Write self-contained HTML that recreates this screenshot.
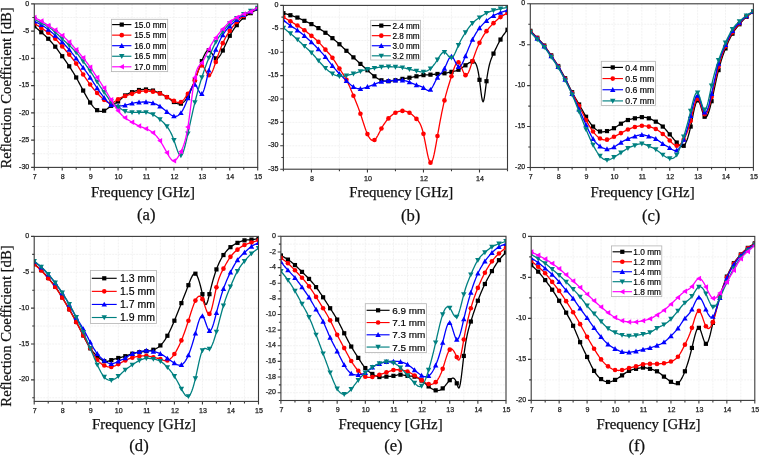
<!DOCTYPE html>
<html><head><meta charset="utf-8"><style>html,body{margin:0;padding:0;background:#fff;overflow:hidden;}svg{display:block;will-change:transform;}</style></head>
<body>
<svg width="760" height="456" viewBox="0 0 760 456">
<rect width="760" height="456" fill="#fff"/>
<path d="M48.26 3.90V167.40 M62.22 3.90V167.40 M76.19 3.90V167.40 M90.15 3.90V167.40 M104.11 3.90V167.40 M118.07 3.90V167.40 M132.04 3.90V167.40 M146.00 3.90V167.40 M159.96 3.90V167.40 M173.93 3.90V167.40 M187.89 3.90V167.40 M201.85 3.90V167.40 M215.81 3.90V167.40 M229.77 3.90V167.40 M243.74 3.90V167.40 M34.30 17.52H257.70 M34.30 31.15H257.70 M34.30 44.77H257.70 M34.30 58.40H257.70 M34.30 72.03H257.70 M34.30 85.65H257.70 M34.30 99.28H257.70 M34.30 112.90H257.70 M34.30 126.53H257.70 M34.30 140.15H257.70 M34.30 153.78H257.70" stroke="#f1f1f1" stroke-width="0.9" stroke-dasharray="2 1" fill="none"/>
<clipPath id="cpa"><rect x="34.30" y="3.90" width="223.40" height="163.50"/></clipPath><g clip-path="url(#cpa)">
<polyline points="34.30,26.24 35.00,26.84 35.70,27.43 36.39,28.02 37.09,28.62 37.79,29.21 38.49,29.81 39.19,30.41 39.89,31.02 40.58,31.63 41.28,32.24 41.98,32.86 42.68,33.48 43.38,34.11 44.07,34.75 44.77,35.39 45.47,36.05 46.17,36.71 46.87,37.39 47.56,38.08 48.26,38.78 48.96,39.50 49.66,40.23 50.36,40.97 51.05,41.73 51.75,42.51 52.45,43.31 53.15,44.12 53.85,44.96 54.55,45.81 55.24,46.68 55.94,47.58 56.64,48.49 57.34,49.42 58.04,50.36 58.73,51.32 59.43,52.28 60.13,53.26 60.83,54.24 61.53,55.23 62.22,56.22 62.92,57.21 63.62,58.20 64.32,59.20 65.02,60.20 65.72,61.20 66.41,62.21 67.11,63.22 67.81,64.24 68.51,65.27 69.21,66.30 69.90,67.35 70.60,68.40 71.30,69.47 72.00,70.55 72.70,71.65 73.40,72.77 74.09,73.91 74.79,75.07 75.49,76.26 76.19,77.48 76.89,78.72 77.58,79.99 78.28,81.28 78.98,82.59 79.68,83.91 80.38,85.24 81.07,86.57 81.77,87.91 82.47,89.24 83.17,90.56 83.87,91.86 84.57,93.15 85.26,94.42 85.96,95.67 86.66,96.90 87.36,98.10 88.06,99.26 88.75,100.39 89.45,101.49 90.15,102.55 90.85,103.56 91.55,104.52 92.24,105.44 92.94,106.31 93.64,107.11 94.34,107.86 95.04,108.54 95.73,109.16 96.43,109.70 97.13,110.18 97.83,110.57 98.53,110.89 99.23,111.13 99.92,111.29 100.62,111.38 101.32,111.40 102.02,111.34 102.72,111.20 103.41,111.00 104.11,110.72 104.81,110.37 105.51,109.96 106.21,109.50 106.90,109.01 107.60,108.48 108.30,107.94 109.00,107.39 109.70,106.84 110.40,106.32 111.09,105.81 111.79,105.35 112.49,104.91 113.19,104.50 113.89,104.09 114.58,103.69 115.28,103.29 115.98,102.87 116.68,102.43 117.38,101.96 118.07,101.45 118.77,100.90 119.47,100.31 120.17,99.70 120.87,99.06 121.57,98.42 122.26,97.78 122.96,97.16 123.66,96.55 124.36,95.99 125.06,95.46 125.75,94.98 126.45,94.56 127.15,94.17 127.85,93.82 128.55,93.51 129.25,93.21 129.94,92.94 130.64,92.68 131.34,92.44 132.04,92.19 132.74,91.94 133.43,91.70 134.13,91.45 134.83,91.21 135.53,90.98 136.23,90.76 136.92,90.55 137.62,90.35 138.32,90.17 139.02,90.01 139.72,89.87 140.42,89.75 141.11,89.65 141.81,89.57 142.51,89.51 143.21,89.47 143.91,89.45 144.60,89.44 145.30,89.44 146.00,89.47 146.70,89.50 147.40,89.55 148.09,89.62 148.79,89.70 149.49,89.80 150.19,89.91 150.89,90.05 151.58,90.20 152.28,90.37 152.98,90.56 153.68,90.76 154.38,90.99 155.08,91.23 155.77,91.49 156.47,91.76 157.17,92.04 157.87,92.34 158.57,92.64 159.26,92.96 159.96,93.28 160.66,93.61 161.36,93.94 162.06,94.29 162.75,94.64 163.45,95.01 164.15,95.39 164.85,95.79 165.55,96.20 166.25,96.64 166.94,97.10 167.64,97.57 168.34,98.07 169.04,98.57 169.74,99.08 170.43,99.60 171.13,100.11 171.83,100.61 172.53,101.09 173.23,101.56 173.93,102.00 174.62,102.41 175.32,102.78 176.02,103.11 176.72,103.39 177.42,103.61 178.11,103.77 178.81,103.85 179.51,103.87 180.21,103.80 180.91,103.64 181.60,103.38 182.30,103.03 183.00,102.58 183.70,102.03 184.40,101.37 185.09,100.62 185.79,99.76 186.49,98.80 187.19,97.73 187.89,96.55 188.59,95.26 189.28,93.88 189.98,92.40 190.68,90.84 191.38,89.20 192.08,87.50 192.77,85.74 193.47,83.93 194.17,82.08 194.87,80.20 195.57,78.29 196.26,76.37 196.96,74.44 197.66,72.50 198.36,70.56 199.06,68.63 199.76,66.72 200.45,64.83 201.15,62.96 201.85,61.12 202.55,59.33 203.25,57.62 203.94,56.00 204.64,54.52 205.34,53.20 206.04,52.08 206.74,51.20 207.43,50.57 208.13,50.23 208.83,50.22 209.53,50.56 210.23,51.17 210.93,52.02 211.62,53.01 212.32,54.09 213.02,55.19 213.72,56.23 214.42,57.16 215.11,57.91 215.81,58.40 216.51,58.59 217.21,58.48 217.91,58.11 218.61,57.51 219.30,56.69 220.00,55.70 220.70,54.56 221.40,53.29 222.10,51.93 222.79,50.50 223.49,49.03 224.19,47.53 224.89,46.01 225.59,44.48 226.28,42.96 226.98,41.46 227.68,39.98 228.38,38.53 229.08,37.13 229.77,35.78 230.47,34.50 231.17,33.28 231.87,32.12 232.57,31.01 233.27,29.95 233.96,28.93 234.66,27.94 235.36,26.99 236.06,26.06 236.76,25.15 237.45,24.27 238.15,23.40 238.85,22.55 239.55,21.73 240.25,20.94 240.94,20.18 241.64,19.45 242.34,18.77 243.04,18.12 243.74,17.52 244.44,16.97 245.13,16.46 245.83,15.99 246.53,15.54 247.23,15.12 247.93,14.72 248.62,14.33 249.32,13.94 250.02,13.56 250.72,13.16 251.42,12.76 252.12,12.35 252.81,11.93 253.51,11.50 254.21,11.06 254.91,10.62 255.61,10.17 256.30,9.72 257.00,9.26 257.70,8.80" stroke="#000000" stroke-width="1.3" fill="none" stroke-linejoin="round"/>
<rect x="32.20" y="24.14" width="4.20" height="4.20" fill="#000000"/>
<rect x="39.18" y="30.14" width="4.20" height="4.20" fill="#000000"/>
<rect x="46.16" y="36.68" width="4.20" height="4.20" fill="#000000"/>
<rect x="53.14" y="44.58" width="4.20" height="4.20" fill="#000000"/>
<rect x="60.12" y="54.12" width="4.20" height="4.20" fill="#000000"/>
<rect x="67.11" y="64.20" width="4.20" height="4.20" fill="#000000"/>
<rect x="74.09" y="75.38" width="4.20" height="4.20" fill="#000000"/>
<rect x="81.07" y="88.46" width="4.20" height="4.20" fill="#000000"/>
<rect x="88.05" y="100.45" width="4.20" height="4.20" fill="#000000"/>
<rect x="95.03" y="108.08" width="4.20" height="4.20" fill="#000000"/>
<rect x="102.01" y="108.62" width="4.20" height="4.20" fill="#000000"/>
<rect x="108.99" y="103.72" width="4.20" height="4.20" fill="#000000"/>
<rect x="115.97" y="99.35" width="4.20" height="4.20" fill="#000000"/>
<rect x="122.96" y="93.36" width="4.20" height="4.20" fill="#000000"/>
<rect x="129.94" y="90.09" width="4.20" height="4.20" fill="#000000"/>
<rect x="136.92" y="87.91" width="4.20" height="4.20" fill="#000000"/>
<rect x="143.90" y="87.37" width="4.20" height="4.20" fill="#000000"/>
<rect x="150.88" y="88.46" width="4.20" height="4.20" fill="#000000"/>
<rect x="157.86" y="91.18" width="4.20" height="4.20" fill="#000000"/>
<rect x="164.84" y="95.00" width="4.20" height="4.20" fill="#000000"/>
<rect x="171.83" y="99.90" width="4.20" height="4.20" fill="#000000"/>
<rect x="178.81" y="101.54" width="4.20" height="4.20" fill="#000000"/>
<rect x="185.79" y="94.45" width="4.20" height="4.20" fill="#000000"/>
<rect x="192.77" y="78.10" width="4.20" height="4.20" fill="#000000"/>
<rect x="199.75" y="59.02" width="4.20" height="4.20" fill="#000000"/>
<rect x="206.73" y="48.12" width="4.20" height="4.20" fill="#000000"/>
<rect x="213.71" y="56.30" width="4.20" height="4.20" fill="#000000"/>
<rect x="220.69" y="48.40" width="4.20" height="4.20" fill="#000000"/>
<rect x="227.67" y="33.68" width="4.20" height="4.20" fill="#000000"/>
<rect x="234.66" y="23.05" width="4.20" height="4.20" fill="#000000"/>
<rect x="241.64" y="15.42" width="4.20" height="4.20" fill="#000000"/>
<rect x="248.62" y="11.06" width="4.20" height="4.20" fill="#000000"/>
<rect x="255.60" y="6.71" width="4.20" height="4.20" fill="#000000"/>
<polyline points="34.30,23.52 35.00,23.95 35.70,24.37 36.39,24.80 37.09,25.23 37.79,25.66 38.49,26.10 39.19,26.54 39.89,26.98 40.58,27.43 41.28,27.88 41.98,28.34 42.68,28.80 43.38,29.27 44.07,29.75 44.77,30.24 45.47,30.73 46.17,31.23 46.87,31.74 47.56,32.26 48.26,32.79 48.96,33.32 49.66,33.87 50.36,34.43 51.05,35.00 51.75,35.59 52.45,36.19 53.15,36.81 53.85,37.45 54.55,38.10 55.24,38.78 55.94,39.48 56.64,40.20 57.34,40.93 58.04,41.68 58.73,42.45 59.43,43.23 60.13,44.01 60.83,44.81 61.53,45.61 62.22,46.41 62.92,47.22 63.62,48.02 64.32,48.83 65.02,49.65 65.72,50.46 66.41,51.28 67.11,52.10 67.81,52.93 68.51,53.75 69.21,54.59 69.90,55.42 70.60,56.26 71.30,57.12 72.00,57.98 72.70,58.86 73.40,59.76 74.09,60.67 74.79,61.61 75.49,62.58 76.19,63.58 76.89,64.60 77.58,65.66 78.28,66.73 78.98,67.82 79.68,68.93 80.38,70.04 81.07,71.16 81.77,72.27 82.47,73.38 83.17,74.48 83.87,75.56 84.57,76.62 85.26,77.67 85.96,78.71 86.66,79.72 87.36,80.72 88.06,81.71 88.75,82.68 89.45,83.63 90.15,84.56 90.85,85.48 91.55,86.38 92.24,87.26 92.94,88.13 93.64,88.98 94.34,89.82 95.04,90.64 95.73,91.44 96.43,92.23 97.13,93.01 97.83,93.77 98.53,94.51 99.23,95.24 99.92,95.95 100.62,96.64 101.32,97.32 102.02,97.98 102.72,98.61 103.41,99.23 104.11,99.82 104.81,100.39 105.51,100.93 106.21,101.43 106.90,101.88 107.60,102.27 108.30,102.60 109.00,102.86 109.70,103.03 110.40,103.11 111.09,103.09 111.79,102.96 112.49,102.74 113.19,102.44 113.89,102.08 114.58,101.66 115.28,101.20 115.98,100.72 116.68,100.23 117.38,99.74 118.07,99.28 118.77,98.84 119.47,98.43 120.17,98.05 120.87,97.70 121.57,97.37 122.26,97.06 122.96,96.78 123.66,96.50 124.36,96.25 125.06,96.00 125.75,95.77 126.45,95.55 127.15,95.33 127.85,95.12 128.55,94.91 129.25,94.70 129.94,94.48 130.64,94.27 131.34,94.05 132.04,93.83 132.74,93.59 133.43,93.35 134.13,93.11 134.83,92.87 135.53,92.63 136.23,92.41 136.92,92.19 137.62,91.99 138.32,91.81 139.02,91.65 139.72,91.51 140.42,91.39 141.11,91.30 141.81,91.23 142.51,91.17 143.21,91.13 143.91,91.11 144.60,91.10 145.30,91.09 146.00,91.10 146.70,91.11 147.40,91.13 148.09,91.16 148.79,91.20 149.49,91.25 150.19,91.30 150.89,91.37 151.58,91.45 152.28,91.54 152.98,91.65 153.68,91.76 154.38,91.89 155.08,92.04 155.77,92.20 156.47,92.38 157.17,92.58 157.87,92.79 158.57,93.03 159.26,93.28 159.96,93.55 160.66,93.85 161.36,94.16 162.06,94.49 162.75,94.83 163.45,95.19 164.15,95.56 164.85,95.93 165.55,96.32 166.25,96.70 166.94,97.10 167.64,97.49 168.34,97.88 169.04,98.27 169.74,98.66 170.43,99.05 171.13,99.43 171.83,99.81 172.53,100.18 173.23,100.55 173.93,100.91 174.62,101.26 175.32,101.59 176.02,101.89 176.72,102.15 177.42,102.34 178.11,102.46 178.81,102.50 179.51,102.45 180.21,102.29 180.91,102.00 181.60,101.58 182.30,101.05 183.00,100.40 183.70,99.66 184.40,98.83 185.09,97.92 185.79,96.96 186.49,95.95 187.19,94.90 187.89,93.83 188.59,92.74 189.28,91.62 189.98,90.47 190.68,89.26 191.38,87.99 192.08,86.64 192.77,85.20 193.47,83.66 194.17,81.99 194.87,80.20 195.57,78.27 196.26,76.27 196.96,74.26 197.66,72.30 198.36,70.47 199.06,68.82 199.76,67.44 200.45,66.37 201.15,65.70 201.85,65.49 202.55,65.77 203.25,66.47 203.94,67.50 204.64,68.75 205.34,70.13 206.04,71.52 206.74,72.84 207.43,73.97 208.13,74.82 208.83,75.30 209.53,75.31 210.23,74.89 210.93,74.09 211.62,72.95 212.32,71.53 213.02,69.88 213.72,68.05 214.42,66.08 215.11,64.03 215.81,61.94 216.51,59.87 217.21,57.82 217.91,55.80 218.61,53.81 219.30,51.88 220.00,50.00 220.70,48.17 221.40,46.42 222.10,44.74 222.79,43.14 223.49,41.63 224.19,40.20 224.89,38.85 225.59,37.56 226.28,36.34 226.98,35.17 227.68,34.04 228.38,32.96 229.08,31.90 229.77,30.88 230.47,29.87 231.17,28.88 231.87,27.92 232.57,26.97 233.27,26.06 233.96,25.16 234.66,24.30 235.36,23.46 236.06,22.66 236.76,21.88 237.45,21.15 238.15,20.44 238.85,19.77 239.55,19.13 240.25,18.51 240.94,17.93 241.64,17.38 242.34,16.86 243.04,16.36 243.74,15.89 244.44,15.45 245.13,15.02 245.83,14.62 246.53,14.23 247.23,13.86 247.93,13.50 248.62,13.14 249.32,12.79 250.02,12.43 250.72,12.08 251.42,11.71 252.12,11.34 252.81,10.97 253.51,10.59 254.21,10.21 254.91,9.82 255.61,9.43 256.30,9.04 257.00,8.65 257.70,8.26" stroke="#ff0000" stroke-width="1.3" fill="none" stroke-linejoin="round"/>
<circle cx="34.30" cy="23.52" r="2.31" fill="#ff0000"/>
<circle cx="41.28" cy="27.88" r="2.31" fill="#ff0000"/>
<circle cx="48.26" cy="32.79" r="2.31" fill="#ff0000"/>
<circle cx="55.24" cy="38.78" r="2.31" fill="#ff0000"/>
<circle cx="62.22" cy="46.41" r="2.31" fill="#ff0000"/>
<circle cx="69.21" cy="54.59" r="2.31" fill="#ff0000"/>
<circle cx="76.19" cy="63.58" r="2.31" fill="#ff0000"/>
<circle cx="83.17" cy="74.48" r="2.31" fill="#ff0000"/>
<circle cx="90.15" cy="84.56" r="2.31" fill="#ff0000"/>
<circle cx="97.13" cy="93.01" r="2.31" fill="#ff0000"/>
<circle cx="104.11" cy="99.82" r="2.31" fill="#ff0000"/>
<circle cx="111.09" cy="103.09" r="2.31" fill="#ff0000"/>
<circle cx="118.07" cy="99.28" r="2.31" fill="#ff0000"/>
<circle cx="125.06" cy="96.00" r="2.31" fill="#ff0000"/>
<circle cx="132.04" cy="93.83" r="2.31" fill="#ff0000"/>
<circle cx="139.02" cy="91.65" r="2.31" fill="#ff0000"/>
<circle cx="146.00" cy="91.10" r="2.31" fill="#ff0000"/>
<circle cx="152.98" cy="91.65" r="2.31" fill="#ff0000"/>
<circle cx="159.96" cy="93.55" r="2.31" fill="#ff0000"/>
<circle cx="166.94" cy="97.10" r="2.31" fill="#ff0000"/>
<circle cx="173.93" cy="100.91" r="2.31" fill="#ff0000"/>
<circle cx="180.91" cy="102.00" r="2.31" fill="#ff0000"/>
<circle cx="187.89" cy="93.83" r="2.31" fill="#ff0000"/>
<circle cx="194.87" cy="80.20" r="2.31" fill="#ff0000"/>
<circle cx="201.85" cy="65.49" r="2.31" fill="#ff0000"/>
<circle cx="208.83" cy="75.30" r="2.31" fill="#ff0000"/>
<circle cx="215.81" cy="61.94" r="2.31" fill="#ff0000"/>
<circle cx="222.79" cy="43.14" r="2.31" fill="#ff0000"/>
<circle cx="229.77" cy="30.88" r="2.31" fill="#ff0000"/>
<circle cx="236.76" cy="21.88" r="2.31" fill="#ff0000"/>
<circle cx="243.74" cy="15.89" r="2.31" fill="#ff0000"/>
<circle cx="250.72" cy="12.08" r="2.31" fill="#ff0000"/>
<circle cx="257.70" cy="8.26" r="2.31" fill="#ff0000"/>
<polyline points="34.30,21.34 35.00,21.67 35.70,22.01 36.39,22.35 37.09,22.69 37.79,23.04 38.49,23.39 39.19,23.75 39.89,24.12 40.58,24.49 41.28,24.88 41.98,25.28 42.68,25.70 43.38,26.12 44.07,26.56 44.77,27.02 45.47,27.48 46.17,27.97 46.87,28.47 47.56,28.98 48.26,29.52 48.96,30.06 49.66,30.63 50.36,31.21 51.05,31.80 51.75,32.40 52.45,33.01 53.15,33.63 53.85,34.25 54.55,34.88 55.24,35.51 55.94,36.14 56.64,36.77 57.34,37.41 58.04,38.05 58.73,38.69 59.43,39.35 60.13,40.01 60.83,40.68 61.53,41.36 62.22,42.05 62.92,42.76 63.62,43.47 64.32,44.21 65.02,44.95 65.72,45.71 66.41,46.48 67.11,47.26 67.81,48.05 68.51,48.86 69.21,49.68 69.90,50.51 70.60,51.35 71.30,52.20 72.00,53.07 72.70,53.94 73.40,54.82 74.09,55.70 74.79,56.60 75.49,57.50 76.19,58.40 76.89,59.31 77.58,60.22 78.28,61.14 78.98,62.06 79.68,62.99 80.38,63.91 81.07,64.85 81.77,65.78 82.47,66.72 83.17,67.66 83.87,68.61 84.57,69.56 85.26,70.52 85.96,71.48 86.66,72.45 87.36,73.43 88.06,74.42 88.75,75.43 89.45,76.44 90.15,77.48 90.85,78.52 91.55,79.58 92.24,80.65 92.94,81.72 93.64,82.80 94.34,83.87 95.04,84.94 95.73,86.01 96.43,87.06 97.13,88.10 97.83,89.13 98.53,90.13 99.23,91.12 99.92,92.10 100.62,93.06 101.32,94.00 102.02,94.93 102.72,95.85 103.41,96.75 104.11,97.64 104.81,98.52 105.51,99.37 106.21,100.21 106.90,101.01 107.60,101.76 108.30,102.48 109.00,103.14 109.70,103.74 110.40,104.27 111.09,104.73 111.79,105.10 112.49,105.41 113.19,105.65 113.89,105.83 114.58,105.96 115.28,106.05 115.98,106.09 116.68,106.11 117.38,106.11 118.07,106.09 118.77,106.06 119.47,106.02 120.17,105.97 120.87,105.91 121.57,105.84 122.26,105.76 122.96,105.66 123.66,105.55 124.36,105.42 125.06,105.27 125.75,105.11 126.45,104.93 127.15,104.74 127.85,104.54 128.55,104.33 129.25,104.13 129.94,103.93 130.64,103.73 131.34,103.54 132.04,103.36 132.74,103.20 133.43,103.05 134.13,102.92 134.83,102.80 135.53,102.69 136.23,102.59 136.92,102.50 137.62,102.42 138.32,102.34 139.02,102.27 139.72,102.21 140.42,102.15 141.11,102.10 141.81,102.06 142.51,102.02 143.21,101.99 143.91,101.98 144.60,101.97 145.30,101.98 146.00,102.00 146.70,102.03 147.40,102.08 148.09,102.14 148.79,102.22 149.49,102.32 150.19,102.43 150.89,102.57 151.58,102.72 152.28,102.89 152.98,103.09 153.68,103.31 154.38,103.55 155.08,103.81 155.77,104.10 156.47,104.41 157.17,104.75 157.87,105.11 158.57,105.50 159.26,105.92 159.96,106.36 160.66,106.83 161.36,107.33 162.06,107.84 162.75,108.38 163.45,108.93 164.15,109.49 164.85,110.07 165.55,110.65 166.25,111.23 166.94,111.81 167.64,112.39 168.34,112.96 169.04,113.51 169.74,114.03 170.43,114.52 171.13,114.96 171.83,115.36 172.53,115.70 173.23,115.97 173.93,116.17 174.62,116.29 175.32,116.32 176.02,116.26 176.72,116.11 177.42,115.86 178.11,115.50 178.81,115.03 179.51,114.44 180.21,113.73 180.91,112.90 181.60,111.94 182.30,110.85 183.00,109.64 183.70,108.32 184.40,106.88 185.09,105.34 185.79,103.69 186.49,101.95 187.19,100.11 187.89,98.19 188.59,96.18 189.28,94.16 189.98,92.17 190.68,90.29 191.38,88.57 192.08,87.07 192.77,85.86 193.47,85.00 194.17,84.54 194.87,84.56 195.57,85.08 196.26,86.01 196.96,87.24 197.66,88.63 198.36,90.08 199.06,91.45 199.76,92.64 200.45,93.51 201.15,93.94 201.85,93.83 202.55,93.07 203.25,91.72 203.94,89.88 204.64,87.62 205.34,85.04 206.04,82.23 206.74,79.27 207.43,76.25 208.13,73.26 208.83,70.39 209.53,67.70 210.23,65.21 210.93,62.88 211.62,60.69 212.32,58.64 213.02,56.70 213.72,54.85 214.42,53.08 215.11,51.36 215.81,49.68 216.51,48.02 217.21,46.38 217.91,44.78 218.61,43.21 219.30,41.69 220.00,40.22 220.70,38.80 221.40,37.45 222.10,36.17 222.79,34.97 223.49,33.84 224.19,32.80 224.89,31.82 225.59,30.90 226.28,30.04 226.98,29.22 227.68,28.44 228.38,27.69 229.08,26.96 229.77,26.24 230.47,25.54 231.17,24.85 231.87,24.16 232.57,23.48 233.27,22.82 233.96,22.17 234.66,21.53 235.36,20.91 236.06,20.30 236.76,19.70 237.45,19.13 238.15,18.57 238.85,18.03 239.55,17.51 240.25,17.01 240.94,16.53 241.64,16.06 242.34,15.62 243.04,15.20 243.74,14.80 244.44,14.42 245.13,14.06 245.83,13.72 246.53,13.38 247.23,13.06 247.93,12.75 248.62,12.44 249.32,12.14 250.02,11.84 250.72,11.53 251.42,11.22 252.12,10.90 252.81,10.58 253.51,10.26 254.21,9.93 254.91,9.60 255.61,9.27 256.30,8.93 257.00,8.60 257.70,8.26" stroke="#0000ff" stroke-width="1.3" fill="none" stroke-linejoin="round"/>
<polygon points="34.30,18.61 37.03,23.52 31.57,23.52" fill="#0000ff"/>
<polygon points="41.28,22.15 44.01,27.07 38.55,27.07" fill="#0000ff"/>
<polygon points="48.26,26.79 50.99,31.70 45.53,31.70" fill="#0000ff"/>
<polygon points="55.24,32.78 57.97,37.69 52.51,37.69" fill="#0000ff"/>
<polygon points="62.22,39.32 64.95,44.23 59.49,44.23" fill="#0000ff"/>
<polygon points="69.21,46.95 71.94,51.86 66.48,51.86" fill="#0000ff"/>
<polygon points="76.19,55.67 78.92,60.58 73.46,60.58" fill="#0000ff"/>
<polygon points="83.17,64.93 85.90,69.85 80.44,69.85" fill="#0000ff"/>
<polygon points="90.15,74.75 92.88,79.66 87.42,79.66" fill="#0000ff"/>
<polygon points="97.13,85.37 99.86,90.29 94.40,90.29" fill="#0000ff"/>
<polygon points="104.11,94.91 106.84,99.82 101.38,99.82" fill="#0000ff"/>
<polygon points="111.09,102.00 113.82,106.91 108.36,106.91" fill="#0000ff"/>
<polygon points="118.07,103.36 120.80,108.27 115.34,108.27" fill="#0000ff"/>
<polygon points="125.06,102.54 127.79,107.45 122.33,107.45" fill="#0000ff"/>
<polygon points="132.04,100.63 134.77,105.55 129.31,105.55" fill="#0000ff"/>
<polygon points="139.02,99.54 141.75,104.46 136.29,104.46" fill="#0000ff"/>
<polygon points="146.00,99.27 148.73,104.18 143.27,104.18" fill="#0000ff"/>
<polygon points="152.98,100.36 155.71,105.27 150.25,105.27" fill="#0000ff"/>
<polygon points="159.96,103.63 162.69,108.54 157.23,108.54" fill="#0000ff"/>
<polygon points="166.94,109.08 169.67,113.99 164.21,113.99" fill="#0000ff"/>
<polygon points="173.93,113.44 176.66,118.35 171.20,118.35" fill="#0000ff"/>
<polygon points="180.91,110.17 183.64,115.08 178.18,115.08" fill="#0000ff"/>
<polygon points="187.89,95.45 190.62,100.37 185.16,100.37" fill="#0000ff"/>
<polygon points="194.87,81.83 197.60,86.74 192.14,86.74" fill="#0000ff"/>
<polygon points="201.85,91.10 204.58,96.01 199.12,96.01" fill="#0000ff"/>
<polygon points="208.83,67.66 211.56,72.57 206.10,72.57" fill="#0000ff"/>
<polygon points="215.81,46.95 218.54,51.86 213.08,51.86" fill="#0000ff"/>
<polygon points="222.79,32.23 225.52,37.15 220.06,37.15" fill="#0000ff"/>
<polygon points="229.77,23.51 232.50,28.43 227.04,28.43" fill="#0000ff"/>
<polygon points="236.76,16.97 239.49,21.89 234.03,21.89" fill="#0000ff"/>
<polygon points="243.74,12.07 246.47,16.98 241.01,16.98" fill="#0000ff"/>
<polygon points="250.72,8.80 253.45,13.71 247.99,13.71" fill="#0000ff"/>
<polygon points="257.70,5.53 260.43,10.44 254.97,10.44" fill="#0000ff"/>
<polyline points="34.30,19.16 35.00,19.55 35.70,19.94 36.39,20.33 37.09,20.72 37.79,21.10 38.49,21.49 39.19,21.86 39.89,22.24 40.58,22.61 41.28,22.97 41.98,23.33 42.68,23.69 43.38,24.05 44.07,24.41 44.77,24.77 45.47,25.15 46.17,25.53 46.87,25.93 47.56,26.35 48.26,26.79 48.96,27.25 49.66,27.73 50.36,28.24 51.05,28.76 51.75,29.30 52.45,29.86 53.15,30.43 53.85,31.02 54.55,31.62 55.24,32.24 55.94,32.87 56.64,33.50 57.34,34.15 58.04,34.80 58.73,35.46 59.43,36.12 60.13,36.79 60.83,37.45 61.53,38.12 62.22,38.78 62.92,39.44 63.62,40.10 64.32,40.75 65.02,41.41 65.72,42.06 66.41,42.71 67.11,43.36 67.81,44.01 68.51,44.67 69.21,45.32 69.90,45.98 70.60,46.63 71.30,47.30 72.00,47.98 72.70,48.67 73.40,49.37 74.09,50.10 74.79,50.84 75.49,51.61 76.19,52.41 76.89,53.23 77.58,54.08 78.28,54.95 78.98,55.84 79.68,56.75 80.38,57.67 81.07,58.60 81.77,59.53 82.47,60.47 83.17,61.40 83.87,62.33 84.57,63.25 85.26,64.18 85.96,65.10 86.66,66.04 87.36,66.99 88.06,67.95 88.75,68.92 89.45,69.92 90.15,70.94 90.85,71.98 91.55,73.04 92.24,74.12 92.94,75.22 93.64,76.32 94.34,77.43 95.04,78.54 95.73,79.65 96.43,80.75 97.13,81.84 97.83,82.91 98.53,83.97 99.23,85.02 99.92,86.06 100.62,87.09 101.32,88.12 102.02,89.14 102.72,90.16 103.41,91.17 104.11,92.19 104.81,93.21 105.51,94.22 106.21,95.23 106.90,96.22 107.60,97.19 108.30,98.12 109.00,99.03 109.70,99.89 110.40,100.70 111.09,101.45 111.79,102.15 112.49,102.80 113.19,103.40 113.89,103.96 114.58,104.49 115.28,104.99 115.98,105.48 116.68,105.95 117.38,106.43 118.07,106.91 118.77,107.39 119.47,107.89 120.17,108.38 120.87,108.86 121.57,109.33 122.26,109.78 122.96,110.21 123.66,110.60 124.36,110.96 125.06,111.27 125.75,111.52 126.45,111.74 127.15,111.91 127.85,112.04 128.55,112.14 129.25,112.22 129.94,112.27 130.64,112.31 131.34,112.34 132.04,112.36 132.74,112.37 133.43,112.38 134.13,112.39 134.83,112.40 135.53,112.41 136.23,112.40 136.92,112.40 137.62,112.39 138.32,112.38 139.02,112.36 139.72,112.33 140.42,112.30 141.11,112.27 141.81,112.25 142.51,112.23 143.21,112.22 143.91,112.23 144.60,112.25 145.30,112.29 146.00,112.36 146.70,112.45 147.40,112.56 148.09,112.71 148.79,112.88 149.49,113.08 150.19,113.31 150.89,113.57 151.58,113.86 152.28,114.18 152.98,114.53 153.68,114.92 154.38,115.33 155.08,115.77 155.77,116.23 156.47,116.72 157.17,117.23 157.87,117.76 158.57,118.31 159.26,118.87 159.96,119.44 160.66,120.03 161.36,120.63 162.06,121.25 162.75,121.89 163.45,122.57 164.15,123.27 164.85,124.02 165.55,124.81 166.25,125.64 166.94,126.53 167.64,127.47 168.34,128.47 169.04,129.56 169.74,130.73 170.43,132.00 171.13,133.37 171.83,134.86 172.53,136.48 173.23,138.24 173.93,140.15 174.62,142.20 175.32,144.34 176.02,146.48 176.72,148.56 177.42,150.49 178.11,152.21 178.81,153.64 179.51,154.70 180.21,155.31 180.91,155.41 181.60,154.94 182.30,153.93 183.00,152.45 183.70,150.54 184.40,148.28 185.09,145.72 185.79,142.91 186.49,139.92 187.19,136.80 187.89,133.61 188.59,130.40 189.28,127.20 189.98,123.99 190.68,120.81 191.38,117.65 192.08,114.53 192.77,111.44 193.47,108.41 194.17,105.44 194.87,102.55 195.57,99.72 196.26,96.98 196.96,94.30 197.66,91.70 198.36,89.17 199.06,86.71 199.76,84.31 200.45,81.97 201.15,79.69 201.85,77.48 202.55,75.31 203.25,73.20 203.94,71.14 204.64,69.13 205.34,67.16 206.04,65.23 206.74,63.34 207.43,61.48 208.13,59.65 208.83,57.86 209.53,56.08 210.23,54.34 210.93,52.63 211.62,50.96 212.32,49.33 213.02,47.76 213.72,46.24 214.42,44.78 215.11,43.38 215.81,42.05 216.51,40.79 217.21,39.61 217.91,38.48 218.61,37.40 219.30,36.38 220.00,35.39 220.70,34.43 221.40,33.50 222.10,32.59 222.79,31.69 223.49,30.80 224.19,29.92 224.89,29.05 225.59,28.19 226.28,27.35 226.98,26.53 227.68,25.74 228.38,24.97 229.08,24.23 229.77,23.52 230.47,22.85 231.17,22.21 231.87,21.60 232.57,21.03 233.27,20.48 233.96,19.96 234.66,19.45 235.36,18.97 236.06,18.51 236.76,18.07 237.45,17.64 238.15,17.22 238.85,16.82 239.55,16.43 240.25,16.05 240.94,15.68 241.64,15.31 242.34,14.95 243.04,14.60 243.74,14.25 244.44,13.91 245.13,13.57 245.83,13.24 246.53,12.91 247.23,12.58 247.93,12.25 248.62,11.93 249.32,11.61 250.02,11.30 250.72,10.98 251.42,10.68 252.12,10.37 252.81,10.07 253.51,9.77 254.21,9.47 254.91,9.17 255.61,8.87 256.30,8.58 257.00,8.28 257.70,7.99" stroke="#008080" stroke-width="1.3" fill="none" stroke-linejoin="round"/>
<polygon points="34.30,21.89 37.03,16.98 31.57,16.98" fill="#008080"/>
<polygon points="41.28,25.70 44.01,20.79 38.55,20.79" fill="#008080"/>
<polygon points="48.26,29.52 50.99,24.61 45.53,24.61" fill="#008080"/>
<polygon points="55.24,34.97 57.97,30.06 52.51,30.06" fill="#008080"/>
<polygon points="62.22,41.51 64.95,36.60 59.49,36.60" fill="#008080"/>
<polygon points="69.21,48.05 71.94,43.14 66.48,43.14" fill="#008080"/>
<polygon points="76.19,55.14 78.92,50.22 73.46,50.22" fill="#008080"/>
<polygon points="83.17,64.13 85.90,59.21 80.44,59.21" fill="#008080"/>
<polygon points="90.15,73.67 92.88,68.75 87.42,68.75" fill="#008080"/>
<polygon points="97.13,84.57 99.86,79.65 94.40,79.65" fill="#008080"/>
<polygon points="104.11,94.92 106.84,90.01 101.38,90.01" fill="#008080"/>
<polygon points="111.09,104.18 113.82,99.27 108.36,99.27" fill="#008080"/>
<polygon points="118.07,109.64 120.80,104.72 115.34,104.72" fill="#008080"/>
<polygon points="125.06,114.00 127.79,109.08 122.33,109.08" fill="#008080"/>
<polygon points="132.04,115.09 134.77,110.17 129.31,110.17" fill="#008080"/>
<polygon points="139.02,115.09 141.75,110.17 136.29,110.17" fill="#008080"/>
<polygon points="146.00,115.09 148.73,110.17 143.27,110.17" fill="#008080"/>
<polygon points="152.98,117.27 155.71,112.35 150.25,112.35" fill="#008080"/>
<polygon points="159.96,122.17 162.69,117.26 157.23,117.26" fill="#008080"/>
<polygon points="166.94,129.25 169.67,124.34 164.21,124.34" fill="#008080"/>
<polygon points="173.93,142.88 176.66,137.97 171.20,137.97" fill="#008080"/>
<polygon points="180.91,158.14 183.64,153.23 178.18,153.23" fill="#008080"/>
<polygon points="187.89,136.34 190.62,131.43 185.16,131.43" fill="#008080"/>
<polygon points="194.87,105.28 197.60,100.36 192.14,100.36" fill="#008080"/>
<polygon points="201.85,80.21 204.58,75.29 199.12,75.29" fill="#008080"/>
<polygon points="208.83,60.59 211.56,55.67 206.10,55.67" fill="#008080"/>
<polygon points="215.81,44.78 218.54,39.87 213.08,39.87" fill="#008080"/>
<polygon points="222.79,34.42 225.52,29.51 220.06,29.51" fill="#008080"/>
<polygon points="229.77,26.25 232.50,21.34 227.04,21.34" fill="#008080"/>
<polygon points="236.76,20.80 239.49,15.89 234.03,15.89" fill="#008080"/>
<polygon points="243.74,16.98 246.47,12.07 241.01,12.07" fill="#008080"/>
<polygon points="250.72,13.71 253.45,8.80 247.99,8.80" fill="#008080"/>
<polygon points="257.70,10.72 260.43,5.80 254.97,5.80" fill="#008080"/>
<polyline points="34.30,17.52 35.00,17.86 35.70,18.19 36.39,18.53 37.09,18.87 37.79,19.22 38.49,19.57 39.19,19.93 39.89,20.30 40.58,20.68 41.28,21.07 41.98,21.47 42.68,21.88 43.38,22.31 44.07,22.74 44.77,23.18 45.47,23.62 46.17,24.07 46.87,24.52 47.56,24.98 48.26,25.43 48.96,25.88 49.66,26.33 50.36,26.78 51.05,27.23 51.75,27.69 52.45,28.15 53.15,28.62 53.85,29.09 54.55,29.57 55.24,30.06 55.94,30.56 56.64,31.07 57.34,31.59 58.04,32.12 58.73,32.66 59.43,33.21 60.13,33.77 60.83,34.34 61.53,34.92 62.22,35.51 62.92,36.11 63.62,36.73 64.32,37.35 65.02,37.98 65.72,38.63 66.41,39.29 67.11,39.96 67.81,40.64 68.51,41.34 69.21,42.05 69.90,42.77 70.60,43.51 71.30,44.25 72.00,45.01 72.70,45.77 73.40,46.54 74.09,47.32 74.79,48.10 75.49,48.89 76.19,49.68 76.89,50.47 77.58,51.27 78.28,52.07 78.98,52.87 79.68,53.68 80.38,54.50 81.07,55.32 81.77,56.16 82.47,57.00 83.17,57.86 83.87,58.72 84.57,59.60 85.26,60.50 85.96,61.40 86.66,62.32 87.36,63.25 88.06,64.20 88.75,65.16 89.45,66.13 90.15,67.12 90.85,68.12 91.55,69.14 92.24,70.16 92.94,71.19 93.64,72.23 94.34,73.28 95.04,74.33 95.73,75.38 96.43,76.43 97.13,77.48 97.83,78.52 98.53,79.56 99.23,80.60 99.92,81.65 100.62,82.70 101.32,83.76 102.02,84.82 102.72,85.90 103.41,86.99 104.11,88.10 104.81,89.23 105.51,90.37 106.21,91.53 106.90,92.70 107.60,93.87 108.30,95.06 109.00,96.25 109.70,97.44 110.40,98.63 111.09,99.82 111.79,101.00 112.49,102.18 113.19,103.34 113.89,104.48 114.58,105.60 115.28,106.70 115.98,107.76 116.68,108.79 117.38,109.78 118.07,110.72 118.77,111.62 119.47,112.47 120.17,113.27 120.87,114.03 121.57,114.75 122.26,115.43 122.96,116.08 123.66,116.69 124.36,117.26 125.06,117.81 125.75,118.32 126.45,118.81 127.15,119.27 127.85,119.71 128.55,120.14 129.25,120.56 129.94,120.97 130.64,121.37 131.34,121.77 132.04,122.16 132.74,122.57 133.43,122.97 134.13,123.38 134.83,123.78 135.53,124.18 136.23,124.57 136.92,124.94 137.62,125.31 138.32,125.65 139.02,125.98 139.72,126.29 140.42,126.58 141.11,126.85 141.81,127.12 142.51,127.38 143.21,127.63 143.91,127.89 144.60,128.15 145.30,128.42 146.00,128.70 146.70,129.00 147.40,129.32 148.09,129.66 148.79,130.01 149.49,130.40 150.19,130.81 150.89,131.26 151.58,131.73 152.28,132.24 152.98,132.79 153.68,133.38 154.38,134.01 155.08,134.68 155.77,135.40 156.47,136.16 157.17,136.97 157.87,137.83 158.57,138.73 159.26,139.69 159.96,140.69 160.66,141.75 161.36,142.86 162.06,144.01 162.75,145.19 163.45,146.40 164.15,147.64 164.85,148.89 165.55,150.15 166.25,151.42 166.94,152.69 167.64,153.94 168.34,155.16 169.04,156.33 169.74,157.42 170.43,158.40 171.13,159.25 171.83,159.94 172.53,160.46 173.23,160.77 173.93,160.86 174.62,160.70 175.32,160.31 176.02,159.72 176.72,158.94 177.42,157.99 178.11,156.90 178.81,155.70 179.51,154.40 180.21,153.02 180.91,151.60 181.60,150.13 182.30,148.58 183.00,146.89 183.70,145.02 184.40,142.92 185.09,140.53 185.79,137.80 186.49,134.68 187.19,131.12 187.89,127.07 188.59,122.50 189.28,117.51 189.98,112.23 190.68,106.78 191.38,101.28 192.08,95.86 192.77,90.64 193.47,85.76 194.17,81.33 194.87,77.48 195.57,74.29 196.26,71.72 196.96,69.68 197.66,68.08 198.36,66.83 199.06,65.84 199.76,65.03 200.45,64.30 201.15,63.58 201.85,62.76 202.55,61.78 203.25,60.66 203.94,59.40 204.64,58.04 205.34,56.61 206.04,55.12 206.74,53.60 207.43,52.08 208.13,50.59 208.83,49.13 209.53,47.75 210.23,46.43 210.93,45.18 211.62,43.98 212.32,42.83 213.02,41.73 213.72,40.67 214.42,39.65 215.11,38.66 215.81,37.69 216.51,36.74 217.21,35.82 217.91,34.91 218.61,34.02 219.30,33.14 220.00,32.28 220.70,31.44 221.40,30.60 222.10,29.78 222.79,28.97 223.49,28.17 224.19,27.38 224.89,26.61 225.59,25.85 226.28,25.12 226.98,24.41 227.68,23.73 228.38,23.08 229.08,22.47 229.77,21.88 230.47,21.34 231.17,20.84 231.87,20.36 232.57,19.91 233.27,19.48 233.96,19.07 234.66,18.67 235.36,18.29 236.06,17.91 236.76,17.52 237.45,17.14 238.15,16.76 238.85,16.37 239.55,16.00 240.25,15.63 240.94,15.27 241.64,14.92 242.34,14.59 243.04,14.27 243.74,13.98 244.44,13.71 245.13,13.46 245.83,13.23 246.53,13.00 247.23,12.77 247.93,12.55 248.62,12.31 249.32,12.07 250.02,11.81 250.72,11.53 251.42,11.22 252.12,10.89 252.81,10.54 253.51,10.17 254.21,9.79 254.91,9.39 255.61,8.98 256.30,8.56 257.00,8.14 257.70,7.71" stroke="#ff00ff" stroke-width="1.3" fill="none" stroke-linejoin="round"/>
<polygon points="31.57,17.52 36.48,14.79 36.48,20.25" fill="#ff00ff"/>
<polygon points="38.55,21.07 43.47,18.34 43.47,23.80" fill="#ff00ff"/>
<polygon points="45.53,25.43 50.45,22.70 50.45,28.16" fill="#ff00ff"/>
<polygon points="52.51,30.06 57.43,27.33 57.43,32.79" fill="#ff00ff"/>
<polygon points="59.49,35.51 64.41,32.78 64.41,38.24" fill="#ff00ff"/>
<polygon points="66.48,42.05 71.39,39.32 71.39,44.78" fill="#ff00ff"/>
<polygon points="73.46,49.68 78.37,46.95 78.37,52.41" fill="#ff00ff"/>
<polygon points="80.44,57.86 85.35,55.12 85.35,60.59" fill="#ff00ff"/>
<polygon points="87.42,67.12 92.33,64.39 92.33,69.85" fill="#ff00ff"/>
<polygon points="94.40,77.48 99.32,74.75 99.32,80.21" fill="#ff00ff"/>
<polygon points="101.38,88.10 106.30,85.37 106.30,90.83" fill="#ff00ff"/>
<polygon points="108.36,99.82 113.28,97.09 113.28,102.55" fill="#ff00ff"/>
<polygon points="115.34,110.72 120.26,107.99 120.26,113.45" fill="#ff00ff"/>
<polygon points="122.33,117.81 127.24,115.08 127.24,120.54" fill="#ff00ff"/>
<polygon points="129.31,122.16 134.22,119.43 134.22,124.89" fill="#ff00ff"/>
<polygon points="136.29,125.98 141.20,123.25 141.20,128.71" fill="#ff00ff"/>
<polygon points="143.27,128.70 148.18,125.97 148.18,131.43" fill="#ff00ff"/>
<polygon points="150.25,132.79 155.17,130.06 155.17,135.52" fill="#ff00ff"/>
<polygon points="157.23,140.69 162.15,137.97 162.15,143.42" fill="#ff00ff"/>
<polygon points="164.21,152.69 169.13,149.96 169.13,155.41" fill="#ff00ff"/>
<polygon points="171.20,160.86 176.11,158.13 176.11,163.59" fill="#ff00ff"/>
<polygon points="178.18,151.60 183.09,148.87 183.09,154.33" fill="#ff00ff"/>
<polygon points="185.16,127.07 190.07,124.34 190.07,129.80" fill="#ff00ff"/>
<polygon points="192.14,77.48 197.05,74.75 197.05,80.21" fill="#ff00ff"/>
<polygon points="199.12,62.76 204.03,60.03 204.03,65.49" fill="#ff00ff"/>
<polygon points="206.10,49.13 211.02,46.41 211.02,51.86" fill="#ff00ff"/>
<polygon points="213.08,37.69 218.00,34.96 218.00,40.42" fill="#ff00ff"/>
<polygon points="220.06,28.97 224.98,26.24 224.98,31.70" fill="#ff00ff"/>
<polygon points="227.04,21.88 231.96,19.15 231.96,24.61" fill="#ff00ff"/>
<polygon points="234.03,17.52 238.94,14.79 238.94,20.25" fill="#ff00ff"/>
<polygon points="241.01,13.98 245.92,11.25 245.92,16.71" fill="#ff00ff"/>
<polygon points="247.99,11.53 252.90,8.80 252.90,14.26" fill="#ff00ff"/>
<polygon points="254.97,7.71 259.88,4.98 259.88,10.45" fill="#ff00ff"/>
</g>
<rect x="34.30" y="3.90" width="223.40" height="163.50" fill="none" stroke="#3a3a3a" stroke-width="1.1"/>
<path d="M34.30 167.40v3.2 M48.26 167.40v2.0 M62.22 167.40v3.2 M76.19 167.40v2.0 M90.15 167.40v3.2 M104.11 167.40v2.0 M118.07 167.40v3.2 M132.04 167.40v2.0 M146.00 167.40v3.2 M159.96 167.40v2.0 M173.93 167.40v3.2 M187.89 167.40v2.0 M201.85 167.40v3.2 M215.81 167.40v2.0 M229.77 167.40v3.2 M243.74 167.40v2.0 M257.70 167.40v3.2 M34.30 3.90h-3.2 M34.30 17.52h-2.0 M34.30 31.15h-3.2 M34.30 44.77h-2.0 M34.30 58.40h-3.2 M34.30 72.03h-2.0 M34.30 85.65h-3.2 M34.30 99.28h-2.0 M34.30 112.90h-3.2 M34.30 126.53h-2.0 M34.30 140.15h-3.2 M34.30 153.78h-2.0 M34.30 167.40h-3.2" stroke="#3a3a3a" stroke-width="1.1" fill="none"/>
<g font-family="Liberation Sans" font-size="7.1" fill="#222" stroke="#222" stroke-width="0.25"><text x="34.80" y="178.90" text-anchor="middle">7</text><text x="62.72" y="178.90" text-anchor="middle">8</text><text x="90.65" y="178.90" text-anchor="middle">9</text><text x="118.57" y="178.90" text-anchor="middle">10</text><text x="146.50" y="178.90" text-anchor="middle">11</text><text x="174.43" y="178.90" text-anchor="middle">12</text><text x="202.35" y="178.90" text-anchor="middle">13</text><text x="230.27" y="178.90" text-anchor="middle">14</text><text x="258.20" y="178.90" text-anchor="middle">15</text><text x="29.30" y="5.50" text-anchor="end">0</text><text x="29.30" y="32.75" text-anchor="end">-5</text><text x="29.30" y="60.00" text-anchor="end">-10</text><text x="29.30" y="87.25" text-anchor="end">-15</text><text x="29.30" y="114.50" text-anchor="end">-20</text><text x="29.30" y="141.75" text-anchor="end">-25</text><text x="29.30" y="169.00" text-anchor="end">-30</text></g>
<rect x="111.4" y="19.3" width="56.30" height="52.30" fill="#fff" stroke="#b4b4b4" stroke-width="0.8"/>
<line x1="112.1" y1="24.60" x2="131.4" y2="24.60" stroke="#000000" stroke-width="1.15"/>
<rect x="119.65" y="22.50" width="4.20" height="4.20" fill="#000000"/>
<text x="134.2" y="27.59" font-family="Liberation Sans" font-size="8.3" fill="#000" stroke="#000" stroke-width="0.18">15.0 mm</text>
<line x1="112.1" y1="35.15" x2="131.4" y2="35.15" stroke="#ff0000" stroke-width="1.15"/>
<circle cx="121.75" cy="35.15" r="2.31" fill="#ff0000"/>
<text x="134.2" y="38.14" font-family="Liberation Sans" font-size="8.3" fill="#000" stroke="#000" stroke-width="0.18">15.5 mm</text>
<line x1="112.1" y1="45.70" x2="131.4" y2="45.70" stroke="#0000ff" stroke-width="1.15"/>
<polygon points="121.75,42.97 124.48,47.88 119.02,47.88" fill="#0000ff"/>
<text x="134.2" y="48.69" font-family="Liberation Sans" font-size="8.3" fill="#000" stroke="#000" stroke-width="0.18">16.0 mm</text>
<line x1="112.1" y1="56.25" x2="131.4" y2="56.25" stroke="#008080" stroke-width="1.15"/>
<polygon points="121.75,58.98 124.48,54.07 119.02,54.07" fill="#008080"/>
<text x="134.2" y="59.24" font-family="Liberation Sans" font-size="8.3" fill="#000" stroke="#000" stroke-width="0.18">16.5 mm</text>
<line x1="112.1" y1="66.80" x2="131.4" y2="66.80" stroke="#ff00ff" stroke-width="1.15"/>
<polygon points="119.02,66.80 123.93,64.07 123.93,69.53" fill="#ff00ff"/>
<text x="134.2" y="69.79" font-family="Liberation Sans" font-size="8.3" fill="#000" stroke="#000" stroke-width="0.18">17.0 mm</text>
<text x="142.90" y="197.00" text-anchor="middle" font-family="Liberation Serif" font-size="14.8" fill="#111" stroke="#111" stroke-width="0.25">Frequency [GHz]</text>
<text x="146.20" y="219.50" text-anchor="middle" font-family="Liberation Serif" font-size="16.6" fill="#111" stroke="#111" stroke-width="0.25">(a)</text>
<text transform="translate(11.2,87.90) rotate(-90)" text-anchor="middle" font-family="Liberation Serif" font-size="14.7" fill="#111" stroke="#111" stroke-width="0.25">Reflection Coefficient [dB]</text>
<path d="M311.41 5.40V169.20 M339.42 5.40V169.20 M367.44 5.40V169.20 M395.45 5.40V169.20 M423.46 5.40V169.20 M451.48 5.40V169.20 M479.49 5.40V169.20 M283.40 17.10H507.50 M283.40 28.80H507.50 M283.40 40.50H507.50 M283.40 52.20H507.50 M283.40 63.90H507.50 M283.40 75.60H507.50 M283.40 87.30H507.50 M283.40 99.00H507.50 M283.40 110.70H507.50 M283.40 122.40H507.50 M283.40 134.10H507.50 M283.40 145.80H507.50 M283.40 157.50H507.50" stroke="#f1f1f1" stroke-width="0.9" stroke-dasharray="2 1" fill="none"/>
<clipPath id="cpb"><rect x="283.40" y="5.40" width="224.10" height="163.80"/></clipPath><g clip-path="url(#cpb)">
<polyline points="283.40,13.17 284.10,13.37 284.80,13.58 285.50,13.79 286.20,13.99 286.90,14.20 287.60,14.40 288.30,14.61 289.00,14.81 289.70,15.02 290.40,15.23 291.10,15.44 291.80,15.64 292.50,15.86 293.20,16.07 293.90,16.30 294.60,16.53 295.31,16.77 296.01,17.02 296.71,17.29 297.41,17.57 298.11,17.86 298.81,18.17 299.51,18.49 300.21,18.82 300.91,19.15 301.61,19.49 302.31,19.83 303.01,20.17 303.71,20.51 304.41,20.84 305.11,21.17 305.81,21.50 306.51,21.82 307.21,22.14 307.91,22.46 308.61,22.78 309.31,23.10 310.01,23.43 310.71,23.77 311.41,24.12 312.11,24.48 312.81,24.85 313.51,25.22 314.21,25.61 314.91,26.00 315.61,26.41 316.31,26.82 317.01,27.24 317.72,27.67 318.42,28.10 319.12,28.54 319.82,28.98 320.52,29.43 321.22,29.89 321.92,30.36 322.62,30.83 323.32,31.30 324.02,31.79 324.72,32.28 325.42,32.78 326.12,33.28 326.82,33.80 327.52,34.32 328.22,34.84 328.92,35.38 329.62,35.92 330.32,36.47 331.02,37.03 331.72,37.59 332.42,38.16 333.12,38.74 333.82,39.32 334.52,39.92 335.22,40.52 335.92,41.12 336.62,41.73 337.32,42.35 338.02,42.98 338.72,43.61 339.42,44.24 340.13,44.89 340.83,45.53 341.53,46.18 342.23,46.84 342.93,47.50 343.63,48.16 344.33,48.82 345.03,49.48 345.73,50.14 346.43,50.80 347.13,51.45 347.83,52.11 348.53,52.76 349.23,53.42 349.93,54.07 350.63,54.73 351.33,55.38 352.03,56.04 352.73,56.69 353.43,57.35 354.13,58.01 354.83,58.67 355.53,59.33 356.23,59.99 356.93,60.64 357.63,61.30 358.33,61.96 359.03,62.61 359.73,63.26 360.43,63.90 361.13,64.54 361.84,65.18 362.54,65.81 363.24,66.44 363.94,67.07 364.64,67.69 365.34,68.32 366.04,68.95 366.74,69.58 367.44,70.22 368.14,70.86 368.84,71.49 369.54,72.13 370.24,72.76 370.94,73.39 371.64,74.00 372.34,74.60 373.04,75.19 373.74,75.76 374.44,76.30 375.14,76.83 375.84,77.32 376.54,77.80 377.24,78.24 377.94,78.66 378.64,79.05 379.34,79.40 380.04,79.73 380.74,80.02 381.44,80.28 382.14,80.50 382.84,80.69 383.54,80.85 384.25,80.98 384.95,81.08 385.65,81.16 386.35,81.20 387.05,81.23 387.75,81.23 388.45,81.22 389.15,81.18 389.85,81.13 390.55,81.06 391.25,80.98 391.95,80.89 392.65,80.78 393.35,80.67 394.05,80.54 394.75,80.41 395.45,80.28 396.15,80.14 396.85,80.00 397.55,79.86 398.25,79.71 398.95,79.57 399.65,79.42 400.35,79.28 401.05,79.14 401.75,79.01 402.45,78.88 403.15,78.75 403.85,78.63 404.55,78.51 405.25,78.40 405.95,78.29 406.65,78.18 407.36,78.06 408.06,77.95 408.76,77.83 409.46,77.71 410.16,77.58 410.86,77.45 411.56,77.31 412.26,77.17 412.96,77.03 413.66,76.88 414.36,76.74 415.06,76.59 415.76,76.45 416.46,76.30 417.16,76.16 417.86,76.02 418.56,75.89 419.26,75.75 419.96,75.63 420.66,75.51 421.36,75.40 422.06,75.30 422.76,75.21 423.46,75.13 424.16,75.06 424.86,75.01 425.56,74.96 426.26,74.91 426.96,74.87 427.66,74.83 428.36,74.80 429.06,74.76 429.77,74.71 430.47,74.66 431.17,74.61 431.87,74.54 432.57,74.48 433.27,74.41 433.97,74.33 434.67,74.25 435.37,74.18 436.07,74.10 436.77,74.03 437.47,73.96 438.17,73.90 438.87,73.84 439.57,73.78 440.27,73.72 440.97,73.66 441.67,73.59 442.37,73.52 443.07,73.44 443.77,73.36 444.47,73.26 445.17,73.15 445.87,73.03 446.57,72.91 447.27,72.77 447.97,72.63 448.67,72.48 449.37,72.32 450.07,72.17 450.77,72.01 451.48,71.86 452.18,71.70 452.88,71.54 453.58,71.38 454.28,71.20 454.98,71.01 455.68,70.81 456.38,70.58 457.08,70.34 457.78,70.06 458.48,69.75 459.18,69.41 459.88,69.03 460.58,68.63 461.28,68.20 461.98,67.76 462.68,67.29 463.38,66.81 464.08,66.31 464.78,65.81 465.48,65.30 466.18,64.80 466.88,64.29 467.58,63.81 468.28,63.35 468.98,62.92 469.68,62.53 470.38,62.19 471.08,61.91 471.78,61.70 472.48,61.56 473.18,61.52 473.88,61.65 474.59,62.05 475.29,62.80 475.99,64.00 476.69,65.73 477.39,68.09 478.09,71.16 478.79,75.04 479.49,79.81 480.19,85.42 480.89,91.23 481.59,96.42 482.29,100.21 482.99,101.81 483.69,100.67 484.39,97.28 485.09,92.41 485.79,86.80 486.49,81.22 487.19,76.26 487.89,72.00 488.59,68.36 489.29,65.26 489.99,62.62 490.69,60.36 491.39,58.41 492.09,56.68 492.79,55.11 493.49,53.60 494.19,52.11 494.89,50.62 495.59,49.13 496.30,47.66 497.00,46.22 497.70,44.80 498.40,43.42 499.10,42.08 499.80,40.79 500.50,39.56 501.20,38.40 501.90,37.29 502.60,36.23 503.30,35.22 504.00,34.25 504.70,33.31 505.40,32.39 506.10,31.49 506.80,30.61 507.50,29.74" stroke="#000000" stroke-width="1.3" fill="none" stroke-linejoin="round"/>
<rect x="281.30" y="11.07" width="4.20" height="4.20" fill="#000000"/>
<rect x="288.30" y="13.13" width="4.20" height="4.20" fill="#000000"/>
<rect x="295.31" y="15.47" width="4.20" height="4.20" fill="#000000"/>
<rect x="302.31" y="18.74" width="4.20" height="4.20" fill="#000000"/>
<rect x="309.31" y="22.02" width="4.20" height="4.20" fill="#000000"/>
<rect x="316.32" y="26.00" width="4.20" height="4.20" fill="#000000"/>
<rect x="323.32" y="30.68" width="4.20" height="4.20" fill="#000000"/>
<rect x="330.32" y="36.06" width="4.20" height="4.20" fill="#000000"/>
<rect x="337.32" y="42.14" width="4.20" height="4.20" fill="#000000"/>
<rect x="344.33" y="48.70" width="4.20" height="4.20" fill="#000000"/>
<rect x="351.33" y="55.25" width="4.20" height="4.20" fill="#000000"/>
<rect x="358.33" y="61.80" width="4.20" height="4.20" fill="#000000"/>
<rect x="365.34" y="68.12" width="4.20" height="4.20" fill="#000000"/>
<rect x="372.34" y="74.20" width="4.20" height="4.20" fill="#000000"/>
<rect x="379.34" y="78.18" width="4.20" height="4.20" fill="#000000"/>
<rect x="386.35" y="79.12" width="4.20" height="4.20" fill="#000000"/>
<rect x="393.35" y="78.18" width="4.20" height="4.20" fill="#000000"/>
<rect x="400.35" y="76.78" width="4.20" height="4.20" fill="#000000"/>
<rect x="407.36" y="75.61" width="4.20" height="4.20" fill="#000000"/>
<rect x="414.36" y="74.20" width="4.20" height="4.20" fill="#000000"/>
<rect x="421.36" y="73.03" width="4.20" height="4.20" fill="#000000"/>
<rect x="428.37" y="72.56" width="4.20" height="4.20" fill="#000000"/>
<rect x="435.37" y="71.86" width="4.20" height="4.20" fill="#000000"/>
<rect x="442.37" y="71.16" width="4.20" height="4.20" fill="#000000"/>
<rect x="449.38" y="69.76" width="4.20" height="4.20" fill="#000000"/>
<rect x="456.38" y="67.65" width="4.20" height="4.20" fill="#000000"/>
<rect x="463.38" y="63.20" width="4.20" height="4.20" fill="#000000"/>
<rect x="470.38" y="59.46" width="4.20" height="4.20" fill="#000000"/>
<rect x="477.39" y="77.71" width="4.20" height="4.20" fill="#000000"/>
<rect x="484.39" y="79.12" width="4.20" height="4.20" fill="#000000"/>
<rect x="491.39" y="51.50" width="4.20" height="4.20" fill="#000000"/>
<rect x="498.40" y="37.46" width="4.20" height="4.20" fill="#000000"/>
<rect x="505.40" y="27.64" width="4.20" height="4.20" fill="#000000"/>
<polyline points="283.40,17.10 284.10,17.52 284.80,17.95 285.50,18.37 286.20,18.79 286.90,19.21 287.60,19.63 288.30,20.05 289.00,20.47 289.70,20.89 290.40,21.31 291.10,21.73 291.80,22.15 292.50,22.56 293.20,22.98 293.90,23.40 294.60,23.82 295.31,24.24 296.01,24.67 296.71,25.09 297.41,25.52 298.11,25.96 298.81,26.40 299.51,26.84 300.21,27.29 300.91,27.75 301.61,28.22 302.31,28.70 303.01,29.19 303.71,29.69 304.41,30.20 305.11,30.73 305.81,31.27 306.51,31.82 307.21,32.38 307.91,32.95 308.61,33.52 309.31,34.09 310.01,34.67 310.71,35.25 311.41,35.82 312.11,36.39 312.81,36.96 313.51,37.54 314.21,38.12 314.91,38.71 315.61,39.31 316.31,39.93 317.01,40.56 317.72,41.22 318.42,41.90 319.12,42.61 319.82,43.35 320.52,44.11 321.22,44.88 321.92,45.66 322.62,46.45 323.32,47.25 324.02,48.05 324.72,48.84 325.42,49.63 326.12,50.40 326.82,51.17 327.52,51.94 328.22,52.71 328.92,53.50 329.62,54.30 330.32,55.13 331.02,55.99 331.72,56.88 332.42,57.82 333.12,58.80 333.82,59.82 334.52,60.87 335.22,61.95 335.92,63.05 336.62,64.16 337.32,65.28 338.02,66.39 338.72,67.49 339.42,68.58 340.13,69.64 340.83,70.69 341.53,71.74 342.23,72.79 342.93,73.86 343.63,74.95 344.33,76.09 345.03,77.27 345.73,78.51 346.43,79.81 347.13,81.19 347.83,82.65 348.53,84.16 349.23,85.72 349.93,87.33 350.63,88.97 351.33,90.64 352.03,92.33 352.73,94.03 353.43,95.72 354.13,97.41 354.83,99.11 355.53,100.81 356.23,102.53 356.93,104.27 357.63,106.06 358.33,107.89 359.03,109.77 359.73,111.72 360.43,113.74 361.13,115.84 361.84,118.00 362.54,120.18 363.24,122.37 363.94,124.53 364.64,126.65 365.34,128.69 366.04,130.63 366.74,132.44 367.44,134.10 368.14,135.58 368.84,136.88 369.54,137.98 370.24,138.89 370.94,139.60 371.64,140.10 372.34,140.40 373.04,140.47 373.74,140.32 374.44,139.95 375.14,139.35 375.84,138.55 376.54,137.58 377.24,136.46 377.94,135.24 378.64,133.93 379.34,132.57 380.04,131.19 380.74,129.82 381.44,128.48 382.14,127.22 382.84,126.01 383.54,124.87 384.25,123.79 384.95,122.77 385.65,121.80 386.35,120.89 387.05,120.02 387.75,119.20 388.45,118.42 389.15,117.68 389.85,116.99 390.55,116.33 391.25,115.71 391.95,115.13 392.65,114.59 393.35,114.08 394.05,113.62 394.75,113.19 395.45,112.81 396.15,112.46 396.85,112.14 397.55,111.87 398.25,111.63 398.95,111.42 399.65,111.26 400.35,111.12 401.05,111.03 401.75,110.96 402.45,110.93 403.15,110.94 403.85,110.98 404.55,111.06 405.25,111.17 405.95,111.33 406.65,111.53 407.36,111.78 408.06,112.07 408.76,112.41 409.46,112.81 410.16,113.25 410.86,113.74 411.56,114.28 412.26,114.85 412.96,115.46 413.66,116.10 414.36,116.77 415.06,117.46 415.76,118.17 416.46,118.89 417.16,119.63 417.86,120.42 418.56,121.31 419.26,122.33 419.96,123.54 420.66,124.98 421.36,126.69 422.06,128.71 422.76,131.09 423.46,133.87 424.16,137.06 424.86,140.56 425.56,144.22 426.26,147.91 426.96,151.47 427.66,154.79 428.36,157.70 429.06,160.07 429.77,161.77 430.47,162.65 431.17,162.61 431.87,161.71 432.57,160.05 433.27,157.75 433.97,154.89 434.67,151.59 435.37,147.95 436.07,144.06 436.77,140.03 437.47,135.97 438.17,131.96 438.87,128.02 439.57,124.17 440.27,120.41 440.97,116.76 441.67,113.22 442.37,109.81 443.07,106.53 443.77,103.39 444.47,100.40 445.17,97.58 445.87,94.89 446.57,92.33 447.27,89.88 447.97,87.51 448.67,85.21 449.37,82.95 450.07,80.73 450.77,78.52 451.48,76.30 452.18,74.07 452.88,71.87 453.58,69.75 454.28,67.78 454.98,66.02 455.68,64.51 456.38,63.33 457.08,62.52 457.78,62.15 458.48,62.26 459.18,62.90 459.88,63.98 460.58,65.38 461.28,67.00 461.98,68.73 462.68,70.46 463.38,72.08 464.08,73.47 464.78,74.52 465.48,75.13 466.18,75.22 466.88,74.81 467.58,73.96 468.28,72.75 468.98,71.23 469.68,69.45 470.38,67.49 471.08,65.40 471.78,63.25 472.48,61.09 473.18,58.98 473.88,56.93 474.59,54.94 475.29,53.01 475.99,51.14 476.69,49.34 477.39,47.61 478.09,45.95 478.79,44.36 479.49,42.84 480.19,41.40 480.89,40.03 481.59,38.72 482.29,37.49 482.99,36.30 483.69,35.18 484.39,34.10 485.09,33.07 485.79,32.09 486.49,31.14 487.19,30.23 487.89,29.35 488.59,28.49 489.29,27.67 489.99,26.87 490.69,26.10 491.39,25.34 492.09,24.61 492.79,23.89 493.49,23.18 494.19,22.49 494.89,21.82 495.59,21.16 496.30,20.51 497.00,19.89 497.70,19.28 498.40,18.70 499.10,18.14 499.80,17.61 500.50,17.10 501.20,16.62 501.90,16.17 502.60,15.74 503.30,15.33 504.00,14.93 504.70,14.55 505.40,14.19 506.10,13.83 506.80,13.47 507.50,13.12" stroke="#ff0000" stroke-width="1.3" fill="none" stroke-linejoin="round"/>
<circle cx="283.40" cy="17.10" r="2.31" fill="#ff0000"/>
<circle cx="290.40" cy="21.31" r="2.31" fill="#ff0000"/>
<circle cx="297.41" cy="25.52" r="2.31" fill="#ff0000"/>
<circle cx="304.41" cy="30.20" r="2.31" fill="#ff0000"/>
<circle cx="311.41" cy="35.82" r="2.31" fill="#ff0000"/>
<circle cx="318.42" cy="41.90" r="2.31" fill="#ff0000"/>
<circle cx="325.42" cy="49.63" r="2.31" fill="#ff0000"/>
<circle cx="332.42" cy="57.82" r="2.31" fill="#ff0000"/>
<circle cx="339.42" cy="68.58" r="2.31" fill="#ff0000"/>
<circle cx="346.43" cy="79.81" r="2.31" fill="#ff0000"/>
<circle cx="353.43" cy="95.72" r="2.31" fill="#ff0000"/>
<circle cx="360.43" cy="113.74" r="2.31" fill="#ff0000"/>
<circle cx="367.44" cy="134.10" r="2.31" fill="#ff0000"/>
<circle cx="374.44" cy="139.95" r="2.31" fill="#ff0000"/>
<circle cx="381.44" cy="128.48" r="2.31" fill="#ff0000"/>
<circle cx="388.45" cy="118.42" r="2.31" fill="#ff0000"/>
<circle cx="395.45" cy="112.81" r="2.31" fill="#ff0000"/>
<circle cx="402.45" cy="110.93" r="2.31" fill="#ff0000"/>
<circle cx="409.46" cy="112.81" r="2.31" fill="#ff0000"/>
<circle cx="416.46" cy="118.89" r="2.31" fill="#ff0000"/>
<circle cx="423.46" cy="133.87" r="2.31" fill="#ff0000"/>
<circle cx="430.47" cy="162.65" r="2.31" fill="#ff0000"/>
<circle cx="437.47" cy="135.97" r="2.31" fill="#ff0000"/>
<circle cx="444.47" cy="100.40" r="2.31" fill="#ff0000"/>
<circle cx="451.48" cy="76.30" r="2.31" fill="#ff0000"/>
<circle cx="458.48" cy="62.26" r="2.31" fill="#ff0000"/>
<circle cx="465.48" cy="75.13" r="2.31" fill="#ff0000"/>
<circle cx="472.48" cy="61.09" r="2.31" fill="#ff0000"/>
<circle cx="479.49" cy="42.84" r="2.31" fill="#ff0000"/>
<circle cx="486.49" cy="31.14" r="2.31" fill="#ff0000"/>
<circle cx="493.49" cy="23.18" r="2.31" fill="#ff0000"/>
<circle cx="500.50" cy="17.10" r="2.31" fill="#ff0000"/>
<circle cx="507.50" cy="13.12" r="2.31" fill="#ff0000"/>
<polyline points="283.40,20.14 284.10,20.70 284.80,21.27 285.50,21.82 286.20,22.38 286.90,22.92 287.60,23.47 288.30,24.00 289.00,24.52 289.70,25.03 290.40,25.52 291.10,26.01 291.80,26.48 292.50,26.94 293.20,27.40 293.90,27.85 294.60,28.31 295.31,28.77 296.01,29.24 296.71,29.71 297.41,30.20 298.11,30.71 298.81,31.23 299.51,31.77 300.21,32.32 300.91,32.88 301.61,33.45 302.31,34.03 303.01,34.62 303.71,35.22 304.41,35.82 305.11,36.43 305.81,37.04 306.51,37.65 307.21,38.27 307.91,38.90 308.61,39.53 309.31,40.17 310.01,40.82 310.71,41.47 311.41,42.14 312.11,42.81 312.81,43.49 313.51,44.18 314.21,44.87 314.91,45.57 315.61,46.28 316.31,46.99 317.01,47.71 317.72,48.43 318.42,49.16 319.12,49.89 319.82,50.62 320.52,51.36 321.22,52.11 321.92,52.87 322.62,53.64 323.32,54.42 324.02,55.23 324.72,56.04 325.42,56.88 326.12,57.74 326.82,58.61 327.52,59.50 328.22,60.40 328.92,61.30 329.62,62.20 330.32,63.11 331.02,64.01 331.72,64.90 332.42,65.77 333.12,66.63 333.82,67.48 334.52,68.31 335.22,69.12 335.92,69.92 336.62,70.71 337.32,71.48 338.02,72.24 338.72,72.99 339.42,73.73 340.13,74.46 340.83,75.18 341.53,75.89 342.23,76.59 342.93,77.29 343.63,77.99 344.33,78.68 345.03,79.37 345.73,80.06 346.43,80.75 347.13,81.44 347.83,82.13 348.53,82.80 349.23,83.47 349.93,84.11 350.63,84.73 351.33,85.31 352.03,85.86 352.73,86.37 353.43,86.83 354.13,87.24 354.83,87.60 355.53,87.91 356.23,88.16 356.93,88.37 357.63,88.53 358.33,88.64 359.03,88.71 359.73,88.73 360.43,88.70 361.13,88.64 361.84,88.53 362.54,88.39 363.24,88.22 363.94,88.03 364.64,87.81 365.34,87.58 366.04,87.34 366.74,87.08 367.44,86.83 368.14,86.58 368.84,86.33 369.54,86.08 370.24,85.83 370.94,85.58 371.64,85.32 372.34,85.06 373.04,84.80 373.74,84.53 374.44,84.26 375.14,83.98 375.84,83.69 376.54,83.41 377.24,83.13 377.94,82.85 378.64,82.59 379.34,82.33 380.04,82.10 380.74,81.88 381.44,81.68 382.14,81.52 382.84,81.37 383.54,81.25 384.25,81.14 384.95,81.05 385.65,80.97 386.35,80.91 387.05,80.85 387.75,80.80 388.45,80.75 389.15,80.70 389.85,80.65 390.55,80.60 391.25,80.55 391.95,80.51 392.65,80.46 393.35,80.41 394.05,80.37 394.75,80.32 395.45,80.28 396.15,80.24 396.85,80.20 397.55,80.16 398.25,80.14 398.95,80.12 399.65,80.12 400.35,80.13 401.05,80.16 401.75,80.21 402.45,80.28 403.15,80.38 403.85,80.50 404.55,80.64 405.25,80.80 405.95,80.98 406.65,81.19 407.36,81.40 408.06,81.64 408.76,81.89 409.46,82.15 410.16,82.43 410.86,82.71 411.56,83.00 412.26,83.29 412.96,83.59 413.66,83.88 414.36,84.17 415.06,84.44 415.76,84.71 416.46,84.96 417.16,85.20 417.86,85.42 418.56,85.65 419.26,85.87 419.96,86.12 420.66,86.38 421.36,86.66 422.06,86.99 422.76,87.35 423.46,87.77 424.16,88.23 424.86,88.72 425.56,89.21 426.26,89.65 426.96,90.02 427.66,90.28 428.36,90.41 429.06,90.37 429.77,90.12 430.47,89.64 431.17,88.90 431.87,87.95 432.57,86.81 433.27,85.53 433.97,84.16 434.67,82.75 435.37,81.33 436.07,79.94 436.77,78.64 437.47,77.47 438.17,76.46 438.87,75.57 439.57,74.78 440.27,74.04 440.97,73.32 441.67,72.57 442.37,71.77 443.07,70.86 443.77,69.81 444.47,68.58 445.17,67.15 445.87,65.58 446.57,63.94 447.27,62.29 447.97,60.71 448.67,59.28 449.37,58.06 450.07,57.13 450.77,56.56 451.48,56.41 452.18,56.74 452.88,57.48 453.58,58.53 454.28,59.80 454.98,61.20 455.68,62.62 456.38,63.98 457.08,65.17 457.78,66.12 458.48,66.71 459.18,66.88 459.88,66.65 460.58,66.07 461.28,65.18 461.98,64.03 462.68,62.66 463.38,61.12 464.08,59.46 464.78,57.72 465.48,55.94 466.18,54.17 466.88,52.42 467.58,50.69 468.28,48.98 468.98,47.31 469.68,45.67 470.38,44.07 471.08,42.52 471.78,41.01 472.48,39.56 473.18,38.17 473.88,36.84 474.59,35.57 475.29,34.35 475.99,33.18 476.69,32.06 477.39,31.00 478.09,29.98 478.79,29.02 479.49,28.10 480.19,27.22 480.89,26.39 481.59,25.59 482.29,24.83 482.99,24.11 483.69,23.41 484.39,22.74 485.09,22.09 485.79,21.46 486.49,20.84 487.19,20.24 487.89,19.66 488.59,19.09 489.29,18.54 489.99,18.01 490.69,17.50 491.39,17.01 492.09,16.55 492.79,16.11 493.49,15.70 494.19,15.31 494.89,14.95 495.59,14.62 496.30,14.30 497.00,14.00 497.70,13.71 498.40,13.44 499.10,13.17 499.80,12.91 500.50,12.65 501.20,12.40 501.90,12.14 502.60,11.88 503.30,11.62 504.00,11.37 504.70,11.11 505.40,10.85 506.10,10.59 506.80,10.34 507.50,10.08" stroke="#0000ff" stroke-width="1.3" fill="none" stroke-linejoin="round"/>
<polygon points="283.40,17.41 286.13,22.33 280.67,22.33" fill="#0000ff"/>
<polygon points="290.40,22.79 293.13,27.71 287.67,27.71" fill="#0000ff"/>
<polygon points="297.41,27.47 300.14,32.39 294.68,32.39" fill="#0000ff"/>
<polygon points="304.41,33.09 307.14,38.00 301.68,38.00" fill="#0000ff"/>
<polygon points="311.41,39.41 314.14,44.32 308.68,44.32" fill="#0000ff"/>
<polygon points="318.42,46.43 321.15,51.34 315.69,51.34" fill="#0000ff"/>
<polygon points="325.42,54.15 328.15,59.06 322.69,59.06" fill="#0000ff"/>
<polygon points="332.42,63.04 335.15,67.96 329.69,67.96" fill="#0000ff"/>
<polygon points="339.42,71.00 342.15,75.91 336.69,75.91" fill="#0000ff"/>
<polygon points="346.43,78.02 349.16,82.93 343.70,82.93" fill="#0000ff"/>
<polygon points="353.43,84.10 356.16,89.02 350.70,89.02" fill="#0000ff"/>
<polygon points="360.43,85.97 363.16,90.89 357.70,90.89" fill="#0000ff"/>
<polygon points="367.44,84.10 370.17,89.02 364.71,89.02" fill="#0000ff"/>
<polygon points="374.44,81.53 377.17,86.44 371.71,86.44" fill="#0000ff"/>
<polygon points="381.44,78.95 384.17,83.87 378.71,83.87" fill="#0000ff"/>
<polygon points="388.45,78.02 391.18,82.93 385.72,82.93" fill="#0000ff"/>
<polygon points="395.45,77.55 398.18,82.46 392.72,82.46" fill="#0000ff"/>
<polygon points="402.45,77.55 405.18,82.46 399.72,82.46" fill="#0000ff"/>
<polygon points="409.46,79.42 412.19,84.34 406.73,84.34" fill="#0000ff"/>
<polygon points="416.46,82.23 419.19,87.14 413.73,87.14" fill="#0000ff"/>
<polygon points="423.46,85.04 426.19,89.95 420.73,89.95" fill="#0000ff"/>
<polygon points="430.47,86.91 433.20,91.82 427.74,91.82" fill="#0000ff"/>
<polygon points="437.47,74.74 440.20,79.66 434.74,79.66" fill="#0000ff"/>
<polygon points="444.47,65.85 447.20,70.76 441.74,70.76" fill="#0000ff"/>
<polygon points="451.48,53.68 454.21,58.60 448.75,58.60" fill="#0000ff"/>
<polygon points="458.48,63.98 461.21,68.89 455.75,68.89" fill="#0000ff"/>
<polygon points="465.48,53.21 468.21,58.13 462.75,58.13" fill="#0000ff"/>
<polygon points="472.48,36.83 475.21,41.75 469.75,41.75" fill="#0000ff"/>
<polygon points="479.49,25.37 482.22,30.28 476.76,30.28" fill="#0000ff"/>
<polygon points="486.49,18.11 489.22,23.03 483.76,23.03" fill="#0000ff"/>
<polygon points="493.49,12.97 496.22,17.88 490.76,17.88" fill="#0000ff"/>
<polygon points="500.50,9.92 503.23,14.84 497.77,14.84" fill="#0000ff"/>
<polygon points="507.50,7.35 510.23,12.26 504.77,12.26" fill="#0000ff"/>
<polyline points="283.40,27.86 284.10,28.42 284.80,28.97 285.50,29.53 286.20,30.08 286.90,30.64 287.60,31.20 288.30,31.77 289.00,32.33 289.70,32.90 290.40,33.48 291.10,34.06 291.80,34.65 292.50,35.24 293.20,35.84 293.90,36.44 294.60,37.05 295.31,37.67 296.01,38.29 296.71,38.92 297.41,39.56 298.11,40.21 298.81,40.86 299.51,41.52 300.21,42.18 300.91,42.84 301.61,43.50 302.31,44.16 303.01,44.82 303.71,45.47 304.41,46.12 305.11,46.75 305.81,47.39 306.51,48.02 307.21,48.65 307.91,49.29 308.61,49.93 309.31,50.59 310.01,51.26 310.71,51.95 311.41,52.67 312.11,53.41 312.81,54.17 313.51,54.94 314.21,55.74 314.91,56.54 315.61,57.36 316.31,58.17 317.01,58.99 317.72,59.81 318.42,60.62 319.12,61.43 319.82,62.22 320.52,63.01 321.22,63.78 321.92,64.54 322.62,65.28 323.32,66.01 324.02,66.73 324.72,67.43 325.42,68.11 326.12,68.78 326.82,69.42 327.52,70.05 328.22,70.65 328.92,71.23 329.62,71.78 330.32,72.31 331.02,72.81 331.72,73.29 332.42,73.73 333.12,74.14 333.82,74.52 334.52,74.87 335.22,75.18 335.92,75.46 336.62,75.70 337.32,75.91 338.02,76.08 338.72,76.21 339.42,76.30 340.13,76.36 340.83,76.37 341.53,76.36 342.23,76.31 342.93,76.24 343.63,76.14 344.33,76.03 345.03,75.90 345.73,75.75 346.43,75.60 347.13,75.44 347.83,75.27 348.53,75.10 349.23,74.92 349.93,74.74 350.63,74.55 351.33,74.35 352.03,74.15 352.73,73.94 353.43,73.73 354.13,73.51 354.83,73.28 355.53,73.06 356.23,72.82 356.93,72.59 357.63,72.35 358.33,72.11 359.03,71.87 359.73,71.63 360.43,71.39 361.13,71.15 361.84,70.91 362.54,70.68 363.24,70.45 363.94,70.23 364.64,70.02 365.34,69.82 366.04,69.62 366.74,69.45 367.44,69.28 368.14,69.13 368.84,69.00 369.54,68.87 370.24,68.76 370.94,68.65 371.64,68.54 372.34,68.44 373.04,68.33 373.74,68.23 374.44,68.11 375.14,67.99 375.84,67.87 376.54,67.74 377.24,67.61 377.94,67.48 378.64,67.36 379.34,67.24 380.04,67.13 380.74,67.03 381.44,66.94 382.14,66.87 382.84,66.81 383.54,66.77 384.25,66.74 384.95,66.71 385.65,66.70 386.35,66.69 387.05,66.69 387.75,66.70 388.45,66.71 389.15,66.72 389.85,66.73 390.55,66.75 391.25,66.77 391.95,66.79 392.65,66.82 393.35,66.84 394.05,66.87 394.75,66.91 395.45,66.94 396.15,66.98 396.85,67.02 397.55,67.07 398.25,67.12 398.95,67.19 399.65,67.26 400.35,67.33 401.05,67.43 401.75,67.53 402.45,67.64 403.15,67.77 403.85,67.92 404.55,68.07 405.25,68.23 405.95,68.40 406.65,68.57 407.36,68.75 408.06,68.93 408.76,69.11 409.46,69.28 410.16,69.45 410.86,69.62 411.56,69.79 412.26,69.95 412.96,70.11 413.66,70.27 414.36,70.43 415.06,70.59 415.76,70.76 416.46,70.92 417.16,71.09 417.86,71.25 418.56,71.40 419.26,71.55 419.96,71.67 420.66,71.78 421.36,71.85 422.06,71.89 422.76,71.90 423.46,71.86 424.16,71.77 424.86,71.63 425.56,71.45 426.26,71.20 426.96,70.91 427.66,70.56 428.36,70.16 429.06,69.69 429.77,69.17 430.47,68.58 431.17,67.93 431.87,67.22 432.57,66.46 433.27,65.64 433.97,64.76 434.67,63.84 435.37,62.87 436.07,61.85 436.77,60.79 437.47,59.69 438.17,58.55 438.87,57.42 439.57,56.31 440.27,55.26 440.97,54.31 441.67,53.50 442.37,52.84 443.07,52.39 443.77,52.16 444.47,52.20 445.17,52.52 445.87,53.08 446.57,53.79 447.27,54.61 447.97,55.46 448.67,56.27 449.37,56.98 450.07,57.52 450.77,57.82 451.48,57.82 452.18,57.46 452.88,56.78 453.58,55.82 454.28,54.63 454.98,53.26 455.68,51.74 456.38,50.13 457.08,48.46 457.78,46.80 458.48,45.18 459.18,43.64 459.88,42.18 460.58,40.80 461.28,39.48 461.98,38.22 462.68,37.01 463.38,35.85 464.08,34.72 464.78,33.62 465.48,32.54 466.18,31.48 466.88,30.44 467.58,29.41 468.28,28.41 468.98,27.45 469.68,26.51 470.38,25.61 471.08,24.76 471.78,23.95 472.48,23.18 473.18,22.47 473.88,21.81 474.59,21.19 475.29,20.61 475.99,20.06 476.69,19.53 477.39,19.03 478.09,18.53 478.79,18.05 479.49,17.57 480.19,17.08 480.89,16.60 481.59,16.12 482.29,15.65 482.99,15.18 483.69,14.73 484.39,14.30 485.09,13.88 485.79,13.49 486.49,13.12 487.19,12.78 487.89,12.47 488.59,12.18 489.29,11.90 489.99,11.65 490.69,11.41 491.39,11.19 492.09,10.97 492.79,10.76 493.49,10.55 494.19,10.34 494.89,10.14 495.59,9.93 496.30,9.74 497.00,9.54 497.70,9.35 498.40,9.17 499.10,9.00 499.80,8.83 500.50,8.68 501.20,8.53 501.90,8.39 502.60,8.26 503.30,8.14 504.00,8.03 504.70,7.92 505.40,7.81 506.10,7.71 506.80,7.61 507.50,7.51" stroke="#008080" stroke-width="1.3" fill="none" stroke-linejoin="round"/>
<polygon points="283.40,30.59 286.13,25.68 280.67,25.68" fill="#008080"/>
<polygon points="290.40,36.21 293.13,31.30 287.67,31.30" fill="#008080"/>
<polygon points="297.41,42.29 300.14,37.38 294.68,37.38" fill="#008080"/>
<polygon points="304.41,48.85 307.14,43.93 301.68,43.93" fill="#008080"/>
<polygon points="311.41,55.40 314.14,50.48 308.68,50.48" fill="#008080"/>
<polygon points="318.42,63.35 321.15,58.44 315.69,58.44" fill="#008080"/>
<polygon points="325.42,70.84 328.15,65.93 322.69,65.93" fill="#008080"/>
<polygon points="332.42,76.46 335.15,71.54 329.69,71.54" fill="#008080"/>
<polygon points="339.42,79.03 342.15,74.12 336.69,74.12" fill="#008080"/>
<polygon points="346.43,78.33 349.16,73.42 343.70,73.42" fill="#008080"/>
<polygon points="353.43,76.46 356.16,71.54 350.70,71.54" fill="#008080"/>
<polygon points="360.43,74.12 363.16,69.20 357.70,69.20" fill="#008080"/>
<polygon points="367.44,72.01 370.17,67.10 364.71,67.10" fill="#008080"/>
<polygon points="374.44,70.84 377.17,65.93 371.71,65.93" fill="#008080"/>
<polygon points="381.44,69.67 384.17,64.76 378.71,64.76" fill="#008080"/>
<polygon points="388.45,69.44 391.18,64.52 385.72,64.52" fill="#008080"/>
<polygon points="395.45,69.67 398.18,64.76 392.72,64.76" fill="#008080"/>
<polygon points="402.45,70.37 405.18,65.46 399.72,65.46" fill="#008080"/>
<polygon points="409.46,72.01 412.19,67.10 406.73,67.10" fill="#008080"/>
<polygon points="416.46,73.65 419.19,68.74 413.73,68.74" fill="#008080"/>
<polygon points="423.46,74.59 426.19,69.67 420.73,69.67" fill="#008080"/>
<polygon points="430.47,71.31 433.20,66.40 427.74,66.40" fill="#008080"/>
<polygon points="437.47,62.42 440.20,57.50 434.74,57.50" fill="#008080"/>
<polygon points="444.47,54.93 447.20,50.02 441.74,50.02" fill="#008080"/>
<polygon points="451.48,60.55 454.21,55.63 448.75,55.63" fill="#008080"/>
<polygon points="458.48,47.91 461.21,43.00 455.75,43.00" fill="#008080"/>
<polygon points="465.48,35.27 468.21,30.36 462.75,30.36" fill="#008080"/>
<polygon points="472.48,25.91 475.21,21.00 469.75,21.00" fill="#008080"/>
<polygon points="479.49,20.30 482.22,15.38 476.76,15.38" fill="#008080"/>
<polygon points="486.49,15.85 489.22,10.94 483.76,10.94" fill="#008080"/>
<polygon points="493.49,13.28 496.22,8.36 490.76,8.36" fill="#008080"/>
<polygon points="500.50,11.41 503.23,6.49 497.77,6.49" fill="#008080"/>
<polygon points="507.50,10.24 510.23,5.32 504.77,5.32" fill="#008080"/>
</g>
<rect x="283.40" y="5.40" width="224.10" height="163.80" fill="none" stroke="#3a3a3a" stroke-width="1.1"/>
<path d="M283.40 169.20v2.0 M311.41 169.20v3.2 M339.42 169.20v2.0 M367.44 169.20v3.2 M395.45 169.20v2.0 M423.46 169.20v3.2 M451.48 169.20v2.0 M479.49 169.20v3.2 M507.50 169.20v2.0 M283.40 5.40h-3.2 M283.40 17.10h-2.0 M283.40 28.80h-3.2 M283.40 40.50h-2.0 M283.40 52.20h-3.2 M283.40 63.90h-2.0 M283.40 75.60h-3.2 M283.40 87.30h-2.0 M283.40 99.00h-3.2 M283.40 110.70h-2.0 M283.40 122.40h-3.2 M283.40 134.10h-2.0 M283.40 145.80h-3.2 M283.40 157.50h-2.0 M283.40 169.20h-3.2" stroke="#3a3a3a" stroke-width="1.1" fill="none"/>
<g font-family="Liberation Sans" font-size="7.1" fill="#222" stroke="#222" stroke-width="0.25"><text x="311.91" y="180.70" text-anchor="middle">8</text><text x="367.94" y="180.70" text-anchor="middle">10</text><text x="423.96" y="180.70" text-anchor="middle">12</text><text x="479.99" y="180.70" text-anchor="middle">14</text><text x="278.40" y="7.00" text-anchor="end">0</text><text x="278.40" y="30.40" text-anchor="end">-5</text><text x="278.40" y="53.80" text-anchor="end">-10</text><text x="278.40" y="77.20" text-anchor="end">-15</text><text x="278.40" y="100.60" text-anchor="end">-20</text><text x="278.40" y="124.00" text-anchor="end">-25</text><text x="278.40" y="147.40" text-anchor="end">-30</text><text x="278.40" y="170.80" text-anchor="end">-35</text></g>
<rect x="370.7" y="20.3" width="49.90" height="39.70" fill="#fff" stroke="#b4b4b4" stroke-width="0.8"/>
<line x1="371.8" y1="25.60" x2="390.8" y2="25.60" stroke="#000000" stroke-width="1.15"/>
<rect x="379.20" y="23.50" width="4.20" height="4.20" fill="#000000"/>
<text x="392.4" y="28.55" font-family="Liberation Sans" font-size="8.2" fill="#000" stroke="#000" stroke-width="0.18">2.4 mm</text>
<line x1="371.8" y1="35.67" x2="390.8" y2="35.67" stroke="#ff0000" stroke-width="1.15"/>
<circle cx="381.30" cy="35.67" r="2.31" fill="#ff0000"/>
<text x="392.4" y="38.62" font-family="Liberation Sans" font-size="8.2" fill="#000" stroke="#000" stroke-width="0.18">2.8 mm</text>
<line x1="371.8" y1="45.74" x2="390.8" y2="45.74" stroke="#0000ff" stroke-width="1.15"/>
<polygon points="381.30,43.01 384.03,47.92 378.57,47.92" fill="#0000ff"/>
<text x="392.4" y="48.69" font-family="Liberation Sans" font-size="8.2" fill="#000" stroke="#000" stroke-width="0.18">3.0 mm</text>
<line x1="371.8" y1="55.81" x2="390.8" y2="55.81" stroke="#008080" stroke-width="1.15"/>
<polygon points="381.30,58.54 384.03,53.63 378.57,53.63" fill="#008080"/>
<text x="392.4" y="58.76" font-family="Liberation Sans" font-size="8.2" fill="#000" stroke="#000" stroke-width="0.18">3.2 mm</text>
<text x="401.20" y="197.30" text-anchor="middle" font-family="Liberation Serif" font-size="14.8" fill="#111" stroke="#111" stroke-width="0.25">Frequency [GHz]</text>
<text x="410.60" y="221.00" text-anchor="middle" font-family="Liberation Serif" font-size="16.6" fill="#111" stroke="#111" stroke-width="0.25">(b)</text>
<path d="M544.24 3.80V167.50 M558.19 3.80V167.50 M572.13 3.80V167.50 M586.07 3.80V167.50 M600.02 3.80V167.50 M613.96 3.80V167.50 M627.91 3.80V167.50 M641.85 3.80V167.50 M655.79 3.80V167.50 M669.74 3.80V167.50 M683.68 3.80V167.50 M697.62 3.80V167.50 M711.57 3.80V167.50 M725.51 3.80V167.50 M739.46 3.80V167.50 M530.30 24.26H753.40 M530.30 44.72H753.40 M530.30 65.19H753.40 M530.30 85.65H753.40 M530.30 106.11H753.40 M530.30 126.57H753.40 M530.30 147.04H753.40" stroke="#f1f1f1" stroke-width="0.9" stroke-dasharray="2 1" fill="none"/>
<clipPath id="cpc"><rect x="530.30" y="3.80" width="223.10" height="163.70"/></clipPath><g clip-path="url(#cpc)">
<polyline points="530.30,30.81 531.00,31.50 531.69,32.19 532.39,32.88 533.09,33.57 533.79,34.26 534.48,34.95 535.18,35.65 535.88,36.35 536.57,37.06 537.27,37.77 537.97,38.48 538.67,39.21 539.36,39.94 540.06,40.68 540.76,41.44 541.45,42.22 542.15,43.01 542.85,43.83 543.55,44.67 544.24,45.54 544.94,46.44 545.64,47.37 546.34,48.31 547.03,49.28 547.73,50.27 548.43,51.27 549.12,52.28 549.82,53.30 550.52,54.33 551.22,55.37 551.91,56.40 552.61,57.44 553.31,58.48 554.00,59.52 554.70,60.57 555.40,61.64 556.10,62.71 556.79,63.79 557.49,64.89 558.19,66.01 558.88,67.14 559.58,68.29 560.28,69.45 560.98,70.64 561.67,71.86 562.37,73.09 563.07,74.35 563.76,75.63 564.46,76.94 565.16,78.28 565.86,79.65 566.55,81.04 567.25,82.45 567.95,83.86 568.65,85.28 569.34,86.70 570.04,88.10 570.74,89.49 571.43,90.86 572.13,92.20 572.83,93.50 573.53,94.77 574.22,96.02 574.92,97.25 575.62,98.46 576.31,99.66 577.01,100.86 577.71,102.06 578.41,103.26 579.10,104.48 579.80,105.70 580.50,106.94 581.19,108.19 581.89,109.44 582.59,110.69 583.29,111.93 583.98,113.16 584.68,114.38 585.38,115.58 586.07,116.75 586.77,117.90 587.47,119.01 588.17,120.10 588.86,121.15 589.56,122.16 590.26,123.13 590.96,124.06 591.65,124.94 592.35,125.78 593.05,126.57 593.74,127.32 594.44,128.00 595.14,128.64 595.84,129.22 596.53,129.74 597.23,130.21 597.93,130.62 598.62,130.97 599.32,131.26 600.02,131.49 600.72,131.65 601.41,131.76 602.11,131.81 602.81,131.81 603.50,131.77 604.20,131.69 604.90,131.58 605.60,131.43 606.29,131.27 606.99,131.08 607.69,130.87 608.38,130.65 609.08,130.41 609.78,130.16 610.48,129.89 611.17,129.59 611.87,129.28 612.57,128.95 613.27,128.59 613.96,128.21 614.66,127.81 615.36,127.39 616.05,126.95 616.75,126.50 617.45,126.04 618.15,125.57 618.84,125.10 619.54,124.63 620.24,124.17 620.93,123.71 621.63,123.26 622.33,122.83 623.03,122.41 623.72,122.01 624.42,121.62 625.12,121.26 625.81,120.91 626.51,120.59 627.21,120.30 627.91,120.03 628.60,119.78 629.30,119.57 630.00,119.37 630.69,119.19 631.39,119.03 632.09,118.88 632.79,118.73 633.48,118.59 634.18,118.45 634.88,118.31 635.58,118.16 636.27,118.01 636.97,117.86 637.67,117.72 638.36,117.59 639.06,117.46 639.76,117.36 640.46,117.27 641.15,117.20 641.85,117.16 642.55,117.15 643.24,117.17 643.94,117.22 644.64,117.30 645.34,117.40 646.03,117.53 646.73,117.69 647.43,117.87 648.12,118.08 648.82,118.31 649.52,118.56 650.22,118.84 650.91,119.14 651.61,119.46 652.31,119.79 653.00,120.14 653.70,120.51 654.40,120.88 655.10,121.27 655.79,121.66 656.49,122.07 657.19,122.48 657.89,122.91 658.58,123.35 659.28,123.81 659.98,124.30 660.67,124.82 661.37,125.37 662.07,125.95 662.77,126.57 663.46,127.24 664.16,127.94 664.86,128.67 665.55,129.43 666.25,130.22 666.95,131.03 667.65,131.85 668.34,132.68 669.04,133.51 669.74,134.35 670.43,135.19 671.13,136.02 671.83,136.85 672.53,137.67 673.22,138.49 673.92,139.31 674.62,140.12 675.31,140.93 676.01,141.74 676.71,142.54 677.41,143.33 678.10,144.09 678.80,144.79 679.50,145.40 680.20,145.91 680.89,146.27 681.59,146.47 682.29,146.48 682.98,146.27 683.68,145.81 684.38,145.08 685.08,144.08 685.77,142.82 686.47,141.28 687.17,139.48 687.86,137.42 688.56,135.10 689.26,132.51 689.96,129.67 690.65,126.57 691.35,123.24 692.05,119.77 692.74,116.27 693.44,112.85 694.14,109.63 694.84,106.72 695.53,104.22 696.23,102.26 696.93,100.94 697.62,100.38 698.32,100.65 699.02,101.63 699.72,103.17 700.41,105.12 701.11,107.32 701.81,109.63 702.51,111.87 703.20,113.91 703.90,115.59 704.60,116.75 705.29,117.28 705.99,117.19 706.69,116.55 707.39,115.41 708.08,113.82 708.78,111.84 709.48,109.54 710.17,106.96 710.87,104.16 711.57,101.20 712.27,98.13 712.96,94.99 713.66,91.79 714.36,88.56 715.05,85.33 715.75,82.13 716.45,78.98 717.15,75.91 717.84,72.94 718.54,70.10 719.24,67.41 719.93,64.86 720.63,62.45 721.33,60.16 722.03,57.98 722.72,55.90 723.42,53.92 724.12,52.01 724.82,50.18 725.51,48.41 726.21,46.69 726.91,45.01 727.60,43.40 728.30,41.83 729.00,40.32 729.70,38.87 730.39,37.48 731.09,36.15 731.79,34.88 732.48,33.68 733.18,32.54 733.88,31.46 734.58,30.43 735.27,29.46 735.97,28.52 736.67,27.62 737.36,26.75 738.06,25.91 738.76,25.08 739.46,24.26 740.15,23.45 740.85,22.65 741.55,21.86 742.25,21.08 742.94,20.32 743.64,19.59 744.34,18.87 745.03,18.18 745.73,17.52 746.43,16.90 747.13,16.30 747.82,15.74 748.52,15.21 749.22,14.70 749.91,14.22 750.61,13.75 751.31,13.30 752.01,12.85 752.70,12.42 753.40,11.98" stroke="#000000" stroke-width="1.3" fill="none" stroke-linejoin="round"/>
<rect x="528.20" y="28.71" width="4.20" height="4.20" fill="#000000"/>
<rect x="535.17" y="35.67" width="4.20" height="4.20" fill="#000000"/>
<rect x="542.14" y="43.44" width="4.20" height="4.20" fill="#000000"/>
<rect x="549.12" y="53.27" width="4.20" height="4.20" fill="#000000"/>
<rect x="556.09" y="63.91" width="4.20" height="4.20" fill="#000000"/>
<rect x="563.06" y="76.18" width="4.20" height="4.20" fill="#000000"/>
<rect x="570.03" y="90.10" width="4.20" height="4.20" fill="#000000"/>
<rect x="577.00" y="102.38" width="4.20" height="4.20" fill="#000000"/>
<rect x="583.97" y="114.65" width="4.20" height="4.20" fill="#000000"/>
<rect x="590.95" y="124.47" width="4.20" height="4.20" fill="#000000"/>
<rect x="597.92" y="129.39" width="4.20" height="4.20" fill="#000000"/>
<rect x="604.89" y="128.98" width="4.20" height="4.20" fill="#000000"/>
<rect x="611.86" y="126.11" width="4.20" height="4.20" fill="#000000"/>
<rect x="618.83" y="121.61" width="4.20" height="4.20" fill="#000000"/>
<rect x="625.81" y="117.93" width="4.20" height="4.20" fill="#000000"/>
<rect x="632.78" y="116.21" width="4.20" height="4.20" fill="#000000"/>
<rect x="639.75" y="115.06" width="4.20" height="4.20" fill="#000000"/>
<rect x="646.72" y="116.21" width="4.20" height="4.20" fill="#000000"/>
<rect x="653.69" y="119.56" width="4.20" height="4.20" fill="#000000"/>
<rect x="660.67" y="124.47" width="4.20" height="4.20" fill="#000000"/>
<rect x="667.64" y="132.25" width="4.20" height="4.20" fill="#000000"/>
<rect x="674.61" y="140.44" width="4.20" height="4.20" fill="#000000"/>
<rect x="681.58" y="143.71" width="4.20" height="4.20" fill="#000000"/>
<rect x="688.55" y="124.47" width="4.20" height="4.20" fill="#000000"/>
<rect x="695.52" y="98.28" width="4.20" height="4.20" fill="#000000"/>
<rect x="702.50" y="114.65" width="4.20" height="4.20" fill="#000000"/>
<rect x="709.47" y="99.10" width="4.20" height="4.20" fill="#000000"/>
<rect x="716.44" y="68.00" width="4.20" height="4.20" fill="#000000"/>
<rect x="723.41" y="46.31" width="4.20" height="4.20" fill="#000000"/>
<rect x="730.38" y="31.58" width="4.20" height="4.20" fill="#000000"/>
<rect x="737.36" y="22.16" width="4.20" height="4.20" fill="#000000"/>
<rect x="744.33" y="14.80" width="4.20" height="4.20" fill="#000000"/>
<rect x="751.30" y="9.88" width="4.20" height="4.20" fill="#000000"/>
<polyline points="530.30,31.22 531.00,31.91 531.69,32.60 532.39,33.29 533.09,33.98 533.79,34.67 534.48,35.36 535.18,36.06 535.88,36.76 536.57,37.47 537.27,38.18 537.97,38.89 538.67,39.61 539.36,40.35 540.06,41.09 540.76,41.85 541.45,42.62 542.15,43.42 542.85,44.24 543.55,45.08 544.24,45.95 544.94,46.85 545.64,47.78 546.34,48.73 547.03,49.70 547.73,50.69 548.43,51.69 549.12,52.70 549.82,53.72 550.52,54.75 551.22,55.77 551.91,56.80 552.61,57.83 553.31,58.86 554.00,59.90 554.70,60.94 555.40,62.00 556.10,63.08 556.79,64.17 557.49,65.28 558.19,66.42 558.88,67.58 559.58,68.76 560.28,69.97 560.98,71.21 561.67,72.47 562.37,73.75 563.07,75.06 563.76,76.38 564.46,77.73 565.16,79.10 565.86,80.49 566.55,81.90 567.25,83.31 567.95,84.73 568.65,86.15 569.34,87.56 570.04,88.95 570.74,90.33 571.43,91.69 572.13,93.02 572.83,94.31 573.53,95.58 574.22,96.83 574.92,98.07 575.62,99.30 576.31,100.54 577.01,101.79 577.71,103.06 578.41,104.37 579.10,105.70 579.80,107.08 580.50,108.50 581.19,109.94 581.89,111.40 582.59,112.86 583.29,114.33 583.98,115.79 584.68,117.23 585.38,118.65 586.07,120.03 586.77,121.36 587.47,122.66 588.17,123.91 588.86,125.12 589.56,126.28 590.26,127.41 590.96,128.49 591.65,129.53 592.35,130.53 593.05,131.49 593.74,132.40 594.44,133.28 595.14,134.11 595.84,134.89 596.53,135.62 597.23,136.30 597.93,136.92 598.62,137.49 599.32,138.00 600.02,138.44 600.72,138.82 601.41,139.14 602.11,139.40 602.81,139.60 603.50,139.74 604.20,139.83 604.90,139.87 605.60,139.85 606.29,139.78 606.99,139.67 607.69,139.51 608.38,139.31 609.08,139.08 609.78,138.81 610.48,138.52 611.17,138.20 611.87,137.87 612.57,137.52 613.27,137.17 613.96,136.81 614.66,136.44 615.36,136.08 616.05,135.72 616.75,135.36 617.45,134.99 618.15,134.62 618.84,134.25 619.54,133.88 620.24,133.50 620.93,133.12 621.63,132.74 622.33,132.35 623.03,131.96 623.72,131.58 624.42,131.20 625.12,130.82 625.81,130.46 626.51,130.11 627.21,129.77 627.91,129.44 628.60,129.13 629.30,128.84 630.00,128.56 630.69,128.30 631.39,128.06 632.09,127.82 632.79,127.60 633.48,127.38 634.18,127.18 634.88,126.98 635.58,126.80 636.27,126.62 636.97,126.45 637.67,126.30 638.36,126.16 639.06,126.04 639.76,125.93 640.46,125.85 641.15,125.79 641.85,125.76 642.55,125.75 643.24,125.76 643.94,125.80 644.64,125.86 645.34,125.94 646.03,126.04 646.73,126.15 647.43,126.28 648.12,126.42 648.82,126.57 649.52,126.74 650.22,126.92 650.91,127.11 651.61,127.32 652.31,127.54 653.00,127.79 653.70,128.06 654.40,128.36 655.10,128.68 655.79,129.03 656.49,129.41 657.19,129.82 657.89,130.26 658.58,130.72 659.28,131.21 659.98,131.72 660.67,132.25 661.37,132.80 662.07,133.36 662.77,133.94 663.46,134.53 664.16,135.14 664.86,135.76 665.55,136.39 666.25,137.03 666.95,137.69 667.65,138.37 668.34,139.06 669.04,139.77 669.74,140.49 670.43,141.23 671.13,141.96 671.83,142.68 672.53,143.36 673.22,144.00 673.92,144.56 674.62,145.04 675.31,145.42 676.01,145.68 676.71,145.81 677.41,145.79 678.10,145.62 678.80,145.31 679.50,144.87 680.20,144.29 680.89,143.60 681.59,142.78 682.29,141.85 682.98,140.81 683.68,139.67 684.38,138.43 685.08,137.08 685.77,135.61 686.47,134.00 687.17,132.25 687.86,130.34 688.56,128.25 689.26,125.99 689.96,123.52 690.65,120.85 691.35,117.97 692.05,114.97 692.74,111.95 693.44,109.01 694.14,106.26 694.84,103.78 695.53,101.70 696.23,100.09 696.93,99.08 697.62,98.75 698.32,99.16 699.02,100.22 699.72,101.78 700.41,103.68 701.11,105.79 701.81,107.96 702.51,110.04 703.20,111.89 703.90,113.36 704.60,114.30 705.29,114.60 705.99,114.30 706.69,113.44 707.39,112.09 708.08,110.32 708.78,108.17 709.48,105.72 710.17,103.02 710.87,100.13 711.57,97.11 712.27,94.02 712.96,90.88 713.66,87.73 714.36,84.57 715.05,81.43 715.75,78.33 716.45,75.30 717.15,72.36 717.84,69.53 718.54,66.82 719.24,64.27 719.93,61.85 720.63,59.57 721.33,57.41 722.03,55.36 722.72,53.40 723.42,51.54 724.12,49.75 724.82,48.03 725.51,46.36 726.21,44.74 726.91,43.17 727.60,41.65 728.30,40.17 729.00,38.75 729.70,37.37 730.39,36.06 731.09,34.80 731.79,33.59 732.48,32.45 733.18,31.36 733.88,30.33 734.58,29.35 735.27,28.42 735.97,27.52 736.67,26.66 737.36,25.82 738.06,25.01 738.76,24.22 739.46,23.44 740.15,22.67 740.85,21.92 741.55,21.17 742.25,20.44 742.94,19.72 743.64,19.03 744.34,18.35 745.03,17.70 745.73,17.08 746.43,16.49 747.13,15.92 747.82,15.39 748.52,14.88 749.22,14.39 749.91,13.92 750.61,13.46 751.31,13.02 752.01,12.59 752.70,12.16 753.40,11.74" stroke="#ff0000" stroke-width="1.3" fill="none" stroke-linejoin="round"/>
<circle cx="530.30" cy="31.22" r="2.31" fill="#ff0000"/>
<circle cx="537.27" cy="38.18" r="2.31" fill="#ff0000"/>
<circle cx="544.24" cy="45.95" r="2.31" fill="#ff0000"/>
<circle cx="551.22" cy="55.77" r="2.31" fill="#ff0000"/>
<circle cx="558.19" cy="66.42" r="2.31" fill="#ff0000"/>
<circle cx="565.16" cy="79.10" r="2.31" fill="#ff0000"/>
<circle cx="572.13" cy="93.02" r="2.31" fill="#ff0000"/>
<circle cx="579.10" cy="105.70" r="2.31" fill="#ff0000"/>
<circle cx="586.07" cy="120.03" r="2.31" fill="#ff0000"/>
<circle cx="593.05" cy="131.49" r="2.31" fill="#ff0000"/>
<circle cx="600.02" cy="138.44" r="2.31" fill="#ff0000"/>
<circle cx="606.99" cy="139.67" r="2.31" fill="#ff0000"/>
<circle cx="613.96" cy="136.81" r="2.31" fill="#ff0000"/>
<circle cx="620.93" cy="133.12" r="2.31" fill="#ff0000"/>
<circle cx="627.91" cy="129.44" r="2.31" fill="#ff0000"/>
<circle cx="634.88" cy="126.98" r="2.31" fill="#ff0000"/>
<circle cx="641.85" cy="125.76" r="2.31" fill="#ff0000"/>
<circle cx="648.82" cy="126.57" r="2.31" fill="#ff0000"/>
<circle cx="655.79" cy="129.03" r="2.31" fill="#ff0000"/>
<circle cx="662.77" cy="133.94" r="2.31" fill="#ff0000"/>
<circle cx="669.74" cy="140.49" r="2.31" fill="#ff0000"/>
<circle cx="676.71" cy="145.81" r="2.31" fill="#ff0000"/>
<circle cx="683.68" cy="139.67" r="2.31" fill="#ff0000"/>
<circle cx="690.65" cy="120.85" r="2.31" fill="#ff0000"/>
<circle cx="697.62" cy="98.75" r="2.31" fill="#ff0000"/>
<circle cx="704.60" cy="114.30" r="2.31" fill="#ff0000"/>
<circle cx="711.57" cy="97.11" r="2.31" fill="#ff0000"/>
<circle cx="718.54" cy="66.82" r="2.31" fill="#ff0000"/>
<circle cx="725.51" cy="46.36" r="2.31" fill="#ff0000"/>
<circle cx="732.48" cy="32.45" r="2.31" fill="#ff0000"/>
<circle cx="739.46" cy="23.44" r="2.31" fill="#ff0000"/>
<circle cx="746.43" cy="16.49" r="2.31" fill="#ff0000"/>
<circle cx="753.40" cy="11.74" r="2.31" fill="#ff0000"/>
<polyline points="530.30,31.63 531.00,32.32 531.69,33.01 532.39,33.69 533.09,34.39 533.79,35.08 534.48,35.77 535.18,36.47 535.88,37.17 536.57,37.88 537.27,38.59 537.97,39.30 538.67,40.02 539.36,40.75 540.06,41.50 540.76,42.26 541.45,43.03 542.15,43.83 542.85,44.65 543.55,45.49 544.24,46.36 544.94,47.26 545.64,48.19 546.34,49.14 547.03,50.11 547.73,51.10 548.43,52.10 549.12,53.11 549.82,54.13 550.52,55.16 551.22,56.18 551.91,57.21 552.61,58.23 553.31,59.26 554.00,60.30 554.70,61.34 555.40,62.40 556.10,63.48 556.79,64.57 557.49,65.68 558.19,66.82 558.88,67.99 559.58,69.18 560.28,70.40 560.98,71.64 561.67,72.91 562.37,74.19 563.07,75.50 563.76,76.82 564.46,78.16 565.16,79.51 565.86,80.88 566.55,82.26 567.25,83.65 567.95,85.06 568.65,86.49 569.34,87.93 570.04,89.38 570.74,90.85 571.43,92.33 572.13,93.83 572.83,95.35 573.53,96.88 574.22,98.42 574.92,99.97 575.62,101.53 576.31,103.10 577.01,104.67 577.71,106.24 578.41,107.82 579.10,109.39 579.80,110.95 580.50,112.52 581.19,114.08 581.89,115.64 582.59,117.19 583.29,118.74 583.98,120.30 584.68,121.84 585.38,123.39 586.07,124.94 586.77,126.48 587.47,128.02 588.17,129.53 588.86,131.02 589.56,132.47 590.26,133.87 590.96,135.22 591.65,136.51 592.35,137.72 593.05,138.85 593.74,139.90 594.44,140.86 595.14,141.74 595.84,142.55 596.53,143.29 597.23,143.97 597.93,144.60 598.62,145.18 599.32,145.72 600.02,146.22 600.72,146.69 601.41,147.13 602.11,147.53 602.81,147.89 603.50,148.21 604.20,148.49 604.90,148.72 605.60,148.89 606.29,149.02 606.99,149.08 607.69,149.09 608.38,149.04 609.08,148.94 609.78,148.79 610.48,148.59 611.17,148.35 611.87,148.08 612.57,147.76 613.27,147.41 613.96,147.04 614.66,146.64 615.36,146.21 616.05,145.77 616.75,145.32 617.45,144.85 618.15,144.39 618.84,143.92 619.54,143.45 620.24,142.99 620.93,142.54 621.63,142.10 622.33,141.68 623.03,141.27 623.72,140.88 624.42,140.50 625.12,140.14 625.81,139.80 626.51,139.47 627.21,139.15 627.91,138.85 628.60,138.57 629.30,138.30 630.00,138.04 630.69,137.80 631.39,137.56 632.09,137.32 632.79,137.09 633.48,136.86 634.18,136.63 634.88,136.40 635.58,136.16 636.27,135.92 636.97,135.69 637.67,135.47 638.36,135.28 639.06,135.10 639.76,134.96 640.46,134.85 641.15,134.78 641.85,134.76 642.55,134.79 643.24,134.87 643.94,134.99 644.64,135.14 645.34,135.32 646.03,135.53 646.73,135.74 647.43,135.96 648.12,136.18 648.82,136.40 649.52,136.60 650.22,136.80 650.91,136.99 651.61,137.20 652.31,137.41 653.00,137.64 653.70,137.89 654.40,138.17 655.10,138.49 655.79,138.85 656.49,139.26 657.19,139.70 657.89,140.18 658.58,140.68 659.28,141.20 659.98,141.73 660.67,142.26 661.37,142.78 662.07,143.28 662.77,143.76 663.46,144.22 664.16,144.65 664.86,145.06 665.55,145.45 666.25,145.84 666.95,146.22 667.65,146.61 668.34,147.01 669.04,147.42 669.74,147.86 670.43,148.31 671.13,148.77 671.83,149.22 672.53,149.63 673.22,149.99 673.92,150.28 674.62,150.48 675.31,150.56 676.01,150.51 676.71,150.31 677.41,149.94 678.10,149.41 678.80,148.71 679.50,147.86 680.20,146.85 680.89,145.69 681.59,144.39 682.29,142.95 682.98,141.38 683.68,139.67 684.38,137.84 685.08,135.88 685.77,133.80 686.47,131.60 687.17,129.28 687.86,126.84 688.56,124.28 689.26,121.61 689.96,118.83 690.65,115.93 691.35,112.94 692.05,109.93 692.74,106.98 693.44,104.18 694.14,101.62 694.84,99.39 695.53,97.57 696.23,96.25 696.93,95.53 697.62,95.47 698.32,96.14 699.02,97.43 699.72,99.18 700.41,101.26 701.11,103.51 701.81,105.79 702.51,107.95 703.20,109.85 703.90,111.33 704.60,112.25 705.29,112.50 705.99,112.11 706.69,111.15 707.39,109.67 708.08,107.75 708.78,105.46 709.48,102.85 710.17,100.00 710.87,96.98 711.57,93.83 712.27,90.64 712.96,87.42 713.66,84.20 714.36,81.00 715.05,77.85 715.75,74.76 716.45,71.77 717.15,68.88 717.84,66.14 718.54,63.55 719.24,61.14 719.93,58.89 720.63,56.79 721.33,54.82 722.03,52.96 722.72,51.19 723.42,49.50 724.12,47.88 724.82,46.29 725.51,44.72 726.21,43.17 726.91,41.64 727.60,40.12 728.30,38.64 729.00,37.19 729.70,35.79 730.39,34.45 731.09,33.16 731.79,31.95 732.48,30.81 733.18,29.76 733.88,28.78 734.58,27.87 735.27,27.02 735.97,26.21 736.67,25.45 737.36,24.72 738.06,24.01 738.76,23.32 739.46,22.63 740.15,21.93 740.85,21.24 741.55,20.54 742.25,19.86 742.94,19.18 743.64,18.52 744.34,17.87 745.03,17.25 745.73,16.65 746.43,16.08 747.13,15.54 747.82,15.02 748.52,14.54 749.22,14.07 749.91,13.63 750.61,13.20 751.31,12.78 752.01,12.37 752.70,11.97 753.40,11.58" stroke="#0000ff" stroke-width="1.3" fill="none" stroke-linejoin="round"/>
<polygon points="530.30,28.90 533.03,33.81 527.57,33.81" fill="#0000ff"/>
<polygon points="537.27,35.86 540.00,40.77 534.54,40.77" fill="#0000ff"/>
<polygon points="544.24,43.63 546.97,48.55 541.51,48.55" fill="#0000ff"/>
<polygon points="551.22,53.45 553.95,58.37 548.49,58.37" fill="#0000ff"/>
<polygon points="558.19,64.09 560.92,69.01 555.46,69.01" fill="#0000ff"/>
<polygon points="565.16,76.78 567.89,81.70 562.43,81.70" fill="#0000ff"/>
<polygon points="572.13,91.10 574.86,96.02 569.40,96.02" fill="#0000ff"/>
<polygon points="579.10,106.66 581.83,111.57 576.37,111.57" fill="#0000ff"/>
<polygon points="586.07,122.21 588.80,127.12 583.34,127.12" fill="#0000ff"/>
<polygon points="593.05,136.12 595.78,141.04 590.32,141.04" fill="#0000ff"/>
<polygon points="600.02,143.49 602.75,148.40 597.29,148.40" fill="#0000ff"/>
<polygon points="606.99,146.35 609.72,151.27 604.26,151.27" fill="#0000ff"/>
<polygon points="613.96,144.31 616.69,149.22 611.23,149.22" fill="#0000ff"/>
<polygon points="620.93,139.81 623.66,144.72 618.20,144.72" fill="#0000ff"/>
<polygon points="627.91,136.12 630.64,141.04 625.18,141.04" fill="#0000ff"/>
<polygon points="634.88,133.67 637.61,138.58 632.15,138.58" fill="#0000ff"/>
<polygon points="641.85,132.03 644.58,136.94 639.12,136.94" fill="#0000ff"/>
<polygon points="648.82,133.67 651.55,138.58 646.09,138.58" fill="#0000ff"/>
<polygon points="655.79,136.12 658.52,141.04 653.06,141.04" fill="#0000ff"/>
<polygon points="662.77,141.03 665.50,145.95 660.04,145.95" fill="#0000ff"/>
<polygon points="669.74,145.13 672.47,150.04 667.01,150.04" fill="#0000ff"/>
<polygon points="676.71,147.58 679.44,152.50 673.98,152.50" fill="#0000ff"/>
<polygon points="683.68,136.94 686.41,141.86 680.95,141.86" fill="#0000ff"/>
<polygon points="690.65,113.20 693.38,118.12 687.92,118.12" fill="#0000ff"/>
<polygon points="697.62,92.74 700.36,97.66 694.89,97.66" fill="#0000ff"/>
<polygon points="704.60,109.52 707.33,114.44 701.87,114.44" fill="#0000ff"/>
<polygon points="711.57,91.10 714.30,96.02 708.84,96.02" fill="#0000ff"/>
<polygon points="718.54,60.82 721.27,65.73 715.81,65.73" fill="#0000ff"/>
<polygon points="725.51,41.99 728.24,46.91 722.78,46.91" fill="#0000ff"/>
<polygon points="732.48,28.08 735.21,32.99 729.75,32.99" fill="#0000ff"/>
<polygon points="739.46,19.90 742.19,24.81 736.73,24.81" fill="#0000ff"/>
<polygon points="746.43,13.35 749.16,18.26 743.70,18.26" fill="#0000ff"/>
<polygon points="753.40,8.85 756.13,13.76 750.67,13.76" fill="#0000ff"/>
<polyline points="530.30,32.04 531.00,32.78 531.69,33.52 532.39,34.26 533.09,35.00 533.79,35.73 534.48,36.47 535.18,37.21 535.88,37.94 536.57,38.67 537.27,39.40 537.97,40.13 538.67,40.87 539.36,41.60 540.06,42.35 540.76,43.10 541.45,43.88 542.15,44.67 542.85,45.48 543.55,46.31 544.24,47.18 544.94,48.08 545.64,49.00 546.34,49.95 547.03,50.92 547.73,51.91 548.43,52.91 549.12,53.93 549.82,54.95 550.52,55.98 551.22,57.00 551.91,58.03 552.61,59.05 553.31,60.08 554.00,61.11 554.70,62.16 555.40,63.21 556.10,64.29 556.79,65.38 557.49,66.50 558.19,67.64 558.88,68.82 559.58,70.02 560.28,71.24 560.98,72.49 561.67,73.76 562.37,75.04 563.07,76.35 563.76,77.66 564.46,78.99 565.16,80.33 565.86,81.67 566.55,83.03 567.25,84.40 567.95,85.79 568.65,87.19 569.34,88.62 570.04,90.08 570.74,91.57 571.43,93.09 572.13,94.65 572.83,96.25 573.53,97.89 574.22,99.56 574.92,101.26 575.62,102.99 576.31,104.73 577.01,106.49 577.71,108.27 578.41,110.05 579.10,111.84 579.80,113.63 580.50,115.42 581.19,117.21 581.89,118.99 582.59,120.76 583.29,122.52 583.98,124.27 584.68,126.01 585.38,127.73 586.07,129.44 586.77,131.12 587.47,132.79 588.17,134.43 588.86,136.04 589.56,137.62 590.26,139.17 590.96,140.68 591.65,142.16 592.35,143.60 593.05,144.99 593.74,146.34 594.44,147.64 595.14,148.90 595.84,150.10 596.53,151.24 597.23,152.33 597.93,153.36 598.62,154.32 599.32,155.21 600.02,156.04 600.72,156.80 601.41,157.48 602.11,158.09 602.81,158.62 603.50,159.07 604.20,159.45 604.90,159.74 605.60,159.96 606.29,160.09 606.99,160.13 607.69,160.09 608.38,159.98 609.08,159.79 609.78,159.55 610.48,159.25 611.17,158.91 611.87,158.53 612.57,158.12 613.27,157.70 613.96,157.27 614.66,156.83 615.36,156.40 616.05,155.96 616.75,155.51 617.45,155.07 618.15,154.62 618.84,154.16 619.54,153.70 620.24,153.24 620.93,152.77 621.63,152.29 622.33,151.81 623.03,151.33 623.72,150.85 624.42,150.39 625.12,149.93 625.81,149.48 626.51,149.05 627.21,148.65 627.91,148.27 628.60,147.91 629.30,147.58 630.00,147.27 630.69,146.97 631.39,146.69 632.09,146.42 632.79,146.16 633.48,145.91 634.18,145.66 634.88,145.40 635.58,145.14 636.27,144.89 636.97,144.64 637.67,144.41 638.36,144.20 639.06,144.02 639.76,143.88 640.46,143.79 641.15,143.75 641.85,143.76 642.55,143.84 643.24,143.98 643.94,144.17 644.64,144.40 645.34,144.67 646.03,144.96 646.73,145.26 647.43,145.58 648.12,145.90 648.82,146.22 649.52,146.52 650.22,146.82 650.91,147.11 651.61,147.40 652.31,147.70 653.00,148.01 653.70,148.34 654.40,148.70 655.10,149.08 655.79,149.49 656.49,149.95 657.19,150.43 657.89,150.95 658.58,151.48 659.28,152.03 659.98,152.59 660.67,153.16 661.37,153.72 662.07,154.27 662.77,154.81 663.46,155.33 664.16,155.83 664.86,156.30 665.55,156.74 666.25,157.15 666.95,157.51 667.65,157.83 668.34,158.11 669.04,158.33 669.74,158.50 670.43,158.60 671.13,158.64 671.83,158.59 672.53,158.45 673.22,158.19 673.92,157.81 674.62,157.30 675.31,156.64 676.01,155.81 676.71,154.81 677.41,153.63 678.10,152.28 678.80,150.76 679.50,149.10 680.20,147.31 680.89,145.40 681.59,143.37 682.29,141.26 682.98,139.07 683.68,136.81 684.38,134.49 685.08,132.12 685.77,129.69 686.47,127.21 687.17,124.67 687.86,122.07 688.56,119.40 689.26,116.67 689.96,113.88 690.65,111.02 691.35,108.11 692.05,105.22 692.74,102.42 693.44,99.81 694.14,97.46 694.84,95.46 695.53,93.89 696.23,92.83 696.93,92.38 697.62,92.61 698.32,93.56 699.02,95.11 699.72,97.11 700.41,99.38 701.11,101.77 701.81,104.12 702.51,106.25 703.20,108.02 703.90,109.25 704.60,109.80 705.29,109.53 705.99,108.50 706.69,106.83 707.39,104.61 708.08,101.95 708.78,98.96 709.48,95.72 710.17,92.36 710.87,88.97 711.57,85.65 712.27,82.49 712.96,79.51 713.66,76.67 714.36,73.99 715.05,71.43 715.75,69.00 716.45,66.68 717.15,64.46 717.84,62.33 718.54,60.28 719.24,58.29 719.93,56.36 720.63,54.49 721.33,52.68 722.03,50.91 722.72,49.19 723.42,47.51 724.12,45.87 724.82,44.26 725.51,42.68 726.21,41.13 726.91,39.61 727.60,38.12 728.30,36.68 729.00,35.28 729.70,33.93 730.39,32.64 731.09,31.42 731.79,30.26 732.48,29.17 733.18,28.16 733.88,27.22 734.58,26.35 735.27,25.53 735.97,24.76 736.67,24.03 737.36,23.34 738.06,22.67 738.76,22.03 739.46,21.40 740.15,20.77 740.85,20.16 741.55,19.55 742.25,18.95 742.94,18.37 743.64,17.79 744.34,17.24 745.03,16.70 745.73,16.17 746.43,15.67 747.13,15.18 747.82,14.72 748.52,14.27 749.22,13.83 749.91,13.41 750.61,13.00 751.31,12.60 752.01,12.20 752.70,11.80 753.40,11.41" stroke="#008080" stroke-width="1.3" fill="none" stroke-linejoin="round"/>
<polygon points="530.30,34.77 533.03,29.85 527.57,29.85" fill="#008080"/>
<polygon points="537.27,42.13 540.00,37.22 534.54,37.22" fill="#008080"/>
<polygon points="544.24,49.91 546.97,45.00 541.51,45.00" fill="#008080"/>
<polygon points="551.22,59.73 553.95,54.82 548.49,54.82" fill="#008080"/>
<polygon points="558.19,70.37 560.92,65.46 555.46,65.46" fill="#008080"/>
<polygon points="565.16,83.06 567.89,78.15 562.43,78.15" fill="#008080"/>
<polygon points="572.13,97.38 574.86,92.47 569.40,92.47" fill="#008080"/>
<polygon points="579.10,114.57 581.83,109.66 576.37,109.66" fill="#008080"/>
<polygon points="586.07,132.17 588.80,127.26 583.34,127.26" fill="#008080"/>
<polygon points="593.05,147.72 595.78,142.81 590.32,142.81" fill="#008080"/>
<polygon points="600.02,158.77 602.75,153.86 597.29,153.86" fill="#008080"/>
<polygon points="606.99,162.86 609.72,157.95 604.26,157.95" fill="#008080"/>
<polygon points="613.96,160.00 616.69,155.08 611.23,155.08" fill="#008080"/>
<polygon points="620.93,155.50 623.66,150.58 618.20,150.58" fill="#008080"/>
<polygon points="627.91,151.00 630.64,146.08 625.18,146.08" fill="#008080"/>
<polygon points="634.88,148.13 637.61,143.22 632.15,143.22" fill="#008080"/>
<polygon points="641.85,146.49 644.58,141.58 639.12,141.58" fill="#008080"/>
<polygon points="648.82,148.95 651.55,144.03 646.09,144.03" fill="#008080"/>
<polygon points="655.79,152.22 658.52,147.31 653.06,147.31" fill="#008080"/>
<polygon points="662.77,157.54 665.50,152.63 660.04,152.63" fill="#008080"/>
<polygon points="669.74,161.23 672.47,156.31 667.01,156.31" fill="#008080"/>
<polygon points="676.71,157.54 679.44,152.63 673.98,152.63" fill="#008080"/>
<polygon points="683.68,139.54 686.41,134.62 680.95,134.62" fill="#008080"/>
<polygon points="690.65,113.75 693.38,108.84 687.92,108.84" fill="#008080"/>
<polygon points="697.62,95.34 700.36,90.42 694.89,90.42" fill="#008080"/>
<polygon points="704.60,112.53 707.33,107.61 701.87,107.61" fill="#008080"/>
<polygon points="711.57,88.38 714.30,83.47 708.84,83.47" fill="#008080"/>
<polygon points="718.54,63.01 721.27,58.09 715.81,58.09" fill="#008080"/>
<polygon points="725.51,45.41 728.24,40.49 722.78,40.49" fill="#008080"/>
<polygon points="732.48,31.90 735.21,26.99 729.75,26.99" fill="#008080"/>
<polygon points="739.46,24.13 742.19,19.21 736.73,19.21" fill="#008080"/>
<polygon points="746.43,18.40 749.16,13.48 743.70,13.48" fill="#008080"/>
<polygon points="753.40,14.14 756.13,9.23 750.67,9.23" fill="#008080"/>
</g>
<rect x="530.30" y="3.80" width="223.10" height="163.70" fill="none" stroke="#3a3a3a" stroke-width="1.1"/>
<path d="M530.30 167.50v3.2 M544.24 167.50v2.0 M558.19 167.50v3.2 M572.13 167.50v2.0 M586.07 167.50v3.2 M600.02 167.50v2.0 M613.96 167.50v3.2 M627.91 167.50v2.0 M641.85 167.50v3.2 M655.79 167.50v2.0 M669.74 167.50v3.2 M683.68 167.50v2.0 M697.62 167.50v3.2 M711.57 167.50v2.0 M725.51 167.50v3.2 M739.46 167.50v2.0 M753.40 167.50v3.2 M530.30 3.80h-3.2 M530.30 24.26h-2.0 M530.30 44.72h-3.2 M530.30 65.19h-2.0 M530.30 85.65h-3.2 M530.30 106.11h-2.0 M530.30 126.57h-3.2 M530.30 147.04h-2.0 M530.30 167.50h-3.2" stroke="#3a3a3a" stroke-width="1.1" fill="none"/>
<g font-family="Liberation Sans" font-size="7.1" fill="#222" stroke="#222" stroke-width="0.25"><text x="530.80" y="179.00" text-anchor="middle">7</text><text x="558.69" y="179.00" text-anchor="middle">8</text><text x="586.57" y="179.00" text-anchor="middle">9</text><text x="614.46" y="179.00" text-anchor="middle">10</text><text x="642.35" y="179.00" text-anchor="middle">11</text><text x="670.24" y="179.00" text-anchor="middle">12</text><text x="698.12" y="179.00" text-anchor="middle">13</text><text x="726.01" y="179.00" text-anchor="middle">14</text><text x="753.90" y="179.00" text-anchor="middle">15</text><text x="525.30" y="5.40" text-anchor="end">0</text><text x="525.30" y="46.32" text-anchor="end">-5</text><text x="525.30" y="87.25" text-anchor="end">-10</text><text x="525.30" y="128.17" text-anchor="end">-15</text><text x="525.30" y="169.10" text-anchor="end">-20</text></g>
<rect x="601.3" y="61.3" width="54.10" height="44.20" fill="#fff" stroke="#b4b4b4" stroke-width="0.8"/>
<line x1="602.5" y1="67.40" x2="623.0" y2="67.40" stroke="#000000" stroke-width="1.15"/>
<rect x="610.65" y="65.30" width="4.20" height="4.20" fill="#000000"/>
<text x="625.3" y="70.53" font-family="Liberation Sans" font-size="8.7" fill="#000" stroke="#000" stroke-width="0.18">0.4 mm</text>
<line x1="602.5" y1="78.57" x2="623.0" y2="78.57" stroke="#ff0000" stroke-width="1.15"/>
<circle cx="612.75" cy="78.57" r="2.31" fill="#ff0000"/>
<text x="625.3" y="81.70" font-family="Liberation Sans" font-size="8.7" fill="#000" stroke="#000" stroke-width="0.18">0.5 mm</text>
<line x1="602.5" y1="89.74" x2="623.0" y2="89.74" stroke="#0000ff" stroke-width="1.15"/>
<polygon points="612.75,87.01 615.48,91.92 610.02,91.92" fill="#0000ff"/>
<text x="625.3" y="92.87" font-family="Liberation Sans" font-size="8.7" fill="#000" stroke="#000" stroke-width="0.18">0.6 mm</text>
<line x1="602.5" y1="100.91" x2="623.0" y2="100.91" stroke="#008080" stroke-width="1.15"/>
<polygon points="612.75,103.64 615.48,98.73 610.02,98.73" fill="#008080"/>
<text x="625.3" y="104.04" font-family="Liberation Sans" font-size="8.7" fill="#000" stroke="#000" stroke-width="0.18">0.7 mm</text>
<text x="642.60" y="197.10" text-anchor="middle" font-family="Liberation Serif" font-size="14.8" fill="#111" stroke="#111" stroke-width="0.25">Frequency [GHz]</text>
<text x="651.10" y="220.70" text-anchor="middle" font-family="Liberation Serif" font-size="16.6" fill="#111" stroke="#111" stroke-width="0.25">(c)</text>
<path d="M48.22 236.40V401.40 M62.24 236.40V401.40 M76.26 236.40V401.40 M90.28 236.40V401.40 M104.29 236.40V401.40 M118.31 236.40V401.40 M132.33 236.40V401.40 M146.35 236.40V401.40 M160.37 236.40V401.40 M174.39 236.40V401.40 M188.41 236.40V401.40 M202.43 236.40V401.40 M216.44 236.40V401.40 M230.46 236.40V401.40 M244.48 236.40V401.40 M34.20 254.33H258.50 M34.20 272.27H258.50 M34.20 290.20H258.50 M34.20 308.14H258.50 M34.20 326.07H258.50 M34.20 344.01H258.50 M34.20 361.94H258.50 M34.20 379.88H258.50 M34.20 397.81H258.50" stroke="#f1f1f1" stroke-width="0.9" stroke-dasharray="2 1" fill="none"/>
<clipPath id="cpd"><rect x="34.20" y="236.40" width="224.30" height="165.00"/></clipPath><g clip-path="url(#cpd)">
<polyline points="34.20,264.02 34.90,264.58 35.60,265.15 36.30,265.72 37.00,266.30 37.70,266.89 38.41,267.50 39.11,268.12 39.81,268.76 40.51,269.43 41.21,270.12 41.91,270.83 42.61,271.57 43.31,272.34 44.01,273.12 44.71,273.91 45.42,274.72 46.12,275.54 46.82,276.36 47.52,277.19 48.22,278.01 48.92,278.83 49.62,279.65 50.32,280.47 51.02,281.30 51.72,282.14 52.42,282.99 53.13,283.87 53.83,284.76 54.53,285.67 55.23,286.62 55.93,287.59 56.63,288.60 57.33,289.63 58.03,290.68 58.73,291.76 59.43,292.85 60.13,293.97 60.84,295.09 61.54,296.23 62.24,297.38 62.94,298.53 63.64,299.69 64.34,300.86 65.04,302.04 65.74,303.22 66.44,304.41 67.14,305.60 67.84,306.80 68.55,308.00 69.25,309.22 69.95,310.43 70.65,311.66 71.35,312.89 72.05,314.13 72.75,315.37 73.45,316.63 74.15,317.90 74.85,319.18 75.56,320.47 76.26,321.77 76.96,323.09 77.66,324.42 78.36,325.76 79.06,327.11 79.76,328.47 80.46,329.84 81.16,331.22 81.86,332.61 82.56,334.00 83.27,335.40 83.97,336.80 84.67,338.20 85.37,339.59 86.07,340.96 86.77,342.30 87.47,343.61 88.17,344.87 88.87,346.08 89.57,347.23 90.28,348.31 90.98,349.32 91.68,350.26 92.38,351.14 93.08,351.96 93.78,352.74 94.48,353.48 95.18,354.19 95.88,354.87 96.58,355.54 97.28,356.20 97.99,356.86 98.69,357.51 99.39,358.14 100.09,358.74 100.79,359.30 101.49,359.81 102.19,360.27 102.89,360.67 103.59,360.99 104.29,361.23 104.99,361.37 105.70,361.44 106.40,361.43 107.10,361.36 107.80,361.24 108.50,361.07 109.20,360.86 109.90,360.64 110.60,360.40 111.30,360.15 112.00,359.91 112.71,359.67 113.41,359.44 114.11,359.21 114.81,358.99 115.51,358.78 116.21,358.57 116.91,358.37 117.61,358.18 118.31,358.00 119.01,357.82 119.71,357.66 120.42,357.49 121.12,357.33 121.82,357.16 122.52,356.99 123.22,356.81 123.92,356.62 124.62,356.42 125.32,356.20 126.02,355.97 126.72,355.72 127.42,355.46 128.13,355.20 128.83,354.93 129.53,354.67 130.23,354.41 130.93,354.15 131.63,353.92 132.33,353.69 133.03,353.49 133.73,353.31 134.43,353.14 135.13,352.99 135.84,352.85 136.54,352.72 137.24,352.60 137.94,352.48 138.64,352.37 139.34,352.26 140.04,352.15 140.74,352.04 141.44,351.93 142.14,351.82 142.85,351.71 143.55,351.60 144.25,351.50 144.95,351.39 145.65,351.29 146.35,351.18 147.05,351.08 147.75,350.98 148.45,350.87 149.15,350.76 149.85,350.63 150.56,350.50 151.26,350.34 151.96,350.17 152.66,349.97 153.36,349.75 154.06,349.50 154.76,349.21 155.46,348.89 156.16,348.54 156.86,348.14 157.57,347.70 158.27,347.21 158.97,346.68 159.67,346.09 160.37,345.44 161.07,344.74 161.77,343.98 162.47,343.16 163.17,342.28 163.87,341.34 164.57,340.34 165.28,339.29 165.98,338.17 166.68,336.99 167.38,335.76 168.08,334.46 168.78,333.11 169.48,331.71 170.18,330.25 170.88,328.75 171.58,327.21 172.28,325.63 172.99,324.01 173.69,322.37 174.39,320.69 175.09,318.99 175.79,317.27 176.49,315.54 177.19,313.78 177.89,312.02 178.59,310.24 179.29,308.46 180.00,306.68 180.70,304.90 181.40,303.12 182.10,301.34 182.80,299.57 183.50,297.80 184.20,296.03 184.90,294.25 185.60,292.46 186.30,290.66 187.00,288.85 187.71,287.03 188.41,285.18 189.11,283.32 189.81,281.49 190.51,279.74 191.21,278.11 191.91,276.66 192.61,275.42 193.31,274.46 194.01,273.82 194.71,273.55 195.42,273.70 196.12,274.31 196.82,275.34 197.52,276.75 198.22,278.52 198.92,280.59 199.62,282.93 200.32,285.49 201.02,288.25 201.72,291.15 202.43,294.15 203.13,297.18 203.83,300.01 204.53,302.36 205.23,303.97 205.93,304.55 206.63,303.94 207.33,302.32 208.03,299.96 208.73,297.15 209.43,294.15 210.14,291.21 210.84,288.36 211.54,285.62 212.24,282.97 212.94,280.44 213.64,278.01 214.34,275.69 215.04,273.48 215.74,271.38 216.44,269.40 217.14,267.53 217.85,265.78 218.55,264.13 219.25,262.58 219.95,261.13 220.65,259.76 221.35,258.48 222.05,257.27 222.75,256.13 223.45,255.05 224.15,254.04 224.86,253.08 225.56,252.17 226.26,251.32 226.96,250.51 227.66,249.76 228.36,249.05 229.06,248.38 229.76,247.75 230.46,247.16 231.16,246.61 231.86,246.09 232.57,245.60 233.27,245.14 233.97,244.71 234.67,244.30 235.37,243.92 236.07,243.55 236.77,243.20 237.47,242.86 238.17,242.53 238.87,242.21 239.57,241.91 240.28,241.63 240.98,241.36 241.68,241.11 242.38,240.89 243.08,240.68 243.78,240.50 244.48,240.35 245.18,240.22 245.88,240.11 246.58,240.02 247.29,239.95 247.99,239.89 248.69,239.84 249.39,239.79 250.09,239.74 250.79,239.69 251.49,239.63 252.19,239.56 252.89,239.47 253.59,239.38 254.29,239.28 255.00,239.17 255.70,239.05 256.40,238.93 257.10,238.81 257.80,238.68 258.50,238.55" stroke="#000000" stroke-width="1.3" fill="none" stroke-linejoin="round"/>
<rect x="32.10" y="261.92" width="4.20" height="4.20" fill="#000000"/>
<rect x="39.11" y="268.02" width="4.20" height="4.20" fill="#000000"/>
<rect x="46.12" y="275.91" width="4.20" height="4.20" fill="#000000"/>
<rect x="53.13" y="284.52" width="4.20" height="4.20" fill="#000000"/>
<rect x="60.14" y="295.28" width="4.20" height="4.20" fill="#000000"/>
<rect x="67.15" y="307.12" width="4.20" height="4.20" fill="#000000"/>
<rect x="74.16" y="319.67" width="4.20" height="4.20" fill="#000000"/>
<rect x="81.17" y="333.30" width="4.20" height="4.20" fill="#000000"/>
<rect x="88.18" y="346.21" width="4.20" height="4.20" fill="#000000"/>
<rect x="95.18" y="354.10" width="4.20" height="4.20" fill="#000000"/>
<rect x="102.19" y="359.13" width="4.20" height="4.20" fill="#000000"/>
<rect x="109.20" y="358.05" width="4.20" height="4.20" fill="#000000"/>
<rect x="116.21" y="355.90" width="4.20" height="4.20" fill="#000000"/>
<rect x="123.22" y="354.10" width="4.20" height="4.20" fill="#000000"/>
<rect x="130.23" y="351.59" width="4.20" height="4.20" fill="#000000"/>
<rect x="137.24" y="350.16" width="4.20" height="4.20" fill="#000000"/>
<rect x="144.25" y="349.08" width="4.20" height="4.20" fill="#000000"/>
<rect x="151.26" y="347.65" width="4.20" height="4.20" fill="#000000"/>
<rect x="158.27" y="343.34" width="4.20" height="4.20" fill="#000000"/>
<rect x="165.28" y="333.66" width="4.20" height="4.20" fill="#000000"/>
<rect x="172.29" y="318.59" width="4.20" height="4.20" fill="#000000"/>
<rect x="179.30" y="301.02" width="4.20" height="4.20" fill="#000000"/>
<rect x="186.31" y="283.08" width="4.20" height="4.20" fill="#000000"/>
<rect x="193.32" y="271.60" width="4.20" height="4.20" fill="#000000"/>
<rect x="200.33" y="292.05" width="4.20" height="4.20" fill="#000000"/>
<rect x="207.33" y="292.05" width="4.20" height="4.20" fill="#000000"/>
<rect x="214.34" y="267.30" width="4.20" height="4.20" fill="#000000"/>
<rect x="221.35" y="252.95" width="4.20" height="4.20" fill="#000000"/>
<rect x="228.36" y="245.06" width="4.20" height="4.20" fill="#000000"/>
<rect x="235.37" y="240.76" width="4.20" height="4.20" fill="#000000"/>
<rect x="242.38" y="238.25" width="4.20" height="4.20" fill="#000000"/>
<rect x="249.39" y="237.53" width="4.20" height="4.20" fill="#000000"/>
<rect x="256.40" y="236.45" width="4.20" height="4.20" fill="#000000"/>
<polyline points="34.20,264.38 34.90,264.94 35.60,265.51 36.30,266.08 37.00,266.66 37.70,267.25 38.41,267.86 39.11,268.48 39.81,269.12 40.51,269.79 41.21,270.48 41.91,271.19 42.61,271.93 43.31,272.70 44.01,273.48 44.71,274.27 45.42,275.08 46.12,275.90 46.82,276.72 47.52,277.54 48.22,278.37 48.92,279.19 49.62,280.01 50.32,280.83 51.02,281.66 51.72,282.50 52.42,283.35 53.13,284.22 53.83,285.12 54.53,286.03 55.23,286.98 55.93,287.95 56.63,288.96 57.33,289.99 58.03,291.04 58.73,292.12 59.43,293.21 60.13,294.33 60.84,295.45 61.54,296.59 62.24,297.74 62.94,298.89 63.64,300.05 64.34,301.22 65.04,302.39 65.74,303.57 66.44,304.76 67.14,305.96 67.84,307.16 68.55,308.36 69.25,309.57 69.95,310.79 70.65,312.02 71.35,313.25 72.05,314.49 72.75,315.74 73.45,317.00 74.15,318.27 74.85,319.54 75.56,320.83 76.26,322.13 76.96,323.44 77.66,324.75 78.36,326.08 79.06,327.41 79.76,328.75 80.46,330.08 81.16,331.42 81.86,332.75 82.56,334.08 83.27,335.40 83.97,336.71 84.67,338.02 85.37,339.32 86.07,340.62 86.77,341.91 87.47,343.19 88.17,344.48 88.87,345.76 89.57,347.03 90.28,348.31 90.98,349.59 91.68,350.86 92.38,352.11 93.08,353.34 93.78,354.54 94.48,355.70 95.18,356.81 95.88,357.87 96.58,358.87 97.28,359.79 97.99,360.64 98.69,361.41 99.39,362.12 100.09,362.76 100.79,363.34 101.49,363.87 102.19,364.35 102.89,364.78 103.59,365.17 104.29,365.53 104.99,365.86 105.70,366.15 106.40,366.40 107.10,366.62 107.80,366.80 108.50,366.93 109.20,367.02 109.90,367.05 110.60,367.04 111.30,366.97 112.00,366.84 112.71,366.66 113.41,366.44 114.11,366.17 114.81,365.88 115.51,365.55 116.21,365.20 116.91,364.84 117.61,364.47 118.31,364.10 119.01,363.72 119.71,363.35 120.42,362.98 121.12,362.62 121.82,362.25 122.52,361.90 123.22,361.54 123.92,361.19 124.62,360.85 125.32,360.51 126.02,360.17 126.72,359.85 127.42,359.53 128.13,359.22 128.83,358.92 129.53,358.63 130.23,358.36 130.93,358.10 131.63,357.86 132.33,357.64 133.03,357.43 133.73,357.25 134.43,357.08 135.13,356.92 135.84,356.77 136.54,356.64 137.24,356.52 137.94,356.41 138.64,356.30 139.34,356.20 140.04,356.11 140.74,356.02 141.44,355.94 142.14,355.88 142.85,355.82 143.55,355.79 144.25,355.77 144.95,355.77 145.65,355.80 146.35,355.85 147.05,355.92 147.75,356.02 148.45,356.15 149.15,356.28 149.85,356.44 150.56,356.60 151.26,356.77 151.96,356.94 152.66,357.11 153.36,357.28 154.06,357.44 154.76,357.60 155.46,357.76 156.16,357.91 156.86,358.08 157.57,358.25 158.27,358.43 158.97,358.63 159.67,358.84 160.37,359.07 161.07,359.33 161.77,359.59 162.47,359.86 163.17,360.10 163.87,360.32 164.57,360.50 165.28,360.62 165.98,360.67 166.68,360.63 167.38,360.51 168.08,360.28 168.78,359.94 169.48,359.51 170.18,358.98 170.88,358.36 171.58,357.65 172.28,356.86 172.99,356.00 173.69,355.06 174.39,354.05 175.09,352.98 175.79,351.85 176.49,350.65 177.19,349.38 177.89,348.05 178.59,346.66 179.29,345.20 180.00,343.67 180.70,342.08 181.40,340.42 182.10,338.70 182.80,336.91 183.50,335.06 184.20,333.16 184.90,331.20 185.60,329.19 186.30,327.13 187.00,325.03 187.71,322.88 188.41,320.69 189.11,318.47 189.81,316.24 190.51,314.02 191.21,311.82 191.91,309.69 192.61,307.63 193.31,305.66 194.01,303.83 194.71,302.13 195.42,300.61 196.12,299.27 196.82,298.15 197.52,297.25 198.22,296.61 198.92,296.24 199.62,296.16 200.32,296.39 201.02,296.96 201.72,297.88 202.43,299.17 203.13,300.83 203.83,302.77 204.53,304.86 205.23,306.99 205.93,309.04 206.63,310.89 207.33,312.41 208.03,313.50 208.73,314.03 209.43,313.88 210.14,312.97 210.84,311.38 211.54,309.22 212.24,306.59 212.94,303.61 213.64,300.39 214.34,297.04 215.04,293.68 215.74,290.40 216.44,287.33 217.14,284.56 217.85,282.07 218.55,279.83 219.25,277.81 219.95,275.99 220.65,274.33 221.35,272.80 222.05,271.37 222.75,270.01 223.45,268.68 224.15,267.37 224.86,266.07 225.56,264.79 226.26,263.54 226.96,262.32 227.66,261.13 228.36,259.98 229.06,258.88 229.76,257.83 230.46,256.85 231.16,255.92 231.86,255.06 232.57,254.24 233.27,253.48 233.97,252.77 234.67,252.09 235.37,251.45 236.07,250.83 236.77,250.24 237.47,249.67 238.17,249.12 238.87,248.58 239.57,248.06 240.28,247.55 240.98,247.07 241.68,246.61 242.38,246.17 243.08,245.76 243.78,245.37 244.48,245.01 245.18,244.68 245.88,244.37 246.58,244.09 247.29,243.83 247.99,243.58 248.69,243.35 249.39,243.13 250.09,242.92 250.79,242.71 251.49,242.50 252.19,242.29 252.89,242.08 253.59,241.86 254.29,241.65 255.00,241.43 255.70,241.22 256.40,241.00 257.10,240.78 257.80,240.56 258.50,240.35" stroke="#ff0000" stroke-width="1.3" fill="none" stroke-linejoin="round"/>
<circle cx="34.20" cy="264.38" r="2.31" fill="#ff0000"/>
<circle cx="41.21" cy="270.48" r="2.31" fill="#ff0000"/>
<circle cx="48.22" cy="278.37" r="2.31" fill="#ff0000"/>
<circle cx="55.23" cy="286.98" r="2.31" fill="#ff0000"/>
<circle cx="62.24" cy="297.74" r="2.31" fill="#ff0000"/>
<circle cx="69.25" cy="309.57" r="2.31" fill="#ff0000"/>
<circle cx="76.26" cy="322.13" r="2.31" fill="#ff0000"/>
<circle cx="83.27" cy="335.40" r="2.31" fill="#ff0000"/>
<circle cx="90.28" cy="348.31" r="2.31" fill="#ff0000"/>
<circle cx="97.28" cy="359.79" r="2.31" fill="#ff0000"/>
<circle cx="104.29" cy="365.53" r="2.31" fill="#ff0000"/>
<circle cx="111.30" cy="366.97" r="2.31" fill="#ff0000"/>
<circle cx="118.31" cy="364.10" r="2.31" fill="#ff0000"/>
<circle cx="125.32" cy="360.51" r="2.31" fill="#ff0000"/>
<circle cx="132.33" cy="357.64" r="2.31" fill="#ff0000"/>
<circle cx="139.34" cy="356.20" r="2.31" fill="#ff0000"/>
<circle cx="146.35" cy="355.85" r="2.31" fill="#ff0000"/>
<circle cx="153.36" cy="357.28" r="2.31" fill="#ff0000"/>
<circle cx="160.37" cy="359.07" r="2.31" fill="#ff0000"/>
<circle cx="167.38" cy="360.51" r="2.31" fill="#ff0000"/>
<circle cx="174.39" cy="354.05" r="2.31" fill="#ff0000"/>
<circle cx="181.40" cy="340.42" r="2.31" fill="#ff0000"/>
<circle cx="188.41" cy="320.69" r="2.31" fill="#ff0000"/>
<circle cx="195.42" cy="300.61" r="2.31" fill="#ff0000"/>
<circle cx="202.43" cy="299.17" r="2.31" fill="#ff0000"/>
<circle cx="209.43" cy="313.88" r="2.31" fill="#ff0000"/>
<circle cx="216.44" cy="287.33" r="2.31" fill="#ff0000"/>
<circle cx="223.45" cy="268.68" r="2.31" fill="#ff0000"/>
<circle cx="230.46" cy="256.85" r="2.31" fill="#ff0000"/>
<circle cx="237.47" cy="249.67" r="2.31" fill="#ff0000"/>
<circle cx="244.48" cy="245.01" r="2.31" fill="#ff0000"/>
<circle cx="251.49" cy="242.50" r="2.31" fill="#ff0000"/>
<circle cx="258.50" cy="240.35" r="2.31" fill="#ff0000"/>
<polyline points="34.20,261.51 34.90,262.05 35.60,262.60 36.30,263.15 37.00,263.70 37.70,264.26 38.41,264.84 39.11,265.42 39.81,266.01 40.51,266.62 41.21,267.25 41.91,267.89 42.61,268.55 43.31,269.23 44.01,269.93 44.71,270.64 45.42,271.37 46.12,272.11 46.82,272.87 47.52,273.64 48.22,274.42 48.92,275.22 49.62,276.03 50.32,276.86 51.02,277.69 51.72,278.55 52.42,279.41 53.13,280.30 53.83,281.19 54.53,282.10 55.23,283.03 55.93,283.97 56.63,284.93 57.33,285.90 58.03,286.89 58.73,287.89 59.43,288.90 60.13,289.93 60.84,290.97 61.54,292.01 62.24,293.07 62.94,294.14 63.64,295.23 64.34,296.32 65.04,297.44 65.74,298.57 66.44,299.72 67.14,300.89 67.84,302.09 68.55,303.31 69.25,304.55 69.95,305.83 70.65,307.12 71.35,308.43 72.05,309.75 72.75,311.07 73.45,312.39 74.15,313.69 74.85,314.98 75.56,316.24 76.26,317.47 76.96,318.66 77.66,319.81 78.36,320.95 79.06,322.07 79.76,323.19 80.46,324.30 81.16,325.43 81.86,326.57 82.56,327.74 83.27,328.94 83.97,330.19 84.67,331.47 85.37,332.78 86.07,334.11 86.77,335.46 87.47,336.81 88.17,338.17 88.87,339.53 89.57,340.88 90.28,342.22 90.98,343.53 91.68,344.81 92.38,346.07 93.08,347.29 93.78,348.47 94.48,349.61 95.18,350.71 95.88,351.76 96.58,352.75 97.28,353.69 97.99,354.57 98.69,355.40 99.39,356.17 100.09,356.90 100.79,357.58 101.49,358.23 102.19,358.84 102.89,359.42 103.59,359.98 104.29,360.51 104.99,361.02 105.70,361.51 106.40,361.97 107.10,362.39 107.80,362.77 108.50,363.10 109.20,363.36 109.90,363.56 110.60,363.69 111.30,363.74 112.00,363.70 112.71,363.59 113.41,363.41 114.11,363.18 114.81,362.90 115.51,362.59 116.21,362.26 116.91,361.91 117.61,361.57 118.31,361.23 119.01,360.90 119.71,360.60 120.42,360.30 121.12,360.00 121.82,359.70 122.52,359.40 123.22,359.08 123.92,358.74 124.62,358.38 125.32,358.00 126.02,357.58 126.72,357.14 127.42,356.68 128.13,356.21 128.83,355.74 129.53,355.28 130.23,354.84 130.93,354.42 131.63,354.04 132.33,353.69 133.03,353.40 133.73,353.15 134.43,352.94 135.13,352.75 135.84,352.59 136.54,352.45 137.24,352.32 137.94,352.18 138.64,352.05 139.34,351.90 140.04,351.74 140.74,351.56 141.44,351.38 142.14,351.20 142.85,351.02 143.55,350.86 144.25,350.72 144.95,350.60 145.65,350.51 146.35,350.47 147.05,350.46 147.75,350.49 148.45,350.55 149.15,350.65 149.85,350.76 150.56,350.90 151.26,351.05 151.96,351.21 152.66,351.38 153.36,351.54 154.06,351.70 154.76,351.86 155.46,352.03 156.16,352.20 156.86,352.39 157.57,352.60 158.27,352.83 158.97,353.08 159.67,353.37 160.37,353.69 161.07,354.06 161.77,354.46 162.47,354.89 163.17,355.34 163.87,355.82 164.57,356.32 165.28,356.82 165.98,357.33 166.68,357.85 167.38,358.36 168.08,358.86 168.78,359.35 169.48,359.84 170.18,360.31 170.88,360.78 171.58,361.24 172.28,361.70 172.99,362.15 173.69,362.59 174.39,363.02 175.09,363.44 175.79,363.85 176.49,364.22 177.19,364.55 177.89,364.82 178.59,365.01 179.29,365.12 180.00,365.13 180.70,365.04 181.40,364.81 182.10,364.46 182.80,363.96 183.50,363.33 184.20,362.56 184.90,361.66 185.60,360.62 186.30,359.45 187.00,358.14 187.71,356.70 188.41,355.13 189.11,353.42 189.81,351.59 190.51,349.64 191.21,347.58 191.91,345.41 192.61,343.14 193.31,340.79 194.01,338.35 194.71,335.83 195.42,333.25 196.12,330.61 196.82,327.99 197.52,325.44 198.22,323.05 198.92,320.89 199.62,319.03 200.32,317.54 201.02,316.50 201.72,315.97 202.43,316.03 203.13,316.72 203.83,317.93 204.53,319.55 205.23,321.42 205.93,323.42 206.63,325.43 207.33,327.29 208.03,328.89 208.73,330.08 209.43,330.74 210.14,330.76 210.84,330.19 211.54,329.09 212.24,327.55 212.94,325.62 213.64,323.38 214.34,320.91 215.04,318.28 215.74,315.55 216.44,312.80 217.14,310.10 217.85,307.45 218.55,304.86 219.25,302.33 219.95,299.87 220.65,297.49 221.35,295.18 222.05,292.96 222.75,290.82 223.45,288.77 224.15,286.81 224.86,284.94 225.56,283.15 226.26,281.43 226.96,279.78 227.66,278.19 228.36,276.64 229.06,275.15 229.76,273.69 230.46,272.27 231.16,270.87 231.86,269.50 232.57,268.17 233.27,266.87 233.97,265.61 234.67,264.40 235.37,263.23 236.07,262.12 236.77,261.07 237.47,260.07 238.17,259.14 238.87,258.27 239.57,257.45 240.28,256.67 240.98,255.93 241.68,255.22 242.38,254.53 243.08,253.86 243.78,253.20 244.48,252.54 245.18,251.88 245.88,251.22 246.58,250.56 247.29,249.91 247.99,249.28 248.69,248.66 249.39,248.06 250.09,247.49 250.79,246.95 251.49,246.44 252.19,245.97 252.89,245.54 253.59,245.14 254.29,244.76 255.00,244.41 255.70,244.07 256.40,243.76 257.10,243.45 257.80,243.15 258.50,242.86" stroke="#0000ff" stroke-width="1.3" fill="none" stroke-linejoin="round"/>
<polygon points="34.20,258.78 36.93,263.69 31.47,263.69" fill="#0000ff"/>
<polygon points="41.21,264.52 43.94,269.43 38.48,269.43" fill="#0000ff"/>
<polygon points="48.22,271.69 50.95,276.61 45.49,276.61" fill="#0000ff"/>
<polygon points="55.23,280.30 57.96,285.21 52.50,285.21" fill="#0000ff"/>
<polygon points="62.24,290.34 64.97,295.26 59.51,295.26" fill="#0000ff"/>
<polygon points="69.25,301.82 71.98,306.74 66.52,306.74" fill="#0000ff"/>
<polygon points="76.26,314.74 78.99,319.65 73.53,319.65" fill="#0000ff"/>
<polygon points="83.27,326.21 86.00,331.13 80.54,331.13" fill="#0000ff"/>
<polygon points="90.28,339.49 93.01,344.40 87.55,344.40" fill="#0000ff"/>
<polygon points="97.28,350.96 100.01,355.88 94.55,355.88" fill="#0000ff"/>
<polygon points="104.29,357.78 107.02,362.69 101.56,362.69" fill="#0000ff"/>
<polygon points="111.30,361.01 114.03,365.92 108.57,365.92" fill="#0000ff"/>
<polygon points="118.31,358.50 121.04,363.41 115.58,363.41" fill="#0000ff"/>
<polygon points="125.32,355.27 128.05,360.18 122.59,360.18" fill="#0000ff"/>
<polygon points="132.33,350.96 135.06,355.88 129.60,355.88" fill="#0000ff"/>
<polygon points="139.34,349.17 142.07,354.08 136.61,354.08" fill="#0000ff"/>
<polygon points="146.35,347.74 149.08,352.65 143.62,352.65" fill="#0000ff"/>
<polygon points="153.36,348.81 156.09,353.73 150.63,353.73" fill="#0000ff"/>
<polygon points="160.37,350.96 163.10,355.88 157.64,355.88" fill="#0000ff"/>
<polygon points="167.38,355.63 170.11,360.54 164.65,360.54" fill="#0000ff"/>
<polygon points="174.39,360.29 177.12,365.20 171.66,365.20" fill="#0000ff"/>
<polygon points="181.40,362.08 184.13,367.00 178.67,367.00" fill="#0000ff"/>
<polygon points="188.41,352.40 191.14,357.31 185.68,357.31" fill="#0000ff"/>
<polygon points="195.42,330.52 198.15,335.43 192.69,335.43" fill="#0000ff"/>
<polygon points="202.43,313.30 205.16,318.21 199.70,318.21" fill="#0000ff"/>
<polygon points="209.43,328.01 212.16,332.92 206.70,332.92" fill="#0000ff"/>
<polygon points="216.44,310.07 219.17,314.99 213.71,314.99" fill="#0000ff"/>
<polygon points="223.45,286.04 226.18,290.95 220.72,290.95" fill="#0000ff"/>
<polygon points="230.46,269.54 233.19,274.45 227.73,274.45" fill="#0000ff"/>
<polygon points="237.47,257.34 240.20,262.26 234.74,262.26" fill="#0000ff"/>
<polygon points="244.48,249.81 247.21,254.73 241.75,254.73" fill="#0000ff"/>
<polygon points="251.49,243.71 254.22,248.63 248.76,248.63" fill="#0000ff"/>
<polygon points="258.50,240.13 261.23,245.04 255.77,245.04" fill="#0000ff"/>
<polyline points="34.20,261.15 34.90,261.69 35.60,262.24 36.30,262.79 37.00,263.34 37.70,263.91 38.41,264.48 39.11,265.06 39.81,265.65 40.51,266.26 41.21,266.89 41.91,267.53 42.61,268.19 43.31,268.87 44.01,269.57 44.71,270.28 45.42,271.01 46.12,271.75 46.82,272.51 47.52,273.28 48.22,274.06 48.92,274.86 49.62,275.67 50.32,276.50 51.02,277.34 51.72,278.19 52.42,279.06 53.13,279.94 53.83,280.84 54.53,281.75 55.23,282.67 55.93,283.61 56.63,284.56 57.33,285.53 58.03,286.51 58.73,287.51 59.43,288.52 60.13,289.55 60.84,290.59 61.54,291.64 62.24,292.72 62.94,293.80 63.64,294.90 64.34,296.02 65.04,297.15 65.74,298.29 66.44,299.45 67.14,300.62 67.84,301.80 68.55,302.99 69.25,304.19 69.95,305.41 70.65,306.63 71.35,307.88 72.05,309.13 72.75,310.41 73.45,311.70 74.15,313.02 74.85,314.35 75.56,315.72 76.26,317.11 76.96,318.52 77.66,319.97 78.36,321.43 79.06,322.92 79.76,324.43 80.46,325.95 81.16,327.49 81.86,329.04 82.56,330.60 83.27,332.17 83.97,333.75 84.67,335.33 85.37,336.92 86.07,338.51 86.77,340.12 87.47,341.73 88.17,343.36 88.87,345.00 89.57,346.65 90.28,348.31 90.98,349.99 91.68,351.68 92.38,353.37 93.08,355.05 93.78,356.73 94.48,358.40 95.18,360.05 95.88,361.67 96.58,363.26 97.28,364.81 97.99,366.33 98.69,367.79 99.39,369.20 100.09,370.55 100.79,371.83 101.49,373.04 102.19,374.17 102.89,375.21 103.59,376.16 104.29,377.01 104.99,377.76 105.70,378.40 106.40,378.94 107.10,379.39 107.80,379.75 108.50,380.01 109.20,380.19 109.90,380.29 110.60,380.30 111.30,380.24 112.00,380.10 112.71,379.89 113.41,379.62 114.11,379.28 114.81,378.89 115.51,378.46 116.21,377.97 116.91,377.45 117.61,376.88 118.31,376.29 119.01,375.67 119.71,375.03 120.42,374.38 121.12,373.72 121.82,373.05 122.52,372.38 123.22,371.72 123.92,371.07 124.62,370.44 125.32,369.83 126.02,369.25 126.72,368.70 127.42,368.17 128.13,367.66 128.83,367.16 129.53,366.68 130.23,366.20 130.93,365.74 131.63,365.27 132.33,364.81 133.03,364.35 133.73,363.89 134.43,363.43 135.13,362.97 135.84,362.53 136.54,362.09 137.24,361.67 137.94,361.26 138.64,360.88 139.34,360.51 140.04,360.16 140.74,359.85 141.44,359.55 142.14,359.29 142.85,359.05 143.55,358.85 144.25,358.67 144.95,358.53 145.65,358.43 146.35,358.36 147.05,358.32 147.75,358.33 148.45,358.36 149.15,358.41 149.85,358.49 150.56,358.59 151.26,358.70 151.96,358.82 152.66,358.95 153.36,359.07 154.06,359.20 154.76,359.34 155.46,359.48 156.16,359.64 156.86,359.81 157.57,360.02 158.27,360.26 158.97,360.53 159.67,360.86 160.37,361.23 161.07,361.65 161.77,362.13 162.47,362.65 163.17,363.22 163.87,363.83 164.57,364.47 165.28,365.14 165.98,365.85 166.68,366.58 167.38,367.32 168.08,368.09 168.78,368.88 169.48,369.68 170.18,370.52 170.88,371.39 171.58,372.29 172.28,373.22 172.99,374.20 173.69,375.22 174.39,376.29 175.09,377.41 175.79,378.57 176.49,379.78 177.19,381.02 177.89,382.28 178.59,383.57 179.29,384.88 180.00,386.20 180.70,387.52 181.40,388.85 182.10,390.16 182.80,391.44 183.50,392.64 184.20,393.74 184.90,394.71 185.60,395.51 186.30,396.11 187.00,396.47 187.71,396.57 188.41,396.38 189.11,395.86 189.81,395.02 190.51,393.88 191.21,392.45 191.91,390.74 192.61,388.76 193.31,386.53 194.01,384.06 194.71,381.36 195.42,378.44 196.12,375.34 196.82,372.10 197.52,368.81 198.22,365.54 198.92,362.37 199.62,359.36 200.32,356.59 201.02,354.13 201.72,352.07 202.43,350.47 203.13,349.37 203.83,348.73 204.53,348.44 205.23,348.42 205.93,348.59 206.63,348.85 207.33,349.11 208.03,349.29 208.73,349.29 209.43,349.03 210.14,348.44 210.84,347.52 211.54,346.31 212.24,344.83 212.94,343.11 213.64,341.17 214.34,339.04 215.04,336.76 215.74,334.34 216.44,331.81 217.14,329.21 217.85,326.55 218.55,323.85 219.25,321.13 219.95,318.42 220.65,315.73 221.35,313.09 222.05,310.51 222.75,308.02 223.45,305.63 224.15,303.36 224.86,301.21 225.56,299.16 226.26,297.20 226.96,295.31 227.66,293.50 228.36,291.73 229.06,290.00 229.76,288.30 230.46,286.62 231.16,284.94 231.86,283.27 232.57,281.62 233.27,280.00 233.97,278.40 234.67,276.85 235.37,275.35 236.07,273.90 236.77,272.51 237.47,271.19 238.17,269.95 238.87,268.78 239.57,267.67 240.28,266.62 240.98,265.62 241.68,264.66 242.38,263.75 243.08,262.86 243.78,262.00 244.48,261.15 245.18,260.32 245.88,259.50 246.58,258.69 247.29,257.90 247.99,257.13 248.69,256.38 249.39,255.65 250.09,254.95 250.79,254.27 251.49,253.62 252.19,253.00 252.89,252.40 253.59,251.83 254.29,251.28 255.00,250.74 255.70,250.22 256.40,249.72 257.10,249.22 257.80,248.73 258.50,248.24" stroke="#008080" stroke-width="1.3" fill="none" stroke-linejoin="round"/>
<polygon points="34.20,263.88 36.93,258.97 31.47,258.97" fill="#008080"/>
<polygon points="41.21,269.62 43.94,264.71 38.48,264.71" fill="#008080"/>
<polygon points="48.22,276.79 50.95,271.88 45.49,271.88" fill="#008080"/>
<polygon points="55.23,285.40 57.96,280.49 52.50,280.49" fill="#008080"/>
<polygon points="62.24,295.45 64.97,290.53 59.51,290.53" fill="#008080"/>
<polygon points="69.25,306.92 71.98,302.01 66.52,302.01" fill="#008080"/>
<polygon points="76.26,319.84 78.99,314.92 73.53,314.92" fill="#008080"/>
<polygon points="83.27,334.90 86.00,329.99 80.54,329.99" fill="#008080"/>
<polygon points="90.28,351.04 93.01,346.13 87.55,346.13" fill="#008080"/>
<polygon points="97.28,367.54 100.01,362.63 94.55,362.63" fill="#008080"/>
<polygon points="104.29,379.74 107.02,374.82 101.56,374.82" fill="#008080"/>
<polygon points="111.30,382.97 114.03,378.05 108.57,378.05" fill="#008080"/>
<polygon points="118.31,379.02 121.04,374.11 115.58,374.11" fill="#008080"/>
<polygon points="125.32,372.56 128.05,367.65 122.59,367.65" fill="#008080"/>
<polygon points="132.33,367.54 135.06,362.63 129.60,362.63" fill="#008080"/>
<polygon points="139.34,363.24 142.07,358.32 136.61,358.32" fill="#008080"/>
<polygon points="146.35,361.09 149.08,356.17 143.62,356.17" fill="#008080"/>
<polygon points="153.36,361.80 156.09,356.89 150.63,356.89" fill="#008080"/>
<polygon points="160.37,363.96 163.10,359.04 157.64,359.04" fill="#008080"/>
<polygon points="167.38,370.05 170.11,365.14 164.65,365.14" fill="#008080"/>
<polygon points="174.39,379.02 177.12,374.11 171.66,374.11" fill="#008080"/>
<polygon points="181.40,391.58 184.13,386.66 178.67,386.66" fill="#008080"/>
<polygon points="188.41,399.11 191.14,394.19 185.68,394.19" fill="#008080"/>
<polygon points="195.42,381.17 198.15,376.26 192.69,376.26" fill="#008080"/>
<polygon points="202.43,353.20 205.16,348.28 199.70,348.28" fill="#008080"/>
<polygon points="209.43,351.76 212.16,346.85 206.70,346.85" fill="#008080"/>
<polygon points="216.44,334.54 219.17,329.63 213.71,329.63" fill="#008080"/>
<polygon points="223.45,308.36 226.18,303.44 220.72,303.44" fill="#008080"/>
<polygon points="230.46,289.35 233.19,284.43 227.73,284.43" fill="#008080"/>
<polygon points="237.47,273.92 240.20,269.01 234.74,269.01" fill="#008080"/>
<polygon points="244.48,263.88 247.21,258.97 241.75,258.97" fill="#008080"/>
<polygon points="251.49,256.35 254.22,251.43 248.76,251.43" fill="#008080"/>
<polygon points="258.50,250.97 261.23,246.05 255.77,246.05" fill="#008080"/>
</g>
<rect x="34.20" y="236.40" width="224.30" height="165.00" fill="none" stroke="#3a3a3a" stroke-width="1.1"/>
<path d="M34.20 401.40v3.2 M48.22 401.40v2.0 M62.24 401.40v3.2 M76.26 401.40v2.0 M90.28 401.40v3.2 M104.29 401.40v2.0 M118.31 401.40v3.2 M132.33 401.40v2.0 M146.35 401.40v3.2 M160.37 401.40v2.0 M174.39 401.40v3.2 M188.41 401.40v2.0 M202.43 401.40v3.2 M216.44 401.40v2.0 M230.46 401.40v3.2 M244.48 401.40v2.0 M258.50 401.40v3.2 M34.20 236.40h-3.2 M34.20 254.33h-2.0 M34.20 272.27h-3.2 M34.20 290.20h-2.0 M34.20 308.14h-3.2 M34.20 326.07h-2.0 M34.20 344.01h-3.2 M34.20 361.94h-2.0 M34.20 379.88h-3.2 M34.20 397.81h-2.0" stroke="#3a3a3a" stroke-width="1.1" fill="none"/>
<g font-family="Liberation Sans" font-size="7.1" fill="#222" stroke="#222" stroke-width="0.25"><text x="34.70" y="412.90" text-anchor="middle">7</text><text x="62.74" y="412.90" text-anchor="middle">8</text><text x="90.78" y="412.90" text-anchor="middle">9</text><text x="118.81" y="412.90" text-anchor="middle">10</text><text x="146.85" y="412.90" text-anchor="middle">11</text><text x="174.89" y="412.90" text-anchor="middle">12</text><text x="202.93" y="412.90" text-anchor="middle">13</text><text x="230.96" y="412.90" text-anchor="middle">14</text><text x="259.00" y="412.90" text-anchor="middle">15</text><text x="29.20" y="238.00" text-anchor="end">0</text><text x="29.20" y="273.87" text-anchor="end">-5</text><text x="29.20" y="309.74" text-anchor="end">-10</text><text x="29.20" y="345.61" text-anchor="end">-15</text><text x="29.20" y="381.48" text-anchor="end">-20</text></g>
<rect x="90.4" y="270.4" width="66.00" height="53.10" fill="#fff" stroke="#b4b4b4" stroke-width="0.8"/>
<line x1="91.8" y1="278.30" x2="116.7" y2="278.30" stroke="#000000" stroke-width="1.15"/>
<rect x="102.15" y="276.20" width="4.20" height="4.20" fill="#000000"/>
<text x="119.9" y="282.08" font-family="Liberation Sans" font-size="10.5" fill="#000" stroke="#000" stroke-width="0.18">1.3 mm</text>
<line x1="91.8" y1="291.37" x2="116.7" y2="291.37" stroke="#ff0000" stroke-width="1.15"/>
<circle cx="104.25" cy="291.37" r="2.31" fill="#ff0000"/>
<text x="119.9" y="295.15" font-family="Liberation Sans" font-size="10.5" fill="#000" stroke="#000" stroke-width="0.18">1.5 mm</text>
<line x1="91.8" y1="304.44" x2="116.7" y2="304.44" stroke="#0000ff" stroke-width="1.15"/>
<polygon points="104.25,301.71 106.98,306.62 101.52,306.62" fill="#0000ff"/>
<text x="119.9" y="308.22" font-family="Liberation Sans" font-size="10.5" fill="#000" stroke="#000" stroke-width="0.18">1.7 mm</text>
<line x1="91.8" y1="317.51" x2="116.7" y2="317.51" stroke="#008080" stroke-width="1.15"/>
<polygon points="104.25,320.24 106.98,315.33 101.52,315.33" fill="#008080"/>
<text x="119.9" y="321.29" font-family="Liberation Sans" font-size="10.5" fill="#000" stroke="#000" stroke-width="0.18">1.9 mm</text>
<text x="144.00" y="428.50" text-anchor="middle" font-family="Liberation Serif" font-size="14.8" fill="#111" stroke="#111" stroke-width="0.25">Frequency [GHz]</text>
<text x="139.00" y="451.00" text-anchor="middle" font-family="Liberation Serif" font-size="16.6" fill="#111" stroke="#111" stroke-width="0.25">(d)</text>
<text transform="translate(11.2,326.00) rotate(-90)" text-anchor="middle" font-family="Liberation Serif" font-size="14.7" fill="#111" stroke="#111" stroke-width="0.25">Reflection Coefficient [dB]</text>
<path d="M294.97 236.30V400.50 M309.04 236.30V400.50 M323.11 236.30V400.50 M337.17 236.30V400.50 M351.24 236.30V400.50 M365.31 236.30V400.50 M379.38 236.30V400.50 M393.45 236.30V400.50 M407.52 236.30V400.50 M421.59 236.30V400.50 M435.66 236.30V400.50 M449.73 236.30V400.50 M463.79 236.30V400.50 M477.86 236.30V400.50 M491.93 236.30V400.50 M280.90 244.12H506.00 M280.90 251.94H506.00 M280.90 259.76H506.00 M280.90 267.58H506.00 M280.90 275.40H506.00 M280.90 283.21H506.00 M280.90 291.03H506.00 M280.90 298.85H506.00 M280.90 306.67H506.00 M280.90 314.49H506.00 M280.90 322.31H506.00 M280.90 330.13H506.00 M280.90 337.95H506.00 M280.90 345.77H506.00 M280.90 353.59H506.00 M280.90 361.40H506.00 M280.90 369.22H506.00 M280.90 377.04H506.00 M280.90 384.86H506.00 M280.90 392.68H506.00" stroke="#f1f1f1" stroke-width="0.9" stroke-dasharray="2 1" fill="none"/>
<clipPath id="cpe"><rect x="280.90" y="236.30" width="225.10" height="164.20"/></clipPath><g clip-path="url(#cpe)">
<polyline points="280.90,255.46 281.60,255.85 282.31,256.24 283.01,256.63 283.71,257.03 284.42,257.43 285.12,257.84 285.82,258.26 286.53,258.70 287.23,259.14 287.93,259.60 288.64,260.08 289.34,260.57 290.04,261.07 290.75,261.59 291.45,262.13 292.15,262.69 292.86,263.26 293.56,263.85 294.27,264.45 294.97,265.07 295.67,265.71 296.38,266.37 297.08,267.03 297.78,267.71 298.49,268.39 299.19,269.09 299.89,269.78 300.60,270.48 301.30,271.18 302.00,271.88 302.71,272.57 303.41,273.26 304.11,273.95 304.82,274.65 305.52,275.34 306.22,276.04 306.93,276.75 307.63,277.46 308.33,278.18 309.04,278.91 309.74,279.66 310.44,280.42 311.15,281.19 311.85,281.98 312.55,282.79 313.26,283.61 313.96,284.46 314.66,285.32 315.37,286.21 316.07,287.12 316.78,288.06 317.48,289.02 318.18,290.00 318.89,290.99 319.59,292.01 320.29,293.04 321.00,294.09 321.70,295.14 322.40,296.21 323.11,297.29 323.81,298.37 324.51,299.46 325.22,300.56 325.92,301.65 326.62,302.75 327.33,303.85 328.03,304.95 328.73,306.05 329.44,307.14 330.14,308.24 330.84,309.32 331.55,310.41 332.25,311.49 332.95,312.59 333.66,313.70 334.36,314.82 335.06,315.97 335.77,317.14 336.47,318.34 337.17,319.57 337.88,320.84 338.58,322.15 339.29,323.49 339.99,324.85 340.69,326.23 341.40,327.62 342.10,329.03 342.80,330.44 343.51,331.85 344.21,333.26 344.91,334.66 345.62,336.05 346.32,337.42 347.02,338.79 347.73,340.13 348.43,341.46 349.13,342.77 349.84,344.05 350.54,345.31 351.24,346.55 351.95,347.76 352.65,348.94 353.35,350.10 354.06,351.24 354.76,352.36 355.46,353.48 356.17,354.58 356.87,355.68 357.57,356.78 358.28,357.89 358.98,358.99 359.69,360.09 360.39,361.19 361.09,362.27 361.80,363.33 362.50,364.36 363.20,365.35 363.91,366.30 364.61,367.20 365.31,368.05 366.02,368.84 366.72,369.56 367.42,370.24 368.13,370.87 368.83,371.45 369.53,372.00 370.24,372.51 370.94,373.00 371.64,373.47 372.35,373.92 373.05,374.35 373.75,374.77 374.46,375.17 375.16,375.54 375.86,375.89 376.57,376.20 377.27,376.47 377.97,376.71 378.68,376.90 379.38,377.04 380.08,377.13 380.79,377.18 381.49,377.18 382.19,377.15 382.90,377.10 383.60,377.02 384.31,376.93 385.01,376.84 385.71,376.74 386.42,376.65 387.12,376.57 387.82,376.50 388.53,376.44 389.23,376.38 389.93,376.31 390.64,376.25 391.34,376.17 392.04,376.09 392.75,375.99 393.45,375.87 394.15,375.73 394.86,375.58 395.56,375.42 396.26,375.27 396.97,375.12 397.67,374.98 398.37,374.86 399.08,374.77 399.78,374.71 400.48,374.70 401.19,374.73 401.89,374.80 402.59,374.90 403.30,375.03 404.00,375.17 404.70,375.32 405.41,375.48 406.11,375.63 406.82,375.76 407.52,375.87 408.22,375.95 408.93,376.01 409.63,376.06 410.33,376.10 411.04,376.14 411.74,376.19 412.44,376.26 413.15,376.36 413.85,376.48 414.55,376.65 415.26,376.87 415.96,377.13 416.66,377.43 417.37,377.78 418.07,378.16 418.77,378.58 419.48,379.03 420.18,379.52 420.88,380.03 421.59,380.56 422.29,381.12 422.99,381.69 423.70,382.28 424.40,382.88 425.10,383.48 425.81,384.09 426.51,384.69 427.21,385.28 427.92,385.86 428.62,386.43 429.33,386.97 430.03,387.49 430.73,387.99 431.44,388.45 432.14,388.87 432.84,389.26 433.55,389.60 434.25,389.90 434.95,390.15 435.66,390.34 436.36,390.47 437.06,390.54 437.77,390.54 438.47,390.47 439.17,390.33 439.88,390.11 440.58,389.81 441.28,389.42 441.99,388.95 442.69,388.38 443.39,387.72 444.10,386.98 444.80,386.17 445.50,385.32 446.21,384.44 446.91,383.55 447.61,382.66 448.32,381.79 449.02,380.95 449.73,380.17 450.43,379.46 451.13,378.87 451.84,378.43 452.54,378.19 453.24,378.19 453.95,378.47 454.65,379.08 455.35,380.06 456.06,381.45 456.76,383.30 457.46,385.49 458.17,387.36 458.87,388.06 459.57,386.88 460.28,383.87 460.98,379.46 461.68,374.04 462.39,368.04 463.09,361.86 463.79,355.93 464.50,350.58 465.20,345.81 465.90,341.58 466.61,337.81 467.31,334.45 468.01,331.43 468.72,328.69 469.42,326.17 470.12,323.80 470.83,321.53 471.53,319.29 472.24,317.09 472.94,314.92 473.64,312.78 474.35,310.68 475.05,308.61 475.75,306.58 476.46,304.59 477.16,302.64 477.86,300.73 478.57,298.86 479.27,297.03 479.97,295.25 480.68,293.51 481.38,291.82 482.08,290.16 482.79,288.55 483.49,286.99 484.19,285.47 484.90,284.00 485.60,282.57 486.30,281.18 487.01,279.83 487.71,278.51 488.41,277.22 489.12,275.96 489.82,274.72 490.52,273.50 491.23,272.29 491.93,271.09 492.63,269.91 493.34,268.73 494.04,267.56 494.75,266.41 495.45,265.29 496.15,264.19 496.86,263.13 497.56,262.09 498.26,261.10 498.97,260.15 499.67,259.24 500.37,258.38 501.08,257.55 501.78,256.75 502.48,255.99 503.19,255.24 503.89,254.52 504.59,253.81 505.30,253.10 506.00,252.41" stroke="#000000" stroke-width="1.3" fill="none" stroke-linejoin="round"/>
<rect x="278.80" y="253.36" width="4.20" height="4.20" fill="#000000"/>
<rect x="285.83" y="257.50" width="4.20" height="4.20" fill="#000000"/>
<rect x="292.87" y="262.97" width="4.20" height="4.20" fill="#000000"/>
<rect x="299.90" y="269.78" width="4.20" height="4.20" fill="#000000"/>
<rect x="306.94" y="276.81" width="4.20" height="4.20" fill="#000000"/>
<rect x="313.97" y="285.02" width="4.20" height="4.20" fill="#000000"/>
<rect x="321.01" y="295.19" width="4.20" height="4.20" fill="#000000"/>
<rect x="328.04" y="306.14" width="4.20" height="4.20" fill="#000000"/>
<rect x="335.07" y="317.47" width="4.20" height="4.20" fill="#000000"/>
<rect x="342.11" y="331.16" width="4.20" height="4.20" fill="#000000"/>
<rect x="349.14" y="344.45" width="4.20" height="4.20" fill="#000000"/>
<rect x="356.18" y="355.79" width="4.20" height="4.20" fill="#000000"/>
<rect x="363.21" y="365.95" width="4.20" height="4.20" fill="#000000"/>
<rect x="370.25" y="371.82" width="4.20" height="4.20" fill="#000000"/>
<rect x="377.28" y="374.94" width="4.20" height="4.20" fill="#000000"/>
<rect x="384.32" y="374.55" width="4.20" height="4.20" fill="#000000"/>
<rect x="391.35" y="373.77" width="4.20" height="4.20" fill="#000000"/>
<rect x="398.38" y="372.60" width="4.20" height="4.20" fill="#000000"/>
<rect x="405.42" y="373.77" width="4.20" height="4.20" fill="#000000"/>
<rect x="412.45" y="374.55" width="4.20" height="4.20" fill="#000000"/>
<rect x="419.49" y="378.46" width="4.20" height="4.20" fill="#000000"/>
<rect x="426.52" y="384.33" width="4.20" height="4.20" fill="#000000"/>
<rect x="433.56" y="388.24" width="4.20" height="4.20" fill="#000000"/>
<rect x="440.59" y="386.28" width="4.20" height="4.20" fill="#000000"/>
<rect x="447.62" y="378.07" width="4.20" height="4.20" fill="#000000"/>
<rect x="454.66" y="381.20" width="4.20" height="4.20" fill="#000000"/>
<rect x="461.69" y="353.83" width="4.20" height="4.20" fill="#000000"/>
<rect x="468.73" y="319.43" width="4.20" height="4.20" fill="#000000"/>
<rect x="475.76" y="298.63" width="4.20" height="4.20" fill="#000000"/>
<rect x="482.80" y="281.90" width="4.20" height="4.20" fill="#000000"/>
<rect x="489.83" y="268.99" width="4.20" height="4.20" fill="#000000"/>
<rect x="496.87" y="258.05" width="4.20" height="4.20" fill="#000000"/>
<rect x="503.90" y="250.31" width="4.20" height="4.20" fill="#000000"/>
<polyline points="280.90,257.88 281.60,258.38 282.31,258.88 283.01,259.38 283.71,259.90 284.42,260.42 285.12,260.95 285.82,261.51 286.53,262.07 287.23,262.66 287.93,263.28 288.64,263.91 289.34,264.57 290.04,265.25 290.75,265.95 291.45,266.66 292.15,267.38 292.86,268.11 293.56,268.84 294.27,269.58 294.97,270.31 295.67,271.05 296.38,271.78 297.08,272.51 297.78,273.24 298.49,273.97 299.19,274.71 299.89,275.46 300.60,276.21 301.30,276.97 302.00,277.74 302.71,278.53 303.41,279.32 304.11,280.14 304.82,280.96 305.52,281.81 306.22,282.67 306.93,283.56 307.63,284.46 308.33,285.39 309.04,286.34 309.74,287.32 310.44,288.32 311.15,289.34 311.85,290.37 312.55,291.43 313.26,292.50 313.96,293.58 314.66,294.68 315.37,295.78 316.07,296.90 316.78,298.02 317.48,299.14 318.18,300.27 318.89,301.40 319.59,302.53 320.29,303.67 321.00,304.81 321.70,305.95 322.40,307.09 323.11,308.24 323.81,309.38 324.51,310.52 325.22,311.68 325.92,312.84 326.62,314.03 327.33,315.23 328.03,316.46 328.73,317.73 329.44,319.02 330.14,320.35 330.84,321.73 331.55,323.14 332.25,324.58 332.95,326.04 333.66,327.51 334.36,328.99 335.06,330.47 335.77,331.94 336.47,333.39 337.17,334.82 337.88,336.22 338.58,337.59 339.29,338.94 339.99,340.27 340.69,341.58 341.40,342.89 342.10,344.19 342.80,345.49 343.51,346.80 344.21,348.11 344.91,349.44 345.62,350.77 346.32,352.10 347.02,353.43 347.73,354.75 348.43,356.05 349.13,357.34 349.84,358.60 350.54,359.82 351.24,361.01 351.95,362.16 352.65,363.27 353.35,364.34 354.06,365.37 354.76,366.36 355.46,367.31 356.17,368.23 356.87,369.12 357.57,369.97 358.28,370.79 358.98,371.57 359.69,372.33 360.39,373.04 361.09,373.71 361.80,374.34 362.50,374.91 363.20,375.44 363.91,375.90 364.61,376.31 365.31,376.65 366.02,376.93 366.72,377.14 367.42,377.29 368.13,377.39 368.83,377.44 369.53,377.44 370.24,377.39 370.94,377.31 371.64,377.19 372.35,377.04 373.05,376.87 373.75,376.67 374.46,376.45 375.16,376.22 375.86,375.98 376.57,375.72 377.27,375.46 377.97,375.21 378.68,374.95 379.38,374.70 380.08,374.45 380.79,374.22 381.49,373.99 382.19,373.76 382.90,373.54 383.60,373.31 384.31,373.08 385.01,372.85 385.71,372.60 386.42,372.35 387.12,372.09 387.82,371.82 388.53,371.55 389.23,371.28 389.93,371.02 390.64,370.77 391.34,370.54 392.04,370.34 392.75,370.16 393.45,370.01 394.15,369.89 394.86,369.81 395.56,369.76 396.26,369.74 396.97,369.74 397.67,369.76 398.37,369.80 399.08,369.86 399.78,369.93 400.48,370.01 401.19,370.09 401.89,370.18 402.59,370.29 403.30,370.41 404.00,370.54 404.70,370.70 405.41,370.88 406.11,371.08 406.82,371.31 407.52,371.57 408.22,371.86 408.93,372.18 409.63,372.53 410.33,372.91 411.04,373.30 411.74,373.71 412.44,374.14 413.15,374.58 413.85,375.03 414.55,375.48 415.26,375.94 415.96,376.40 416.66,376.86 417.37,377.32 418.07,377.79 418.77,378.26 419.48,378.73 420.18,379.21 420.88,379.69 421.59,380.17 422.29,380.65 422.99,381.13 423.70,381.60 424.40,382.05 425.10,382.49 425.81,382.89 426.51,383.25 427.21,383.58 427.92,383.86 428.62,384.08 429.33,384.24 430.03,384.34 430.73,384.37 431.44,384.32 432.14,384.19 432.84,383.97 433.55,383.66 434.25,383.25 434.95,382.74 435.66,382.13 436.36,381.39 437.06,380.54 437.77,379.57 438.47,378.46 439.17,377.23 439.88,375.85 440.58,374.32 441.28,372.65 441.99,370.82 442.69,368.83 443.39,366.69 444.10,364.44 444.80,362.14 445.50,359.85 446.21,357.64 446.91,355.55 447.61,353.65 448.32,352.00 449.02,350.65 449.73,349.68 450.43,349.11 451.13,348.93 451.84,349.10 452.54,349.58 453.24,350.35 453.95,351.36 454.65,352.58 455.35,353.96 456.06,355.49 456.76,357.10 457.46,358.71 458.17,359.90 458.87,360.20 459.57,359.32 460.28,357.40 460.98,354.66 461.68,351.30 462.39,347.52 463.09,343.52 463.79,339.51 464.50,335.66 465.20,331.99 465.90,328.50 466.61,325.18 467.31,322.01 468.01,318.99 468.72,316.11 469.42,313.37 470.12,310.74 470.83,308.24 471.53,305.83 472.24,303.53 472.94,301.32 473.64,299.19 474.35,297.15 475.05,295.18 475.75,293.27 476.46,291.43 477.16,289.64 477.86,287.91 478.57,286.21 479.27,284.56 479.97,282.94 480.68,281.37 481.38,279.83 482.08,278.34 482.79,276.88 483.49,275.46 484.19,274.08 484.90,272.74 485.60,271.43 486.30,270.15 487.01,268.92 487.71,267.72 488.41,266.55 489.12,265.43 489.82,264.34 490.52,263.30 491.23,262.29 491.93,261.32 492.63,260.39 493.34,259.50 494.04,258.65 494.75,257.83 495.45,257.04 496.15,256.28 496.86,255.55 497.56,254.84 498.26,254.16 498.97,253.50 499.67,252.86 500.37,252.24 501.08,251.63 501.78,251.03 502.48,250.45 503.19,249.88 503.89,249.31 504.59,248.75 505.30,248.19 506.00,247.64" stroke="#ff0000" stroke-width="1.3" fill="none" stroke-linejoin="round"/>
<circle cx="280.90" cy="257.88" r="2.31" fill="#ff0000"/>
<circle cx="287.93" cy="263.28" r="2.31" fill="#ff0000"/>
<circle cx="294.97" cy="270.31" r="2.31" fill="#ff0000"/>
<circle cx="302.00" cy="277.74" r="2.31" fill="#ff0000"/>
<circle cx="309.04" cy="286.34" r="2.31" fill="#ff0000"/>
<circle cx="316.07" cy="296.90" r="2.31" fill="#ff0000"/>
<circle cx="323.11" cy="308.24" r="2.31" fill="#ff0000"/>
<circle cx="330.14" cy="320.35" r="2.31" fill="#ff0000"/>
<circle cx="337.17" cy="334.82" r="2.31" fill="#ff0000"/>
<circle cx="344.21" cy="348.11" r="2.31" fill="#ff0000"/>
<circle cx="351.24" cy="361.01" r="2.31" fill="#ff0000"/>
<circle cx="358.28" cy="370.79" r="2.31" fill="#ff0000"/>
<circle cx="365.31" cy="376.65" r="2.31" fill="#ff0000"/>
<circle cx="372.35" cy="377.04" r="2.31" fill="#ff0000"/>
<circle cx="379.38" cy="374.70" r="2.31" fill="#ff0000"/>
<circle cx="386.42" cy="372.35" r="2.31" fill="#ff0000"/>
<circle cx="393.45" cy="370.01" r="2.31" fill="#ff0000"/>
<circle cx="400.48" cy="370.01" r="2.31" fill="#ff0000"/>
<circle cx="407.52" cy="371.57" r="2.31" fill="#ff0000"/>
<circle cx="414.55" cy="375.48" r="2.31" fill="#ff0000"/>
<circle cx="421.59" cy="380.17" r="2.31" fill="#ff0000"/>
<circle cx="428.62" cy="384.08" r="2.31" fill="#ff0000"/>
<circle cx="435.66" cy="382.13" r="2.31" fill="#ff0000"/>
<circle cx="442.69" cy="368.83" r="2.31" fill="#ff0000"/>
<circle cx="449.73" cy="349.68" r="2.31" fill="#ff0000"/>
<circle cx="456.76" cy="357.10" r="2.31" fill="#ff0000"/>
<circle cx="463.79" cy="339.51" r="2.31" fill="#ff0000"/>
<circle cx="470.83" cy="308.24" r="2.31" fill="#ff0000"/>
<circle cx="477.86" cy="287.91" r="2.31" fill="#ff0000"/>
<circle cx="484.90" cy="272.74" r="2.31" fill="#ff0000"/>
<circle cx="491.93" cy="261.32" r="2.31" fill="#ff0000"/>
<circle cx="498.97" cy="253.50" r="2.31" fill="#ff0000"/>
<circle cx="506.00" cy="247.64" r="2.31" fill="#ff0000"/>
<polyline points="280.90,261.87 281.60,262.73 282.31,263.59 283.01,264.44 283.71,265.29 284.42,266.13 285.12,266.96 285.82,267.78 286.53,268.59 287.23,269.38 287.93,270.16 288.64,270.91 289.34,271.66 290.04,272.39 290.75,273.12 291.45,273.86 292.15,274.60 292.86,275.35 293.56,276.12 294.27,276.92 294.97,277.74 295.67,278.59 296.38,279.48 297.08,280.39 297.78,281.32 298.49,282.26 299.19,283.22 299.89,284.19 300.60,285.17 301.30,286.15 302.00,287.12 302.71,288.09 303.41,289.06 304.11,290.04 304.82,291.01 305.52,292.00 306.22,293.01 306.93,294.04 307.63,295.09 308.33,296.17 309.04,297.29 309.74,298.44 310.44,299.62 311.15,300.83 311.85,302.06 312.55,303.30 313.26,304.54 313.96,305.78 314.66,307.01 315.37,308.22 316.07,309.41 316.78,310.57 317.48,311.71 318.18,312.85 318.89,313.99 319.59,315.14 320.29,316.32 321.00,317.54 321.70,318.81 322.40,320.13 323.11,321.53 323.81,323.00 324.51,324.54 325.22,326.14 325.92,327.77 326.62,329.43 327.33,331.09 328.03,332.75 328.73,334.39 329.44,336.00 330.14,337.56 330.84,339.05 331.55,340.50 332.25,341.90 332.95,343.26 333.66,344.60 334.36,345.92 335.06,347.24 335.77,348.56 336.47,349.89 337.17,351.24 337.88,352.62 338.58,354.02 339.29,355.44 339.99,356.85 340.69,358.27 341.40,359.66 342.10,361.04 342.80,362.38 343.51,363.68 344.21,364.92 344.91,366.11 345.62,367.24 346.32,368.29 347.02,369.28 347.73,370.19 348.43,371.03 349.13,371.78 349.84,372.45 350.54,373.03 351.24,373.52 351.95,373.92 352.65,374.24 353.35,374.47 354.06,374.64 354.76,374.75 355.46,374.81 356.17,374.82 356.87,374.80 357.57,374.76 358.28,374.70 358.98,374.63 359.69,374.54 360.39,374.44 361.09,374.31 361.80,374.15 362.50,373.96 363.20,373.73 363.91,373.45 364.61,373.13 365.31,372.74 366.02,372.30 366.72,371.81 367.42,371.27 368.13,370.71 368.83,370.12 369.53,369.53 370.24,368.94 370.94,368.35 371.64,367.80 372.35,367.27 373.05,366.78 373.75,366.34 374.46,365.93 375.16,365.55 375.86,365.20 376.57,364.87 377.27,364.57 377.97,364.28 378.68,364.01 379.38,363.75 380.08,363.50 380.79,363.25 381.49,363.02 382.19,362.80 382.90,362.59 383.60,362.40 384.31,362.22 385.01,362.06 385.71,361.92 386.42,361.80 387.12,361.70 387.82,361.61 388.53,361.55 389.23,361.50 389.93,361.47 390.64,361.44 391.34,361.43 392.04,361.42 392.75,361.41 393.45,361.40 394.15,361.40 394.86,361.40 395.56,361.40 396.26,361.41 396.97,361.43 397.67,361.47 398.37,361.52 399.08,361.59 399.78,361.68 400.48,361.80 401.19,361.94 401.89,362.11 402.59,362.30 403.30,362.53 404.00,362.79 404.70,363.07 405.41,363.39 406.11,363.74 406.82,364.12 407.52,364.53 408.22,364.98 408.93,365.46 409.63,365.96 410.33,366.49 411.04,367.04 411.74,367.61 412.44,368.19 413.15,368.79 413.85,369.39 414.55,370.01 415.26,370.62 415.96,371.23 416.66,371.84 417.37,372.43 418.07,373.01 418.77,373.57 419.48,374.10 420.18,374.60 420.88,375.06 421.59,375.48 422.29,375.85 422.99,376.17 423.70,376.43 424.40,376.62 425.10,376.73 425.81,376.76 426.51,376.69 427.21,376.53 427.92,376.26 428.62,375.87 429.33,375.36 430.03,374.73 430.73,373.98 431.44,373.11 432.14,372.11 432.84,370.99 433.55,369.76 434.25,368.40 434.95,366.92 435.66,365.31 436.36,363.59 437.06,361.75 437.77,359.79 438.47,357.70 439.17,355.50 439.88,353.17 440.58,350.72 441.28,348.15 441.99,345.45 442.69,342.64 443.39,339.72 444.10,336.76 444.80,333.86 445.50,331.11 446.21,328.59 446.91,326.40 447.61,324.63 448.32,323.36 449.02,322.69 449.73,322.70 450.43,323.45 451.13,324.81 451.84,326.64 452.54,328.79 453.24,331.08 453.95,333.38 454.65,335.53 455.35,337.37 456.06,338.75 456.76,339.51 457.46,339.54 458.17,338.89 458.87,337.63 459.57,335.86 460.28,333.66 460.98,331.11 461.68,328.31 462.39,325.33 463.09,322.26 463.79,319.18 464.50,316.18 465.20,313.25 465.90,310.40 466.61,307.63 467.31,304.94 468.01,302.32 468.72,299.78 469.42,297.31 470.12,294.92 470.83,292.60 471.53,290.35 472.24,288.17 472.94,286.06 473.64,284.03 474.35,282.07 475.05,280.19 475.75,278.38 476.46,276.65 477.16,275.01 477.86,273.44 478.57,271.95 479.27,270.54 479.97,269.20 480.68,267.93 481.38,266.71 482.08,265.55 482.79,264.43 483.49,263.36 484.19,262.33 484.90,261.32 485.60,260.34 486.30,259.39 487.01,258.46 487.71,257.56 488.41,256.69 489.12,255.84 489.82,255.02 490.52,254.22 491.23,253.46 491.93,252.72 492.63,252.01 493.34,251.33 494.04,250.67 494.75,250.05 495.45,249.45 496.15,248.89 496.86,248.35 497.56,247.85 498.26,247.38 498.97,246.93 499.67,246.52 500.37,246.14 501.08,245.78 501.78,245.45 502.48,245.13 503.19,244.83 503.89,244.55 504.59,244.27 505.30,244.00 506.00,243.73" stroke="#0000ff" stroke-width="1.3" fill="none" stroke-linejoin="round"/>
<polygon points="280.90,259.14 283.63,264.05 278.17,264.05" fill="#0000ff"/>
<polygon points="287.93,267.43 290.66,272.34 285.20,272.34" fill="#0000ff"/>
<polygon points="294.97,275.01 297.70,279.92 292.24,279.92" fill="#0000ff"/>
<polygon points="302.00,284.39 304.73,289.31 299.27,289.31" fill="#0000ff"/>
<polygon points="309.04,294.56 311.77,299.47 306.31,299.47" fill="#0000ff"/>
<polygon points="316.07,306.68 318.80,311.59 313.34,311.59" fill="#0000ff"/>
<polygon points="323.11,318.80 325.84,323.71 320.38,323.71" fill="#0000ff"/>
<polygon points="330.14,334.83 332.87,339.74 327.41,339.74" fill="#0000ff"/>
<polygon points="337.17,348.51 339.90,353.42 334.44,353.42" fill="#0000ff"/>
<polygon points="344.21,362.19 346.94,367.11 341.48,367.11" fill="#0000ff"/>
<polygon points="351.24,370.79 353.97,375.71 348.51,375.71" fill="#0000ff"/>
<polygon points="358.28,371.97 361.01,376.88 355.55,376.88" fill="#0000ff"/>
<polygon points="365.31,370.01 368.04,374.93 362.58,374.93" fill="#0000ff"/>
<polygon points="372.35,364.54 375.08,369.45 369.62,369.45" fill="#0000ff"/>
<polygon points="379.38,361.02 382.11,365.93 376.65,365.93" fill="#0000ff"/>
<polygon points="386.42,359.07 389.15,363.98 383.69,363.98" fill="#0000ff"/>
<polygon points="393.45,358.67 396.18,363.59 390.72,363.59" fill="#0000ff"/>
<polygon points="400.48,359.07 403.21,363.98 397.75,363.98" fill="#0000ff"/>
<polygon points="407.52,361.80 410.25,366.72 404.79,366.72" fill="#0000ff"/>
<polygon points="414.55,367.28 417.28,372.19 411.82,372.19" fill="#0000ff"/>
<polygon points="421.59,372.75 424.32,377.66 418.86,377.66" fill="#0000ff"/>
<polygon points="428.62,373.14 431.35,378.05 425.89,378.05" fill="#0000ff"/>
<polygon points="435.66,362.58 438.39,367.50 432.93,367.50" fill="#0000ff"/>
<polygon points="442.69,339.91 445.42,344.82 439.96,344.82" fill="#0000ff"/>
<polygon points="449.73,319.97 452.46,324.88 447.00,324.88" fill="#0000ff"/>
<polygon points="456.76,336.78 459.49,341.70 454.03,341.70" fill="#0000ff"/>
<polygon points="463.79,316.45 466.52,321.37 461.06,321.37" fill="#0000ff"/>
<polygon points="470.83,289.87 473.56,294.78 468.10,294.78" fill="#0000ff"/>
<polygon points="477.86,270.71 480.59,275.62 475.13,275.62" fill="#0000ff"/>
<polygon points="484.90,258.59 487.63,263.50 482.17,263.50" fill="#0000ff"/>
<polygon points="491.93,249.99 494.66,254.90 489.20,254.90" fill="#0000ff"/>
<polygon points="498.97,244.20 501.70,249.12 496.24,249.12" fill="#0000ff"/>
<polygon points="506.00,241.00 508.73,245.91 503.27,245.91" fill="#0000ff"/>
<polyline points="280.90,271.17 281.60,272.03 282.31,272.88 283.01,273.74 283.71,274.61 284.42,275.48 285.12,276.37 285.82,277.27 286.53,278.19 287.23,279.13 287.93,280.09 288.64,281.07 289.34,282.07 290.04,283.10 290.75,284.16 291.45,285.24 292.15,286.34 292.86,287.48 293.56,288.63 294.27,289.82 294.97,291.03 295.67,292.27 296.38,293.54 297.08,294.82 297.78,296.12 298.49,297.42 299.19,298.74 299.89,300.05 300.60,301.35 301.30,302.65 302.00,303.93 302.71,305.20 303.41,306.46 304.11,307.72 304.82,308.98 305.52,310.26 306.22,311.57 306.93,312.91 307.63,314.29 308.33,315.73 309.04,317.23 309.74,318.79 310.44,320.42 311.15,322.10 311.85,323.83 312.55,325.60 313.26,327.41 313.96,329.24 314.66,331.09 315.37,332.95 316.07,334.82 316.78,336.69 317.48,338.55 318.18,340.41 318.89,342.28 319.59,344.15 320.29,346.02 321.00,347.90 321.70,349.79 322.40,351.68 323.11,353.59 323.81,355.50 324.51,357.42 325.22,359.35 325.92,361.28 326.62,363.21 327.33,365.14 328.03,367.06 328.73,368.96 329.44,370.86 330.14,372.74 330.84,374.60 331.55,376.43 332.25,378.23 332.95,379.97 333.66,381.65 334.36,383.26 335.06,384.79 335.77,386.22 336.47,387.55 337.17,388.77 337.88,389.87 338.58,390.84 339.29,391.69 339.99,392.42 340.69,393.02 341.40,393.51 342.10,393.87 342.80,394.12 343.51,394.24 344.21,394.24 344.91,394.13 345.62,393.91 346.32,393.59 347.02,393.17 347.73,392.67 348.43,392.09 349.13,391.44 349.84,390.73 350.54,389.97 351.24,389.16 351.95,388.32 352.65,387.45 353.35,386.55 354.06,385.64 354.76,384.72 355.46,383.79 356.17,382.87 356.87,381.95 357.57,381.05 358.28,380.17 358.98,379.32 359.69,378.49 360.39,377.69 361.09,376.91 361.80,376.16 362.50,375.44 363.20,374.73 363.91,374.05 364.61,373.38 365.31,372.74 366.02,372.12 366.72,371.52 367.42,370.93 368.13,370.36 368.83,369.81 369.53,369.27 370.24,368.75 370.94,368.24 371.64,367.75 372.35,367.27 373.05,366.80 373.75,366.35 374.46,365.91 375.16,365.48 375.86,365.08 376.57,364.69 377.27,364.32 377.97,363.98 378.68,363.66 379.38,363.36 380.08,363.09 380.79,362.84 381.49,362.62 382.19,362.43 382.90,362.26 383.60,362.11 384.31,361.99 385.01,361.90 385.71,361.84 386.42,361.80 387.12,361.78 387.82,361.79 388.53,361.83 389.23,361.90 389.93,362.00 390.64,362.13 391.34,362.29 392.04,362.48 392.75,362.71 393.45,362.97 394.15,363.27 394.86,363.60 395.56,363.97 396.26,364.38 396.97,364.83 397.67,365.31 398.37,365.84 399.08,366.40 399.78,367.01 400.48,367.66 401.19,368.35 401.89,369.08 402.59,369.84 403.30,370.62 404.00,371.42 404.70,372.23 405.41,373.05 406.11,373.87 406.82,374.68 407.52,375.48 408.22,376.26 408.93,377.03 409.63,377.79 410.33,378.53 411.04,379.27 411.74,380.00 412.44,380.72 413.15,381.45 413.85,382.18 414.55,382.91 415.26,383.64 415.96,384.35 416.66,385.02 417.37,385.61 418.07,386.09 418.77,386.45 419.48,386.65 420.18,386.67 420.88,386.47 421.59,386.03 422.29,385.34 422.99,384.40 423.70,383.22 424.40,381.83 425.10,380.25 425.81,378.49 426.51,376.56 427.21,374.50 427.92,372.31 428.62,370.01 429.33,367.61 430.03,365.14 430.73,362.57 431.44,359.93 432.14,357.22 432.84,354.43 433.55,351.58 434.25,348.66 434.95,345.68 435.66,342.64 436.36,339.55 437.06,336.45 437.77,333.35 438.47,330.29 439.17,327.30 439.88,324.41 440.58,321.66 441.28,319.06 441.99,316.66 442.69,314.49 443.39,312.57 444.10,310.91 444.80,309.52 445.50,308.40 446.21,307.57 446.91,307.02 447.61,306.77 448.32,306.82 449.02,307.17 449.73,307.84 450.43,308.82 451.13,310.02 451.84,311.36 452.54,312.74 453.24,314.08 453.95,315.28 454.65,316.24 455.35,316.89 456.06,317.11 456.76,316.84 457.46,315.99 458.17,314.62 458.87,312.81 459.57,310.64 460.28,308.18 460.98,305.52 461.68,302.74 462.39,299.90 463.09,297.09 463.79,294.40 464.50,291.87 465.20,289.51 465.90,287.31 466.61,285.24 467.31,283.28 468.01,281.42 468.72,279.65 469.42,277.93 470.12,276.26 470.83,274.61 471.53,272.98 472.24,271.37 472.94,269.78 473.64,268.22 474.35,266.71 475.05,265.26 475.75,263.86 476.46,262.54 477.16,261.30 477.86,260.15 478.57,259.09 479.27,258.12 479.97,257.23 480.68,256.41 481.38,255.65 482.08,254.94 482.79,254.27 483.49,253.63 484.19,253.02 484.90,252.41 485.60,251.80 486.30,251.20 487.01,250.61 487.71,250.03 488.41,249.46 489.12,248.91 489.82,248.38 490.52,247.87 491.23,247.39 491.93,246.93 492.63,246.51 493.34,246.12 494.04,245.76 494.75,245.42 495.45,245.10 496.15,244.80 496.86,244.52 497.56,244.25 498.26,243.98 498.97,243.73 499.67,243.48 500.37,243.23 501.08,242.98 501.78,242.74 502.48,242.49 503.19,242.25 503.89,242.02 504.59,241.78 505.30,241.54 506.00,241.30" stroke="#008080" stroke-width="1.3" fill="none" stroke-linejoin="round"/>
<polygon points="280.90,273.90 283.63,268.99 278.17,268.99" fill="#008080"/>
<polygon points="287.93,282.82 290.66,277.90 285.20,277.90" fill="#008080"/>
<polygon points="294.97,293.76 297.70,288.85 292.24,288.85" fill="#008080"/>
<polygon points="302.00,306.66 304.73,301.75 299.27,301.75" fill="#008080"/>
<polygon points="309.04,319.96 311.77,315.04 306.31,315.04" fill="#008080"/>
<polygon points="316.07,337.55 318.80,332.64 313.34,332.64" fill="#008080"/>
<polygon points="323.11,356.32 325.84,351.40 320.38,351.40" fill="#008080"/>
<polygon points="330.14,375.47 332.87,370.56 327.41,370.56" fill="#008080"/>
<polygon points="337.17,391.50 339.90,386.59 334.44,386.59" fill="#008080"/>
<polygon points="344.21,396.97 346.94,392.06 341.48,392.06" fill="#008080"/>
<polygon points="351.24,391.89 353.97,386.98 348.51,386.98" fill="#008080"/>
<polygon points="358.28,382.90 361.01,377.99 355.55,377.99" fill="#008080"/>
<polygon points="365.31,375.47 368.04,370.56 362.58,370.56" fill="#008080"/>
<polygon points="372.35,370.00 375.08,365.09 369.62,365.09" fill="#008080"/>
<polygon points="379.38,366.09 382.11,361.18 376.65,361.18" fill="#008080"/>
<polygon points="386.42,364.53 389.15,359.61 383.69,359.61" fill="#008080"/>
<polygon points="393.45,365.70 396.18,360.78 390.72,360.78" fill="#008080"/>
<polygon points="400.48,370.39 403.21,365.48 397.75,365.48" fill="#008080"/>
<polygon points="407.52,378.21 410.25,373.30 404.79,373.30" fill="#008080"/>
<polygon points="414.55,385.64 417.28,380.72 411.82,380.72" fill="#008080"/>
<polygon points="421.59,388.76 424.32,383.85 418.86,383.85" fill="#008080"/>
<polygon points="428.62,372.74 431.35,367.82 425.89,367.82" fill="#008080"/>
<polygon points="435.66,345.37 438.39,340.46 432.93,340.46" fill="#008080"/>
<polygon points="442.69,317.22 445.42,312.31 439.96,312.31" fill="#008080"/>
<polygon points="449.73,310.57 452.46,305.66 447.00,305.66" fill="#008080"/>
<polygon points="456.76,319.57 459.49,314.65 454.03,314.65" fill="#008080"/>
<polygon points="463.79,297.13 466.52,292.21 461.06,292.21" fill="#008080"/>
<polygon points="470.83,277.34 473.56,272.43 468.10,272.43" fill="#008080"/>
<polygon points="477.86,262.88 480.59,257.96 475.13,257.96" fill="#008080"/>
<polygon points="484.90,255.14 487.63,250.22 482.17,250.22" fill="#008080"/>
<polygon points="491.93,249.66 494.66,244.75 489.20,244.75" fill="#008080"/>
<polygon points="498.97,246.46 501.70,241.54 496.24,241.54" fill="#008080"/>
<polygon points="506.00,244.03 508.73,239.12 503.27,239.12" fill="#008080"/>
</g>
<rect x="280.90" y="236.30" width="225.10" height="164.20" fill="none" stroke="#3a3a3a" stroke-width="1.1"/>
<path d="M280.90 400.50v3.2 M294.97 400.50v2.0 M309.04 400.50v3.2 M323.11 400.50v2.0 M337.17 400.50v3.2 M351.24 400.50v2.0 M365.31 400.50v3.2 M379.38 400.50v2.0 M393.45 400.50v3.2 M407.52 400.50v2.0 M421.59 400.50v3.2 M435.66 400.50v2.0 M449.73 400.50v3.2 M463.79 400.50v2.0 M477.86 400.50v3.2 M491.93 400.50v2.0 M506.00 400.50v3.2 M280.90 236.30h-3.2 M280.90 244.12h-2.0 M280.90 251.94h-3.2 M280.90 259.76h-2.0 M280.90 267.58h-3.2 M280.90 275.40h-2.0 M280.90 283.21h-3.2 M280.90 291.03h-2.0 M280.90 298.85h-3.2 M280.90 306.67h-2.0 M280.90 314.49h-3.2 M280.90 322.31h-2.0 M280.90 330.13h-3.2 M280.90 337.95h-2.0 M280.90 345.77h-3.2 M280.90 353.59h-2.0 M280.90 361.40h-3.2 M280.90 369.22h-2.0 M280.90 377.04h-3.2 M280.90 384.86h-2.0 M280.90 392.68h-3.2 M280.90 400.50h-2.0" stroke="#3a3a3a" stroke-width="1.1" fill="none"/>
<g font-family="Liberation Sans" font-size="7.1" fill="#222" stroke="#222" stroke-width="0.25"><text x="281.40" y="412.00" text-anchor="middle">7</text><text x="309.54" y="412.00" text-anchor="middle">8</text><text x="337.67" y="412.00" text-anchor="middle">9</text><text x="365.81" y="412.00" text-anchor="middle">10</text><text x="393.95" y="412.00" text-anchor="middle">11</text><text x="422.09" y="412.00" text-anchor="middle">12</text><text x="450.23" y="412.00" text-anchor="middle">13</text><text x="478.36" y="412.00" text-anchor="middle">14</text><text x="506.50" y="412.00" text-anchor="middle">15</text><text x="275.90" y="237.90" text-anchor="end">0</text><text x="275.90" y="253.54" text-anchor="end">-2</text><text x="275.90" y="269.18" text-anchor="end">-4</text><text x="275.90" y="284.81" text-anchor="end">-6</text><text x="275.90" y="300.45" text-anchor="end">-8</text><text x="275.90" y="316.09" text-anchor="end">-10</text><text x="275.90" y="331.73" text-anchor="end">-12</text><text x="275.90" y="347.37" text-anchor="end">-14</text><text x="275.90" y="363.00" text-anchor="end">-16</text><text x="275.90" y="378.64" text-anchor="end">-18</text><text x="275.90" y="394.28" text-anchor="end">-20</text></g>
<rect x="365.3" y="303.7" width="61.10" height="48.90" fill="#fff" stroke="#b4b4b4" stroke-width="0.8"/>
<line x1="366.6" y1="310.30" x2="389.6" y2="310.30" stroke="#000000" stroke-width="1.15"/>
<rect x="376.00" y="308.20" width="4.20" height="4.20" fill="#000000"/>
<text x="392.2" y="313.88" font-family="Liberation Sans" font-size="9.95" fill="#000" stroke="#000" stroke-width="0.18">6.9 mm</text>
<line x1="366.6" y1="322.55" x2="389.6" y2="322.55" stroke="#ff0000" stroke-width="1.15"/>
<circle cx="378.10" cy="322.55" r="2.31" fill="#ff0000"/>
<text x="392.2" y="326.13" font-family="Liberation Sans" font-size="9.95" fill="#000" stroke="#000" stroke-width="0.18">7.1 mm</text>
<line x1="366.6" y1="334.80" x2="389.6" y2="334.80" stroke="#0000ff" stroke-width="1.15"/>
<polygon points="378.10,332.07 380.83,336.98 375.37,336.98" fill="#0000ff"/>
<text x="392.2" y="338.38" font-family="Liberation Sans" font-size="9.95" fill="#000" stroke="#000" stroke-width="0.18">7.3 mm</text>
<line x1="366.6" y1="347.05" x2="389.6" y2="347.05" stroke="#008080" stroke-width="1.15"/>
<polygon points="378.10,349.78 380.83,344.87 375.37,344.87" fill="#008080"/>
<text x="392.2" y="350.63" font-family="Liberation Sans" font-size="9.95" fill="#000" stroke="#000" stroke-width="0.18">7.5 mm</text>
<text x="390.60" y="428.90" text-anchor="middle" font-family="Liberation Serif" font-size="14.8" fill="#111" stroke="#111" stroke-width="0.25">Frequency [GHz]</text>
<text x="393.40" y="450.60" text-anchor="middle" font-family="Liberation Serif" font-size="16.6" fill="#111" stroke="#111" stroke-width="0.25">(e)</text>
<path d="M545.18 236.40V400.40 M559.15 236.40V400.40 M573.12 236.40V400.40 M587.10 236.40V400.40 M601.08 236.40V400.40 M615.05 236.40V400.40 M629.02 236.40V400.40 M643.00 236.40V400.40 M656.98 236.40V400.40 M670.95 236.40V400.40 M684.92 236.40V400.40 M698.90 236.40V400.40 M712.88 236.40V400.40 M726.85 236.40V400.40 M740.82 236.40V400.40 M531.20 256.90H754.80 M531.20 277.40H754.80 M531.20 297.90H754.80 M531.20 318.40H754.80 M531.20 338.90H754.80 M531.20 359.40H754.80 M531.20 379.90H754.80" stroke="#f1f1f1" stroke-width="0.9" stroke-dasharray="2 1" fill="none"/>
<clipPath id="cpf"><rect x="531.20" y="236.40" width="223.60" height="164.00"/></clipPath><g clip-path="url(#cpf)">
<polyline points="531.20,265.10 531.90,265.71 532.60,266.33 533.30,266.95 534.00,267.57 534.69,268.21 535.39,268.86 536.09,269.53 536.79,270.22 537.49,270.93 538.19,271.66 538.89,272.42 539.59,273.20 540.28,274.01 540.98,274.83 541.68,275.68 542.38,276.54 543.08,277.42 543.78,278.30 544.48,279.20 545.18,280.11 545.87,281.02 546.57,281.94 547.27,282.86 547.97,283.80 548.67,284.75 549.37,285.71 550.07,286.68 550.77,287.67 551.46,288.68 552.16,289.70 552.86,290.74 553.56,291.80 554.26,292.88 554.96,293.97 555.66,295.07 556.36,296.19 557.05,297.32 557.75,298.46 558.45,299.61 559.15,300.77 559.85,301.94 560.55,303.11 561.25,304.29 561.95,305.47 562.64,306.66 563.34,307.85 564.04,309.05 564.74,310.25 565.44,311.45 566.14,312.66 566.84,313.87 567.54,315.08 568.23,316.31 568.93,317.56 569.63,318.84 570.33,320.14 571.03,321.48 571.73,322.86 572.43,324.29 573.12,325.78 573.82,327.32 574.52,328.91 575.22,330.55 575.92,332.20 576.62,333.88 577.32,335.57 578.02,337.25 578.72,338.92 579.41,340.57 580.11,342.18 580.81,343.75 581.51,345.28 582.21,346.79 582.91,348.26 583.61,349.72 584.31,351.16 585.00,352.60 585.70,354.04 586.40,355.48 587.10,356.94 587.80,358.41 588.50,359.89 589.20,361.37 589.89,362.84 590.59,364.29 591.29,365.71 591.99,367.09 592.69,368.41 593.39,369.68 594.09,370.88 594.79,372.00 595.49,373.05 596.18,374.02 596.88,374.92 597.58,375.76 598.28,376.54 598.98,377.25 599.68,377.91 600.38,378.52 601.08,379.08 601.77,379.59 602.47,380.06 603.17,380.47 603.87,380.84 604.57,381.16 605.27,381.42 605.97,381.64 606.66,381.80 607.36,381.90 608.06,381.95 608.76,381.94 609.46,381.88 610.16,381.77 610.86,381.61 611.56,381.42 612.25,381.18 612.95,380.90 613.65,380.60 614.35,380.26 615.05,379.90 615.75,379.52 616.45,379.12 617.15,378.70 617.85,378.26 618.54,377.81 619.24,377.34 619.94,376.87 620.64,376.38 621.34,375.89 622.04,375.39 622.74,374.89 623.44,374.38 624.13,373.88 624.83,373.39 625.53,372.91 626.23,372.45 626.93,372.02 627.63,371.61 628.33,371.22 629.02,370.88 629.72,370.57 630.42,370.30 631.12,370.06 631.82,369.85 632.52,369.65 633.22,369.47 633.92,369.31 634.62,369.15 635.31,368.99 636.01,368.83 636.71,368.66 637.41,368.49 638.11,368.33 638.81,368.16 639.51,368.02 640.21,367.88 640.90,367.77 641.60,367.68 642.30,367.62 643.00,367.60 643.70,367.62 644.40,367.67 645.10,367.75 645.80,367.86 646.49,367.99 647.19,368.14 647.89,368.30 648.59,368.47 649.29,368.65 649.99,368.83 650.69,369.01 651.38,369.19 652.08,369.37 652.78,369.57 653.48,369.79 654.18,370.02 654.88,370.29 655.58,370.58 656.28,370.92 656.98,371.29 657.67,371.71 658.37,372.17 659.07,372.66 659.77,373.19 660.47,373.73 661.17,374.30 661.87,374.88 662.56,375.46 663.26,376.04 663.96,376.62 664.66,377.19 665.36,377.74 666.06,378.29 666.76,378.82 667.46,379.34 668.15,379.85 668.85,380.35 669.55,380.84 670.25,381.32 670.95,381.79 671.65,382.24 672.35,382.67 673.05,383.05 673.75,383.37 674.44,383.62 675.14,383.78 675.84,383.83 676.54,383.76 677.24,383.55 677.94,383.18 678.64,382.65 679.34,381.95 680.03,381.09 680.73,380.08 681.43,378.93 682.13,377.65 682.83,376.23 683.53,374.70 684.23,373.05 684.92,371.29 685.62,369.43 686.32,367.47 687.02,365.40 687.72,363.23 688.42,360.96 689.12,358.57 689.82,356.08 690.51,353.47 691.21,350.75 691.91,347.92 692.61,344.99 693.31,342.02 694.01,339.12 694.71,336.36 695.41,333.84 696.11,331.64 696.80,329.85 697.50,328.56 698.20,327.86 698.90,327.83 699.60,328.52 700.30,329.82 701.00,331.58 701.70,333.64 702.39,335.85 703.09,338.06 703.79,340.12 704.49,341.86 705.19,343.15 705.89,343.82 706.59,343.77 707.28,343.03 707.98,341.70 708.68,339.86 709.38,337.60 710.08,335.00 710.78,332.14 711.48,329.12 712.18,326.01 712.88,322.91 713.57,319.88 714.27,316.94 714.97,314.09 715.67,311.31 716.37,308.62 717.07,306.00 717.77,303.46 718.46,300.99 719.16,298.59 719.86,296.26 720.56,294.00 721.26,291.80 721.96,289.66 722.66,287.60 723.36,285.60 724.05,283.66 724.75,281.79 725.45,279.99 726.15,278.25 726.85,276.58 727.55,274.97 728.25,273.43 728.95,271.96 729.64,270.54 730.34,269.18 731.04,267.88 731.74,266.63 732.44,265.44 733.14,264.30 733.84,263.21 734.54,262.17 735.24,261.18 735.93,260.23 736.63,259.31 737.33,258.43 738.03,257.59 738.73,256.77 739.43,255.97 740.13,255.20 740.82,254.44 741.52,253.70 742.22,252.97 742.92,252.26 743.62,251.57 744.32,250.90 745.02,250.25 745.72,249.62 746.41,249.02 747.11,248.44 747.81,247.88 748.51,247.35 749.21,246.85 749.91,246.37 750.61,245.90 751.31,245.46 752.00,245.02 752.70,244.60 753.40,244.18 754.10,243.78 754.80,243.37" stroke="#000000" stroke-width="1.3" fill="none" stroke-linejoin="round"/>
<rect x="529.10" y="263.00" width="4.20" height="4.20" fill="#000000"/>
<rect x="536.09" y="269.56" width="4.20" height="4.20" fill="#000000"/>
<rect x="543.08" y="278.01" width="4.20" height="4.20" fill="#000000"/>
<rect x="550.06" y="287.60" width="4.20" height="4.20" fill="#000000"/>
<rect x="557.05" y="298.67" width="4.20" height="4.20" fill="#000000"/>
<rect x="564.04" y="310.56" width="4.20" height="4.20" fill="#000000"/>
<rect x="571.02" y="323.68" width="4.20" height="4.20" fill="#000000"/>
<rect x="578.01" y="340.08" width="4.20" height="4.20" fill="#000000"/>
<rect x="585.00" y="354.84" width="4.20" height="4.20" fill="#000000"/>
<rect x="591.99" y="368.78" width="4.20" height="4.20" fill="#000000"/>
<rect x="598.98" y="376.98" width="4.20" height="4.20" fill="#000000"/>
<rect x="605.96" y="379.85" width="4.20" height="4.20" fill="#000000"/>
<rect x="612.95" y="377.80" width="4.20" height="4.20" fill="#000000"/>
<rect x="619.94" y="373.29" width="4.20" height="4.20" fill="#000000"/>
<rect x="626.92" y="368.78" width="4.20" height="4.20" fill="#000000"/>
<rect x="633.91" y="366.73" width="4.20" height="4.20" fill="#000000"/>
<rect x="640.90" y="365.50" width="4.20" height="4.20" fill="#000000"/>
<rect x="647.89" y="366.73" width="4.20" height="4.20" fill="#000000"/>
<rect x="654.88" y="369.19" width="4.20" height="4.20" fill="#000000"/>
<rect x="661.86" y="374.52" width="4.20" height="4.20" fill="#000000"/>
<rect x="668.85" y="379.69" width="4.20" height="4.20" fill="#000000"/>
<rect x="675.84" y="381.08" width="4.20" height="4.20" fill="#000000"/>
<rect x="682.82" y="369.19" width="4.20" height="4.20" fill="#000000"/>
<rect x="689.81" y="345.82" width="4.20" height="4.20" fill="#000000"/>
<rect x="696.80" y="325.73" width="4.20" height="4.20" fill="#000000"/>
<rect x="703.79" y="341.72" width="4.20" height="4.20" fill="#000000"/>
<rect x="710.77" y="320.81" width="4.20" height="4.20" fill="#000000"/>
<rect x="717.76" y="294.16" width="4.20" height="4.20" fill="#000000"/>
<rect x="724.75" y="274.48" width="4.20" height="4.20" fill="#000000"/>
<rect x="731.74" y="261.11" width="4.20" height="4.20" fill="#000000"/>
<rect x="738.72" y="252.34" width="4.20" height="4.20" fill="#000000"/>
<rect x="745.71" y="245.78" width="4.20" height="4.20" fill="#000000"/>
<rect x="752.70" y="241.27" width="4.20" height="4.20" fill="#000000"/>
<polyline points="531.20,261.00 531.90,261.57 532.60,262.13 533.30,262.70 534.00,263.27 534.69,263.84 535.39,264.42 536.09,264.99 536.79,265.57 537.49,266.15 538.19,266.74 538.89,267.33 539.59,267.93 540.28,268.54 540.98,269.16 541.68,269.80 542.38,270.45 543.08,271.13 543.78,271.82 544.48,272.55 545.18,273.30 545.87,274.08 546.57,274.89 547.27,275.73 547.97,276.58 548.67,277.45 549.37,278.33 550.07,279.22 550.77,280.12 551.46,281.02 552.16,281.91 552.86,282.80 553.56,283.68 554.26,284.57 554.96,285.45 555.66,286.34 556.36,287.24 557.05,288.14 557.75,289.06 558.45,289.99 559.15,290.93 559.85,291.89 560.55,292.87 561.25,293.87 561.95,294.88 562.64,295.90 563.34,296.94 564.04,297.99 564.74,299.04 565.44,300.11 566.14,301.18 566.84,302.26 567.54,303.34 568.23,304.43 568.93,305.53 569.63,306.63 570.33,307.74 571.03,308.86 571.73,309.98 572.43,311.11 573.12,312.25 573.82,313.39 574.52,314.55 575.22,315.71 575.92,316.88 576.62,318.06 577.32,319.25 578.02,320.45 578.72,321.67 579.41,322.90 580.11,324.14 580.81,325.40 581.51,326.66 582.21,327.94 582.91,329.22 583.61,330.50 584.31,331.78 585.00,333.06 585.70,334.34 586.40,335.60 587.10,336.85 587.80,338.09 588.50,339.31 589.20,340.52 589.89,341.72 590.59,342.91 591.29,344.09 591.99,345.26 592.69,346.42 593.39,347.58 594.09,348.74 594.79,349.89 595.49,351.04 596.18,352.17 596.88,353.29 597.58,354.39 598.28,355.46 598.98,356.50 599.68,357.51 600.38,358.48 601.08,359.40 601.77,360.28 602.47,361.11 603.17,361.90 603.87,362.64 604.57,363.35 605.27,364.02 605.97,364.66 606.66,365.26 607.36,365.83 608.06,366.37 608.76,366.88 609.46,367.37 610.16,367.83 610.86,368.25 611.56,368.65 612.25,369.01 612.95,369.33 613.65,369.61 614.35,369.86 615.05,370.06 615.75,370.22 616.45,370.34 617.15,370.42 617.85,370.47 618.54,370.48 619.24,370.45 619.94,370.40 620.64,370.31 621.34,370.20 622.04,370.06 622.74,369.90 623.44,369.71 624.13,369.51 624.83,369.30 625.53,369.08 626.23,368.86 626.93,368.64 627.63,368.42 628.33,368.21 629.02,368.01 629.72,367.83 630.42,367.66 631.12,367.50 631.82,367.35 632.52,367.20 633.22,367.05 633.92,366.89 634.62,366.73 635.31,366.56 636.01,366.37 636.71,366.17 637.41,365.95 638.11,365.73 638.81,365.50 639.51,365.27 640.21,365.05 640.90,364.84 641.60,364.65 642.30,364.47 643.00,364.32 643.70,364.20 644.40,364.10 645.10,364.02 645.80,363.97 646.49,363.93 647.19,363.91 647.89,363.90 648.59,363.90 649.29,363.90 649.99,363.91 650.69,363.92 651.38,363.93 652.08,363.94 652.78,363.95 653.48,363.95 654.18,363.95 654.88,363.95 655.58,363.94 656.28,363.93 656.98,363.91 657.67,363.88 658.37,363.85 659.07,363.81 659.77,363.76 660.47,363.70 661.17,363.63 661.87,363.55 662.56,363.46 663.26,363.36 663.96,363.25 664.66,363.13 665.36,363.00 666.06,362.85 666.76,362.69 667.46,362.52 668.15,362.33 668.85,362.14 669.55,361.92 670.25,361.69 670.95,361.45 671.65,361.19 672.35,360.91 673.05,360.59 673.75,360.23 674.44,359.82 675.14,359.35 675.84,358.81 676.54,358.19 677.24,357.49 677.94,356.69 678.64,355.80 679.34,354.80 680.03,353.73 680.73,352.57 681.43,351.36 682.13,350.08 682.83,348.77 683.53,347.41 684.23,346.03 684.92,344.64 685.62,343.23 686.32,341.81 687.02,340.34 687.72,338.83 688.42,337.25 689.12,335.59 689.82,333.83 690.51,331.96 691.21,329.97 691.91,327.83 692.61,325.55 693.31,323.20 694.01,320.84 694.71,318.56 695.41,316.44 696.11,314.54 696.80,312.96 697.50,311.77 698.20,311.04 698.90,310.86 699.60,311.26 700.30,312.19 701.00,313.54 701.70,315.20 702.39,317.09 703.09,319.09 703.79,321.11 704.49,323.05 705.19,324.80 705.89,326.27 706.59,327.37 707.28,328.11 707.98,328.48 708.68,328.51 709.38,328.20 710.08,327.58 710.78,326.65 711.48,325.43 712.18,323.93 712.88,322.17 713.57,320.16 714.27,317.94 714.97,315.54 715.67,313.00 716.37,310.37 717.07,307.68 717.77,304.96 718.46,302.27 719.16,299.63 719.86,297.08 720.56,294.66 721.26,292.36 721.96,290.18 722.66,288.10 723.36,286.12 724.05,284.23 724.75,282.43 725.45,280.69 726.15,279.02 726.85,277.40 727.55,275.83 728.25,274.31 728.95,272.83 729.64,271.40 730.34,270.02 731.04,268.69 731.74,267.41 732.44,266.18 733.14,265.00 733.84,263.87 734.54,262.79 735.24,261.76 735.93,260.78 736.63,259.83 737.33,258.93 738.03,258.06 738.73,257.22 739.43,256.41 740.13,255.62 740.82,254.85 741.52,254.10 742.22,253.37 742.92,252.66 743.62,251.97 744.32,251.30 745.02,250.65 745.72,250.02 746.41,249.42 747.11,248.84 747.81,248.29 748.51,247.76 749.21,247.26 749.91,246.78 750.61,246.32 751.31,245.87 752.00,245.44 752.70,245.01 753.40,244.60 754.10,244.19 754.80,243.78" stroke="#ff0000" stroke-width="1.3" fill="none" stroke-linejoin="round"/>
<circle cx="531.20" cy="261.00" r="2.31" fill="#ff0000"/>
<circle cx="538.19" cy="266.74" r="2.31" fill="#ff0000"/>
<circle cx="545.18" cy="273.30" r="2.31" fill="#ff0000"/>
<circle cx="552.16" cy="281.91" r="2.31" fill="#ff0000"/>
<circle cx="559.15" cy="290.93" r="2.31" fill="#ff0000"/>
<circle cx="566.14" cy="301.18" r="2.31" fill="#ff0000"/>
<circle cx="573.12" cy="312.25" r="2.31" fill="#ff0000"/>
<circle cx="580.11" cy="324.14" r="2.31" fill="#ff0000"/>
<circle cx="587.10" cy="336.85" r="2.31" fill="#ff0000"/>
<circle cx="594.09" cy="348.74" r="2.31" fill="#ff0000"/>
<circle cx="601.08" cy="359.40" r="2.31" fill="#ff0000"/>
<circle cx="608.06" cy="366.37" r="2.31" fill="#ff0000"/>
<circle cx="615.05" cy="370.06" r="2.31" fill="#ff0000"/>
<circle cx="622.04" cy="370.06" r="2.31" fill="#ff0000"/>
<circle cx="629.02" cy="368.01" r="2.31" fill="#ff0000"/>
<circle cx="636.01" cy="366.37" r="2.31" fill="#ff0000"/>
<circle cx="643.00" cy="364.32" r="2.31" fill="#ff0000"/>
<circle cx="649.99" cy="363.91" r="2.31" fill="#ff0000"/>
<circle cx="656.98" cy="363.91" r="2.31" fill="#ff0000"/>
<circle cx="663.96" cy="363.25" r="2.31" fill="#ff0000"/>
<circle cx="670.95" cy="361.45" r="2.31" fill="#ff0000"/>
<circle cx="677.94" cy="356.69" r="2.31" fill="#ff0000"/>
<circle cx="684.92" cy="344.64" r="2.31" fill="#ff0000"/>
<circle cx="691.91" cy="327.83" r="2.31" fill="#ff0000"/>
<circle cx="698.90" cy="310.86" r="2.31" fill="#ff0000"/>
<circle cx="705.89" cy="326.27" r="2.31" fill="#ff0000"/>
<circle cx="712.88" cy="322.17" r="2.31" fill="#ff0000"/>
<circle cx="719.86" cy="297.08" r="2.31" fill="#ff0000"/>
<circle cx="726.85" cy="277.40" r="2.31" fill="#ff0000"/>
<circle cx="733.84" cy="263.87" r="2.31" fill="#ff0000"/>
<circle cx="740.82" cy="254.85" r="2.31" fill="#ff0000"/>
<circle cx="747.81" cy="248.29" r="2.31" fill="#ff0000"/>
<circle cx="754.80" cy="243.78" r="2.31" fill="#ff0000"/>
<polyline points="531.20,258.13 531.90,258.55 532.60,258.97 533.30,259.40 534.00,259.83 534.69,260.27 535.39,260.71 536.09,261.17 536.79,261.65 537.49,262.13 538.19,262.64 538.89,263.16 539.59,263.70 540.28,264.26 540.98,264.83 541.68,265.41 542.38,265.99 543.08,266.59 543.78,267.18 544.48,267.78 545.18,268.38 545.87,268.98 546.57,269.57 547.27,270.17 547.97,270.77 548.67,271.37 549.37,271.99 550.07,272.60 550.77,273.23 551.46,273.88 552.16,274.53 552.86,275.20 553.56,275.89 554.26,276.59 554.96,277.30 555.66,278.03 556.36,278.78 557.05,279.54 557.75,280.31 558.45,281.11 559.15,281.91 559.85,282.73 560.55,283.56 561.25,284.40 561.95,285.24 562.64,286.09 563.34,286.94 564.04,287.79 564.74,288.62 565.44,289.46 566.14,290.27 566.84,291.08 567.54,291.88 568.23,292.67 568.93,293.46 569.63,294.25 570.33,295.06 571.03,295.88 571.73,296.72 572.43,297.58 573.12,298.47 573.82,299.40 574.52,300.35 575.22,301.33 575.92,302.32 576.62,303.33 577.32,304.35 578.02,305.37 578.72,306.39 579.41,307.40 580.11,308.40 580.81,309.38 581.51,310.34 582.21,311.30 582.91,312.25 583.61,313.19 584.31,314.13 585.00,315.06 585.70,316.00 586.40,316.95 587.10,317.91 587.80,318.88 588.50,319.85 589.20,320.84 589.89,321.83 590.59,322.82 591.29,323.81 591.99,324.81 592.69,325.79 593.39,326.77 594.09,327.75 594.79,328.71 595.49,329.66 596.18,330.60 596.88,331.53 597.58,332.45 598.28,333.36 598.98,334.25 599.68,335.13 600.38,336.00 601.08,336.85 601.77,337.69 602.47,338.51 603.17,339.32 603.87,340.10 604.57,340.87 605.27,341.60 605.97,342.31 606.66,342.98 607.36,343.62 608.06,344.23 608.76,344.80 609.46,345.33 610.16,345.83 610.86,346.30 611.56,346.75 612.25,347.18 612.95,347.59 613.65,347.98 614.35,348.36 615.05,348.74 615.75,349.11 616.45,349.47 617.15,349.83 617.85,350.17 618.54,350.49 619.24,350.80 619.94,351.08 620.64,351.34 621.34,351.57 622.04,351.77 622.74,351.94 623.44,352.08 624.13,352.18 624.83,352.26 625.53,352.31 626.23,352.34 626.93,352.35 627.63,352.34 628.33,352.31 629.02,352.27 629.72,352.21 630.42,352.14 631.12,352.06 631.82,351.96 632.52,351.86 633.22,351.74 633.92,351.62 634.62,351.49 635.31,351.35 636.01,351.20 636.71,351.05 637.41,350.89 638.11,350.72 638.81,350.56 639.51,350.39 640.21,350.22 640.90,350.05 641.60,349.88 642.30,349.72 643.00,349.56 643.70,349.40 644.40,349.25 645.10,349.10 645.80,348.95 646.49,348.80 647.19,348.64 647.89,348.47 648.59,348.30 649.29,348.12 649.99,347.92 650.69,347.71 651.38,347.49 652.08,347.26 652.78,347.01 653.48,346.76 654.18,346.51 654.88,346.25 655.58,345.99 656.28,345.72 656.98,345.46 657.67,345.20 658.37,344.94 659.07,344.67 659.77,344.39 660.47,344.09 661.17,343.77 661.87,343.42 662.56,343.05 663.26,342.63 663.96,342.18 664.66,341.68 665.36,341.15 666.06,340.57 666.76,339.97 667.46,339.34 668.15,338.69 668.85,338.02 669.55,337.33 670.25,336.64 670.95,335.95 671.65,335.25 672.35,334.56 673.05,333.85 673.75,333.13 674.44,332.39 675.14,331.63 675.84,330.84 676.54,330.01 677.24,329.15 677.94,328.24 678.64,327.29 679.34,326.30 680.03,325.28 680.73,324.25 681.43,323.21 682.13,322.19 682.83,321.18 683.53,320.21 684.23,319.28 684.92,318.40 685.62,317.58 686.32,316.81 687.02,316.06 687.72,315.30 688.42,314.51 689.12,313.68 689.82,312.77 690.51,311.77 691.21,310.65 691.91,309.38 692.61,307.96 693.31,306.44 694.01,304.86 694.71,303.30 695.41,301.80 696.11,300.44 696.80,299.25 697.50,298.32 698.20,297.68 698.90,297.41 699.60,297.54 700.30,298.04 701.00,298.85 701.70,299.94 702.39,301.26 703.09,302.74 703.79,304.34 704.49,306.02 705.19,307.71 705.89,309.38 706.59,310.97 707.28,312.46 707.98,313.80 708.68,314.97 709.38,315.95 710.08,316.68 710.78,317.16 711.48,317.33 712.18,317.18 712.88,316.68 713.57,315.80 714.27,314.57 714.97,313.05 715.67,311.27 716.37,309.29 717.07,307.15 717.77,304.90 718.46,302.57 719.16,300.23 719.86,297.90 720.56,295.63 721.26,293.44 721.96,291.30 722.66,289.24 723.36,287.24 724.05,285.31 724.75,283.44 725.45,281.63 726.15,279.89 726.85,278.22 727.55,276.61 728.25,275.06 728.95,273.57 729.64,272.14 730.34,270.77 731.04,269.45 731.74,268.18 732.44,266.97 733.14,265.81 733.84,264.69 734.54,263.62 735.24,262.60 735.93,261.61 736.63,260.67 737.33,259.76 738.03,258.89 738.73,258.04 739.43,257.23 740.13,256.44 740.82,255.67 741.52,254.92 742.22,254.20 742.92,253.49 743.62,252.81 744.32,252.14 745.02,251.50 745.72,250.87 746.41,250.26 747.11,249.68 747.81,249.11 748.51,248.56 749.21,248.03 749.91,247.52 750.61,247.02 751.31,246.53 752.00,246.05 752.70,245.58 753.40,245.11 754.10,244.65 754.80,244.19" stroke="#0000ff" stroke-width="1.3" fill="none" stroke-linejoin="round"/>
<polygon points="531.20,255.40 533.93,260.31 528.47,260.31" fill="#0000ff"/>
<polygon points="538.19,259.91 540.92,264.82 535.46,264.82" fill="#0000ff"/>
<polygon points="545.18,265.65 547.91,270.56 542.45,270.56" fill="#0000ff"/>
<polygon points="552.16,271.80 554.89,276.71 549.43,276.71" fill="#0000ff"/>
<polygon points="559.15,279.18 561.88,284.09 556.42,284.09" fill="#0000ff"/>
<polygon points="566.14,287.54 568.87,292.46 563.41,292.46" fill="#0000ff"/>
<polygon points="573.12,295.74 575.86,300.66 570.39,300.66" fill="#0000ff"/>
<polygon points="580.11,305.67 582.84,310.58 577.38,310.58" fill="#0000ff"/>
<polygon points="587.10,315.18 589.83,320.09 584.37,320.09" fill="#0000ff"/>
<polygon points="594.09,325.02 596.82,329.93 591.36,329.93" fill="#0000ff"/>
<polygon points="601.08,334.12 603.81,339.03 598.35,339.03" fill="#0000ff"/>
<polygon points="608.06,341.50 610.79,346.41 605.33,346.41" fill="#0000ff"/>
<polygon points="615.05,346.01 617.78,350.92 612.32,350.92" fill="#0000ff"/>
<polygon points="622.04,349.04 624.77,353.96 619.31,353.96" fill="#0000ff"/>
<polygon points="629.02,349.54 631.75,354.45 626.29,354.45" fill="#0000ff"/>
<polygon points="636.01,348.47 638.74,353.38 633.28,353.38" fill="#0000ff"/>
<polygon points="643.00,346.83 645.73,351.74 640.27,351.74" fill="#0000ff"/>
<polygon points="649.99,345.19 652.72,350.10 647.26,350.10" fill="#0000ff"/>
<polygon points="656.98,342.73 659.71,347.64 654.25,347.64" fill="#0000ff"/>
<polygon points="663.96,339.45 666.69,344.36 661.23,344.36" fill="#0000ff"/>
<polygon points="670.95,333.22 673.68,338.13 668.22,338.13" fill="#0000ff"/>
<polygon points="677.94,325.51 680.67,330.42 675.21,330.42" fill="#0000ff"/>
<polygon points="684.92,315.67 687.65,320.58 682.19,320.58" fill="#0000ff"/>
<polygon points="691.91,306.65 694.64,311.56 689.18,311.56" fill="#0000ff"/>
<polygon points="698.90,294.68 701.63,299.59 696.17,299.59" fill="#0000ff"/>
<polygon points="705.89,306.65 708.62,311.56 703.16,311.56" fill="#0000ff"/>
<polygon points="712.88,313.95 715.61,318.86 710.14,318.86" fill="#0000ff"/>
<polygon points="719.86,295.17 722.59,300.08 717.13,300.08" fill="#0000ff"/>
<polygon points="726.85,275.49 729.58,280.40 724.12,280.40" fill="#0000ff"/>
<polygon points="733.84,261.96 736.57,266.87 731.11,266.87" fill="#0000ff"/>
<polygon points="740.82,252.94 743.55,257.85 738.09,257.85" fill="#0000ff"/>
<polygon points="747.81,246.38 750.54,251.29 745.08,251.29" fill="#0000ff"/>
<polygon points="754.80,241.46 757.53,246.37 752.07,246.37" fill="#0000ff"/>
<polyline points="531.20,254.44 531.90,254.86 532.60,255.28 533.30,255.70 534.00,256.12 534.69,256.55 535.39,256.97 536.09,257.40 536.79,257.83 537.49,258.27 538.19,258.70 538.89,259.15 539.59,259.59 540.28,260.04 540.98,260.50 541.68,260.97 542.38,261.44 543.08,261.93 543.78,262.43 544.48,262.94 545.18,263.46 545.87,264.00 546.57,264.55 547.27,265.11 547.97,265.68 548.67,266.25 549.37,266.84 550.07,267.43 550.77,268.02 551.46,268.61 552.16,269.20 552.86,269.79 553.56,270.38 554.26,270.96 554.96,271.55 555.66,272.15 556.36,272.74 557.05,273.34 557.75,273.95 558.45,274.56 559.15,275.19 559.85,275.82 560.55,276.46 561.25,277.11 561.95,277.77 562.64,278.44 563.34,279.12 564.04,279.81 564.74,280.50 565.44,281.20 566.14,281.91 566.84,282.62 567.54,283.35 568.23,284.07 568.93,284.80 569.63,285.53 570.33,286.27 571.03,287.00 571.73,287.74 572.43,288.47 573.12,289.21 573.82,289.94 574.52,290.67 575.22,291.40 575.92,292.14 576.62,292.89 577.32,293.65 578.02,294.42 578.72,295.20 579.41,296.01 580.11,296.83 580.81,297.68 581.51,298.55 582.21,299.43 582.91,300.33 583.61,301.23 584.31,302.13 585.00,303.03 585.70,303.93 586.40,304.82 587.10,305.69 587.80,306.55 588.50,307.39 589.20,308.21 589.89,309.02 590.59,309.82 591.29,310.61 591.99,311.40 592.69,312.18 593.39,312.95 594.09,313.73 594.79,314.50 595.49,315.27 596.18,316.04 596.88,316.81 597.58,317.59 598.28,318.36 598.98,319.13 599.68,319.90 600.38,320.67 601.08,321.43 601.77,322.20 602.47,322.96 603.17,323.72 603.87,324.46 604.57,325.18 605.27,325.88 605.97,326.56 606.66,327.21 607.36,327.83 608.06,328.40 608.76,328.94 609.46,329.44 610.16,329.91 610.86,330.35 611.56,330.75 612.25,331.14 612.95,331.50 613.65,331.85 614.35,332.18 615.05,332.50 615.75,332.82 616.45,333.13 617.15,333.42 617.85,333.71 618.54,333.99 619.24,334.25 619.94,334.49 620.64,334.72 621.34,334.93 622.04,335.13 622.74,335.30 623.44,335.45 624.13,335.59 624.83,335.70 625.53,335.80 626.23,335.88 626.93,335.94 627.63,335.99 628.33,336.02 629.02,336.03 629.72,336.03 630.42,336.01 631.12,335.98 631.82,335.94 632.52,335.89 633.22,335.82 633.92,335.74 634.62,335.66 635.31,335.56 636.01,335.46 636.71,335.34 637.41,335.23 638.11,335.10 638.81,334.98 639.51,334.85 640.21,334.72 640.90,334.59 641.60,334.47 642.30,334.34 643.00,334.23 643.70,334.11 644.40,334.00 645.10,333.89 645.80,333.76 646.49,333.62 647.19,333.46 647.89,333.27 648.59,333.05 649.29,332.80 649.99,332.50 650.69,332.16 651.38,331.78 652.08,331.37 652.78,330.94 653.48,330.49 654.18,330.02 654.88,329.56 655.58,329.10 656.28,328.66 656.98,328.24 657.67,327.84 658.37,327.47 659.07,327.12 659.77,326.77 660.47,326.44 661.17,326.10 661.87,325.76 662.56,325.40 663.26,325.03 663.96,324.63 664.66,324.21 665.36,323.76 666.06,323.27 666.76,322.76 667.46,322.22 668.15,321.65 668.85,321.05 669.55,320.41 670.25,319.75 670.95,319.06 671.65,318.33 672.35,317.58 673.05,316.80 673.75,315.99 674.44,315.17 675.14,314.33 675.84,313.47 676.54,312.61 677.24,311.74 677.94,310.86 678.64,309.97 679.34,309.10 680.03,308.23 680.73,307.37 681.43,306.53 682.13,305.72 682.83,304.94 683.53,304.19 684.23,303.48 684.92,302.82 685.62,302.21 686.32,301.63 687.02,301.07 687.72,300.51 688.42,299.94 689.12,299.33 689.82,298.68 690.51,297.96 691.21,297.16 691.91,296.26 692.61,295.25 693.31,294.17 694.01,293.04 694.71,291.90 695.41,290.80 696.11,289.75 696.80,288.80 697.50,287.99 698.20,287.35 698.90,286.91 699.60,286.71 700.30,286.74 701.00,286.98 701.70,287.43 702.39,288.08 703.09,288.91 703.79,289.90 704.49,291.06 705.19,292.36 705.89,293.80 706.59,295.35 707.28,296.98 707.98,298.64 708.68,300.27 709.38,301.84 710.08,303.28 710.78,304.56 711.48,305.63 712.18,306.43 712.88,306.92 713.57,307.06 714.27,306.88 714.97,306.41 715.67,305.69 716.37,304.74 717.07,303.61 717.77,302.32 718.46,300.92 719.16,299.43 719.86,297.90 720.56,296.35 721.26,294.79 721.96,293.22 722.66,291.65 723.36,290.07 724.05,288.50 724.75,286.94 725.45,285.39 726.15,283.85 726.85,282.32 727.55,280.81 728.25,279.33 728.95,277.86 729.64,276.42 730.34,275.01 731.04,273.62 731.74,272.27 732.44,270.94 733.14,269.64 733.84,268.38 734.54,267.15 735.24,265.96 735.93,264.81 736.63,263.69 737.33,262.60 738.03,261.55 738.73,260.54 739.43,259.56 740.13,258.62 740.82,257.72 741.52,256.85 742.22,256.02 742.92,255.22 743.62,254.45 744.32,253.71 745.02,252.99 745.72,252.30 746.41,251.62 747.11,250.97 747.81,250.34 748.51,249.72 749.21,249.12 749.91,248.53 750.61,247.94 751.31,247.37 752.00,246.81 752.70,246.25 753.40,245.70 754.10,245.15 754.80,244.60" stroke="#008080" stroke-width="1.3" fill="none" stroke-linejoin="round"/>
<polygon points="531.20,257.17 533.93,252.26 528.47,252.26" fill="#008080"/>
<polygon points="538.19,261.43 540.92,256.52 535.46,256.52" fill="#008080"/>
<polygon points="545.18,266.19 547.91,261.28 542.45,261.28" fill="#008080"/>
<polygon points="552.16,271.93 554.89,267.02 549.43,267.02" fill="#008080"/>
<polygon points="559.15,277.92 561.88,273.00 556.42,273.00" fill="#008080"/>
<polygon points="566.14,284.64 568.87,279.73 563.41,279.73" fill="#008080"/>
<polygon points="573.12,291.94 575.86,287.02 570.39,287.02" fill="#008080"/>
<polygon points="580.11,299.56 582.84,294.65 577.38,294.65" fill="#008080"/>
<polygon points="587.10,308.42 589.83,303.51 584.37,303.51" fill="#008080"/>
<polygon points="594.09,316.46 596.82,311.54 591.36,311.54" fill="#008080"/>
<polygon points="601.08,324.16 603.81,319.25 598.35,319.25" fill="#008080"/>
<polygon points="608.06,331.13 610.79,326.22 605.33,326.22" fill="#008080"/>
<polygon points="615.05,335.23 617.78,330.32 612.32,330.32" fill="#008080"/>
<polygon points="622.04,337.86 624.77,332.94 619.31,332.94" fill="#008080"/>
<polygon points="629.02,338.76 631.75,333.85 626.29,333.85" fill="#008080"/>
<polygon points="636.01,338.19 638.74,333.27 633.28,333.27" fill="#008080"/>
<polygon points="643.00,336.96 645.73,332.04 640.27,332.04" fill="#008080"/>
<polygon points="649.99,335.23 652.72,330.32 647.26,330.32" fill="#008080"/>
<polygon points="656.98,330.97 659.71,326.06 654.25,326.06" fill="#008080"/>
<polygon points="663.96,327.36 666.69,322.45 661.23,322.45" fill="#008080"/>
<polygon points="670.95,321.79 673.68,316.87 668.22,316.87" fill="#008080"/>
<polygon points="677.94,313.59 680.67,308.67 675.21,308.67" fill="#008080"/>
<polygon points="684.92,305.55 687.65,300.64 682.19,300.64" fill="#008080"/>
<polygon points="691.91,298.99 694.64,294.08 689.18,294.08" fill="#008080"/>
<polygon points="698.90,289.64 701.63,284.73 696.17,284.73" fill="#008080"/>
<polygon points="705.89,296.53 708.62,291.62 703.16,291.62" fill="#008080"/>
<polygon points="712.88,309.65 715.61,304.74 710.14,304.74" fill="#008080"/>
<polygon points="719.86,300.63 722.59,295.72 717.13,295.72" fill="#008080"/>
<polygon points="726.85,285.05 729.58,280.14 724.12,280.14" fill="#008080"/>
<polygon points="733.84,271.11 736.57,266.20 731.11,266.20" fill="#008080"/>
<polygon points="740.82,260.45 743.55,255.54 738.09,255.54" fill="#008080"/>
<polygon points="747.81,253.07 750.54,248.16 745.08,248.16" fill="#008080"/>
<polygon points="754.80,247.33 757.53,242.42 752.07,242.42" fill="#008080"/>
<polyline points="531.20,251.98 531.90,252.30 532.60,252.62 533.30,252.94 534.00,253.26 534.69,253.58 535.39,253.91 536.09,254.24 536.79,254.58 537.49,254.92 538.19,255.26 538.89,255.61 539.59,255.97 540.28,256.33 540.98,256.70 541.68,257.07 542.38,257.45 543.08,257.84 543.78,258.23 544.48,258.63 545.18,259.03 545.87,259.44 546.57,259.86 547.27,260.29 547.97,260.72 548.67,261.16 549.37,261.60 550.07,262.05 550.77,262.52 551.46,262.98 552.16,263.46 552.86,263.94 553.56,264.44 554.26,264.94 554.96,265.45 555.66,265.97 556.36,266.50 557.05,267.03 557.75,267.58 558.45,268.14 559.15,268.71 559.85,269.29 560.55,269.87 561.25,270.47 561.95,271.07 562.64,271.68 563.34,272.30 564.04,272.91 564.74,273.53 565.44,274.15 566.14,274.78 566.84,275.40 567.54,276.02 568.23,276.64 568.93,277.26 569.63,277.88 570.33,278.50 571.03,279.12 571.73,279.75 572.43,280.38 573.12,281.01 573.82,281.64 574.52,282.28 575.22,282.92 575.92,283.57 576.62,284.22 577.32,284.87 578.02,285.52 578.72,286.17 579.41,286.83 580.11,287.49 580.81,288.14 581.51,288.80 582.21,289.46 582.91,290.13 583.61,290.79 584.31,291.46 585.00,292.12 585.70,292.79 586.40,293.46 587.10,294.13 587.80,294.80 588.50,295.47 589.20,296.14 589.89,296.81 590.59,297.48 591.29,298.15 591.99,298.81 592.69,299.47 593.39,300.12 594.09,300.77 594.79,301.41 595.49,302.04 596.18,302.67 596.88,303.29 597.58,303.91 598.28,304.52 598.98,305.12 599.68,305.73 600.38,306.32 601.08,306.92 601.77,307.51 602.47,308.10 603.17,308.69 603.87,309.27 604.57,309.85 605.27,310.42 605.97,310.99 606.66,311.55 607.36,312.11 608.06,312.66 608.76,313.20 609.46,313.74 610.16,314.27 610.86,314.78 611.56,315.29 612.25,315.78 612.95,316.25 613.65,316.71 614.35,317.16 615.05,317.58 615.75,317.98 616.45,318.37 617.15,318.73 617.85,319.07 618.54,319.40 619.24,319.70 619.94,319.98 620.64,320.24 621.34,320.48 622.04,320.70 622.74,320.89 623.44,321.07 624.13,321.23 624.83,321.37 625.53,321.50 626.23,321.61 626.93,321.71 627.63,321.79 628.33,321.86 629.02,321.93 629.72,321.98 630.42,322.02 631.12,322.06 631.82,322.08 632.52,322.09 633.22,322.08 633.92,322.07 634.62,322.03 635.31,321.99 636.01,321.93 636.71,321.85 637.41,321.75 638.11,321.65 638.81,321.53 639.51,321.40 640.21,321.27 640.90,321.13 641.60,320.99 642.30,320.84 643.00,320.70 643.70,320.55 644.40,320.41 645.10,320.25 645.80,320.10 646.49,319.93 647.19,319.74 647.89,319.54 648.59,319.32 649.29,319.08 649.99,318.81 650.69,318.51 651.38,318.19 652.08,317.84 652.78,317.47 653.48,317.08 654.18,316.67 654.88,316.26 655.58,315.83 656.28,315.39 656.98,314.96 657.67,314.51 658.37,314.07 659.07,313.62 659.77,313.16 660.47,312.70 661.17,312.23 661.87,311.74 662.56,311.24 663.26,310.73 663.96,310.20 664.66,309.65 665.36,309.09 666.06,308.51 666.76,307.92 667.46,307.31 668.15,306.69 668.85,306.06 669.55,305.43 670.25,304.78 670.95,304.13 671.65,303.48 672.35,302.81 673.05,302.15 673.75,301.48 674.44,300.81 675.14,300.13 675.84,299.45 676.54,298.77 677.24,298.09 677.94,297.41 678.64,296.72 679.34,296.04 680.03,295.37 680.73,294.72 681.43,294.08 682.13,293.46 682.83,292.88 683.53,292.32 684.23,291.81 684.92,291.34 685.62,290.91 686.32,290.52 687.02,290.14 687.72,289.76 688.42,289.35 689.12,288.91 689.82,288.41 690.51,287.85 691.21,287.19 691.91,286.42 692.61,285.54 693.31,284.57 694.01,283.56 694.71,282.54 695.41,281.55 696.11,280.64 696.80,279.83 697.50,279.17 698.20,278.71 698.90,278.47 699.60,278.48 700.30,278.74 701.00,279.22 701.70,279.90 702.39,280.76 703.09,281.77 703.79,282.92 704.49,284.17 705.19,285.51 705.89,286.91 706.59,288.36 707.28,289.81 707.98,291.25 708.68,292.64 709.38,293.95 710.08,295.16 710.78,296.23 711.48,297.13 712.18,297.83 712.88,298.31 713.57,298.54 714.27,298.54 714.97,298.33 715.67,297.93 716.37,297.37 717.07,296.67 717.77,295.86 718.46,294.96 719.16,293.99 719.86,292.98 720.56,291.95 721.26,290.89 721.96,289.82 722.66,288.74 723.36,287.64 724.05,286.53 724.75,285.41 725.45,284.28 726.15,283.14 726.85,281.99 727.55,280.84 728.25,279.68 728.95,278.52 729.64,277.35 730.34,276.17 731.04,274.99 731.74,273.80 732.44,272.60 733.14,271.40 733.84,270.18 734.54,268.97 735.24,267.75 735.93,266.54 736.63,265.34 737.33,264.16 738.03,263.00 738.73,261.88 739.43,260.80 740.13,259.77 740.82,258.79 741.52,257.86 742.22,257.00 742.92,256.18 743.62,255.40 744.32,254.67 745.02,253.97 745.72,253.30 746.41,252.65 747.11,252.02 747.81,251.41 748.51,250.80 749.21,250.20 749.91,249.61 750.61,249.02 751.31,248.44 752.00,247.87 752.70,247.29 753.40,246.72 754.10,246.15 754.80,245.58" stroke="#ff00ff" stroke-width="1.3" fill="none" stroke-linejoin="round"/>
<polygon points="528.47,251.98 533.38,249.25 533.38,254.71" fill="#ff00ff"/>
<polygon points="535.46,255.26 540.37,252.53 540.37,257.99" fill="#ff00ff"/>
<polygon points="542.45,259.03 547.36,256.30 547.36,261.76" fill="#ff00ff"/>
<polygon points="549.43,263.46 554.35,260.73 554.35,266.19" fill="#ff00ff"/>
<polygon points="556.42,268.71 561.33,265.98 561.33,271.44" fill="#ff00ff"/>
<polygon points="563.41,274.78 568.32,272.05 568.32,277.51" fill="#ff00ff"/>
<polygon points="570.39,281.01 575.31,278.28 575.31,283.74" fill="#ff00ff"/>
<polygon points="577.38,287.49 582.30,284.76 582.30,290.22" fill="#ff00ff"/>
<polygon points="584.37,294.13 589.28,291.40 589.28,296.86" fill="#ff00ff"/>
<polygon points="591.36,300.77 596.27,298.04 596.27,303.50" fill="#ff00ff"/>
<polygon points="598.35,306.92 603.26,304.19 603.26,309.65" fill="#ff00ff"/>
<polygon points="605.33,312.66 610.25,309.93 610.25,315.39" fill="#ff00ff"/>
<polygon points="612.32,317.58 617.23,314.85 617.23,320.31" fill="#ff00ff"/>
<polygon points="619.31,320.70 624.22,317.97 624.22,323.43" fill="#ff00ff"/>
<polygon points="626.29,321.93 631.21,319.20 631.21,324.66" fill="#ff00ff"/>
<polygon points="633.28,321.93 638.20,319.20 638.20,324.66" fill="#ff00ff"/>
<polygon points="640.27,320.70 645.18,317.97 645.18,323.43" fill="#ff00ff"/>
<polygon points="647.26,318.81 652.17,316.08 652.17,321.54" fill="#ff00ff"/>
<polygon points="654.25,314.96 659.16,312.23 659.16,317.69" fill="#ff00ff"/>
<polygon points="661.23,310.20 666.15,307.47 666.15,312.93" fill="#ff00ff"/>
<polygon points="668.22,304.13 673.13,301.40 673.13,306.86" fill="#ff00ff"/>
<polygon points="675.21,297.41 680.12,294.68 680.12,300.14" fill="#ff00ff"/>
<polygon points="682.19,291.34 687.11,288.61 687.11,294.07" fill="#ff00ff"/>
<polygon points="689.18,286.42 694.10,283.69 694.10,289.15" fill="#ff00ff"/>
<polygon points="696.17,278.47 701.08,275.74 701.08,281.20" fill="#ff00ff"/>
<polygon points="703.16,286.91 708.07,284.18 708.07,289.64" fill="#ff00ff"/>
<polygon points="710.14,298.31 715.06,295.58 715.06,301.04" fill="#ff00ff"/>
<polygon points="717.13,292.98 722.05,290.25 722.05,295.71" fill="#ff00ff"/>
<polygon points="724.12,281.99 729.03,279.26 729.03,284.72" fill="#ff00ff"/>
<polygon points="731.11,270.18 736.02,267.45 736.02,272.91" fill="#ff00ff"/>
<polygon points="738.09,258.79 743.01,256.06 743.01,261.52" fill="#ff00ff"/>
<polygon points="745.08,251.41 750.00,248.68 750.00,254.14" fill="#ff00ff"/>
<polygon points="752.07,245.58 756.98,242.85 756.98,248.31" fill="#ff00ff"/>
</g>
<rect x="531.20" y="236.40" width="223.60" height="164.00" fill="none" stroke="#3a3a3a" stroke-width="1.1"/>
<path d="M531.20 400.40v3.2 M545.18 400.40v2.0 M559.15 400.40v3.2 M573.12 400.40v2.0 M587.10 400.40v3.2 M601.08 400.40v2.0 M615.05 400.40v3.2 M629.02 400.40v2.0 M643.00 400.40v3.2 M656.98 400.40v2.0 M670.95 400.40v3.2 M684.92 400.40v2.0 M698.90 400.40v3.2 M712.88 400.40v2.0 M726.85 400.40v3.2 M740.82 400.40v2.0 M754.80 400.40v3.2 M531.20 236.40h-3.2 M531.20 256.90h-2.0 M531.20 277.40h-3.2 M531.20 297.90h-2.0 M531.20 318.40h-3.2 M531.20 338.90h-2.0 M531.20 359.40h-3.2 M531.20 379.90h-2.0 M531.20 400.40h-3.2" stroke="#3a3a3a" stroke-width="1.1" fill="none"/>
<g font-family="Liberation Sans" font-size="7.1" fill="#222" stroke="#222" stroke-width="0.25"><text x="531.70" y="411.90" text-anchor="middle">7</text><text x="559.65" y="411.90" text-anchor="middle">8</text><text x="587.60" y="411.90" text-anchor="middle">9</text><text x="615.55" y="411.90" text-anchor="middle">10</text><text x="643.50" y="411.90" text-anchor="middle">11</text><text x="671.45" y="411.90" text-anchor="middle">12</text><text x="699.40" y="411.90" text-anchor="middle">13</text><text x="727.35" y="411.90" text-anchor="middle">14</text><text x="755.30" y="411.90" text-anchor="middle">15</text><text x="526.20" y="238.00" text-anchor="end">0</text><text x="526.20" y="279.00" text-anchor="end">-5</text><text x="526.20" y="320.00" text-anchor="end">-10</text><text x="526.20" y="361.00" text-anchor="end">-15</text><text x="526.20" y="402.00" text-anchor="end">-20</text></g>
<rect x="611.6" y="245.9" width="50.20" height="50.70" fill="#fff" stroke="#b4b4b4" stroke-width="0.8"/>
<line x1="612.6" y1="251.80" x2="632.0" y2="251.80" stroke="#000000" stroke-width="1.15"/>
<rect x="620.20" y="249.70" width="4.20" height="4.20" fill="#000000"/>
<text x="633.3" y="254.79" font-family="Liberation Sans" font-size="8.3" fill="#000" stroke="#000" stroke-width="0.18">1.0 mm</text>
<line x1="612.6" y1="261.77" x2="632.0" y2="261.77" stroke="#ff0000" stroke-width="1.15"/>
<circle cx="622.30" cy="261.77" r="2.31" fill="#ff0000"/>
<text x="633.3" y="264.76" font-family="Liberation Sans" font-size="8.3" fill="#000" stroke="#000" stroke-width="0.18">1.2 mm</text>
<line x1="612.6" y1="271.74" x2="632.0" y2="271.74" stroke="#0000ff" stroke-width="1.15"/>
<polygon points="622.30,269.01 625.03,273.92 619.57,273.92" fill="#0000ff"/>
<text x="633.3" y="274.73" font-family="Liberation Sans" font-size="8.3" fill="#000" stroke="#000" stroke-width="0.18">1.4 mm</text>
<line x1="612.6" y1="281.71" x2="632.0" y2="281.71" stroke="#008080" stroke-width="1.15"/>
<polygon points="622.30,284.44 625.03,279.53 619.57,279.53" fill="#008080"/>
<text x="633.3" y="284.70" font-family="Liberation Sans" font-size="8.3" fill="#000" stroke="#000" stroke-width="0.18">1.6 mm</text>
<line x1="612.6" y1="291.68" x2="632.0" y2="291.68" stroke="#ff00ff" stroke-width="1.15"/>
<polygon points="619.57,291.68 624.48,288.95 624.48,294.41" fill="#ff00ff"/>
<text x="633.3" y="294.67" font-family="Liberation Sans" font-size="8.3" fill="#000" stroke="#000" stroke-width="0.18">1.8 mm</text>
<text x="648.50" y="428.90" text-anchor="middle" font-family="Liberation Serif" font-size="14.8" fill="#111" stroke="#111" stroke-width="0.25">Frequency [GHz]</text>
<text x="636.80" y="450.60" text-anchor="middle" font-family="Liberation Serif" font-size="16.6" fill="#111" stroke="#111" stroke-width="0.25">(f)</text>
</svg>
</body></html>
